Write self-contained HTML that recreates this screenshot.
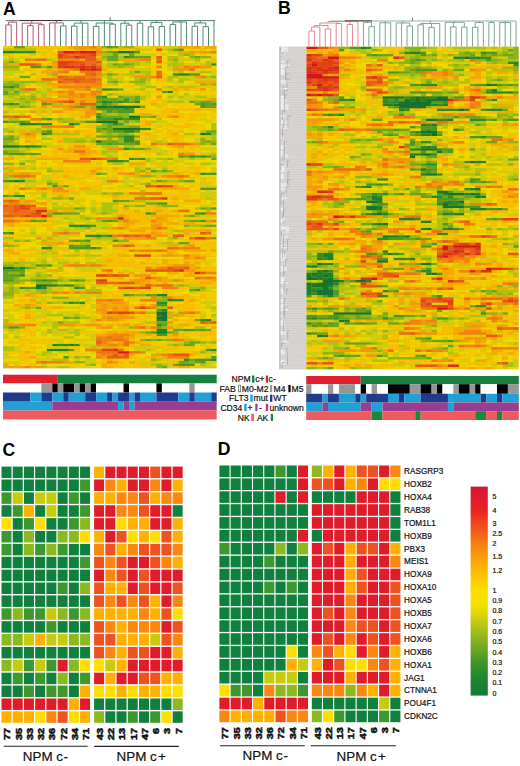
<!DOCTYPE html>
<html><head><meta charset="utf-8"><title>figure</title>
<style>
html,body{margin:0;padding:0;background:#fff;}
body{width:520px;height:766px;position:relative;overflow:hidden;font-family:"Liberation Sans",sans-serif;}
svg{position:absolute;left:0;top:0;}
text{font-family:"Liberation Sans",sans-serif;}
</style></head><body>
<svg width="520" height="766" viewBox="0 0 520 766">
<rect width="520" height="766" fill="#ffffff"/>

<text x="3.0" y="14.6" font-size="17.6" font-weight="bold" fill="#000">A</text>
<text x="278.0" y="14.0" font-size="17.6" font-weight="bold" fill="#000">B</text>
<text x="2.6" y="456.0" font-size="17.6" font-weight="bold" fill="#000">C</text>
<text x="217.8" y="455.4" font-size="17.6" font-weight="bold" fill="#000">D</text>
<defs><filter id="bl11" x="0" y="0" width="1" height="1"><feGaussianBlur stdDeviation="0.40"/></filter><clipPath id="cpbl11"><rect x="3.00" y="46.00" width="213.70" height="322.50"/></clipPath></defs>
<g clip-path="url(#cpbl11)"><g filter="url(#bl11)"><g transform="translate(3.00,46.00) scale(5.47949,2.48077)">
<rect x="0" y="0" width="39" height="130" fill="#d4b709"/>
<path fill="#14732d" d="M21 2h2v1h-2zM17 24h2v1h-2zM20 24h5v1h-5zM23 28h2v1h-2zM17 30h4v1h-4zM20 33h5v1h-5zM36 35h1v1h-1zM17 38h1v1h-1zM0 40h3v1h-3zM4 40h1v1h-1zM0 89h2v1h-2zM6 96h2v1h-2zM6 97h1v1h-1zM28 107h2v1h-2zM29 108h1v1h-1zM28 109h2v1h-2zM29 110h1v1h-1zM28 115h2v1h-2z"/>
<path fill="#20802a" d="M0 2h2v1h-2zM23 2h1v1h-1zM32 11h2v1h-2zM30 18h1v1h-1zM18 22h1v1h-1zM19 24h1v1h-1zM3 31h3v1h-3zM12 31h1v1h-1zM22 34h2v1h-2zM37 35h1v1h-1zM23 36h1v1h-1zM5 40h1v1h-1zM2 54h1v1h-1zM14 72h1v1h-1zM17 76h1v1h-1zM7 81h1v1h-1zM3 89h1v1h-1zM8 96h2v1h-2zM7 97h1v1h-1zM28 100h2v1h-2zM30 102h1v1h-1zM29 106h1v1h-1zM28 108h1v1h-1zM28 110h1v1h-1zM37 110h1v1h-1zM28 114h2v1h-2zM9 120h1v1h-1zM12 120h1v1h-1zM8 122h4v1h-4z"/>
<path fill="#2d8c28" d="M2 2h4v1h-4zM22 4h1v1h-1zM38 7h1v1h-1zM31 11h1v1h-1zM1 16h1v1h-1zM18 17h2v1h-2zM18 20h1v1h-1zM19 22h1v1h-1zM21 22h1v1h-1zM24 22h1v1h-1zM1 23h1v1h-1zM22 25h1v1h-1zM17 28h1v1h-1zM20 29h2v1h-2zM23 29h2v1h-2zM6 31h3v1h-3zM20 31h1v1h-1zM25 33h2v1h-2zM7 35h1v1h-1zM22 36h1v1h-1zM22 37h2v1h-2zM22 38h2v1h-2zM3 40h1v1h-1zM6 40h1v1h-1zM22 41h1v1h-1zM34 44h1v1h-1zM36 44h1v1h-1zM23 45h1v1h-1zM25 45h1v1h-1zM19 46h3v1h-3zM36 51h1v1h-1zM1 54h1v1h-1zM3 54h1v1h-1zM2 60h2v1h-2zM26 67h1v1h-1zM36 67h1v1h-1zM12 72h2v1h-2zM15 72h1v1h-1zM1 75h1v1h-1zM15 76h2v1h-2zM19 76h1v1h-1zM8 81h1v1h-1zM16 81h1v1h-1zM3 92h1v1h-1zM7 94h1v1h-1zM11 96h2v1h-2zM3 97h1v1h-1zM13 97h1v1h-1zM31 102h2v1h-2zM12 103h1v1h-1zM14 103h1v1h-1zM28 103h2v1h-2zM36 110h1v1h-1zM28 112h1v1h-1zM10 120h2v1h-2zM13 120h1v1h-1zM38 122h1v1h-1zM33 126h1v1h-1zM38 126h1v1h-1z"/>
<path fill="#4b9823" d="M19 0h1v1h-1zM32 1h1v1h-1zM20 2h1v1h-1zM24 2h1v1h-1zM23 4h1v1h-1zM5 8h2v1h-2zM8 8h1v1h-1zM34 11h2v1h-2zM0 16h1v1h-1zM20 17h1v1h-1zM29 18h1v1h-1zM17 20h1v1h-1zM22 21h1v1h-1zM17 22h1v1h-1zM20 22h1v1h-1zM22 22h1v1h-1zM0 23h1v1h-1zM2 23h1v1h-1zM7 23h1v1h-1zM18 23h1v1h-1zM36 23h1v1h-1zM38 23h1v1h-1zM36 24h1v1h-1zM17 25h5v1h-5zM23 25h1v1h-1zM19 26h1v1h-1zM21 26h3v1h-3zM17 27h1v1h-1zM8 29h1v1h-1zM17 29h3v1h-3zM22 29h1v1h-1zM0 30h1v1h-1zM3 30h1v1h-1zM15 30h2v1h-2zM13 31h1v1h-1zM21 31h1v1h-1zM18 33h1v1h-1zM8 34h1v1h-1zM20 34h2v1h-2zM24 34h1v1h-1zM8 35h1v1h-1zM21 36h1v1h-1zM24 38h1v1h-1zM19 39h1v1h-1zM24 39h1v1h-1zM1 43h3v1h-3zM5 43h1v1h-1zM32 44h1v1h-1zM35 44h1v1h-1zM37 44h1v1h-1zM24 45h1v1h-1zM22 46h1v1h-1zM27 50h1v1h-1zM37 51h2v1h-2zM0 54h1v1h-1zM9 56h1v1h-1zM36 57h3v1h-3zM0 60h1v1h-1zM20 62h1v1h-1zM28 63h2v1h-2zM38 65h1v1h-1zM9 67h2v1h-2zM35 67h1v1h-1zM5 70h1v1h-1zM19 70h1v1h-1zM36 70h1v1h-1zM16 72h1v1h-1zM0 75h1v1h-1zM18 76h1v1h-1zM13 78h1v1h-1zM15 78h1v1h-1zM20 78h1v1h-1zM12 80h1v1h-1zM15 80h1v1h-1zM12 81h4v1h-4zM17 81h1v1h-1zM6 88h1v1h-1zM8 88h1v1h-1zM2 89h1v1h-1zM0 90h4v1h-4zM1 92h2v1h-2zM0 94h2v1h-2zM6 94h1v1h-1zM8 94h2v1h-2zM13 94h1v1h-1zM10 96h1v1h-1zM4 97h2v1h-2zM14 97h1v1h-1zM35 98h1v1h-1zM22 100h1v1h-1zM26 100h1v1h-1zM13 103h1v1h-1zM28 104h2v1h-2zM28 106h1v1h-1zM1 113h2v1h-2zM33 114h2v1h-2zM36 114h1v1h-1zM27 115h1v1h-1zM28 116h2v1h-2zM12 122h1v1h-1zM37 122h1v1h-1zM11 125h1v1h-1zM38 125h1v1h-1zM35 126h3v1h-3zM36 127h1v1h-1zM32 128h3v1h-3z"/>
<path fill="#69a51e" d="M2 0h2v1h-2zM20 0h1v1h-1zM31 1h1v1h-1zM19 2h1v1h-1zM20 3h1v1h-1zM23 3h1v1h-1zM19 4h2v1h-2zM24 4h3v1h-3zM35 4h1v1h-1zM19 5h2v1h-2zM1 6h1v1h-1zM20 7h1v1h-1zM22 7h1v1h-1zM24 10h1v1h-1zM19 11h1v1h-1zM3 12h2v1h-2zM20 14h1v1h-1zM2 15h1v1h-1zM2 16h1v1h-1zM21 17h1v1h-1zM0 18h1v1h-1zM2 18h1v1h-1zM0 19h1v1h-1zM21 20h1v1h-1zM24 20h1v1h-1zM17 21h4v1h-4zM24 21h1v1h-1zM23 22h1v1h-1zM34 22h1v1h-1zM36 22h2v1h-2zM8 23h1v1h-1zM19 23h1v1h-1zM35 23h1v1h-1zM37 23h1v1h-1zM3 24h1v1h-1zM13 24h2v1h-2zM25 24h1v1h-1zM37 24h2v1h-2zM20 26h1v1h-1zM18 28h4v1h-4zM27 28h1v1h-1zM7 29h1v1h-1zM1 30h2v1h-2zM4 30h1v1h-1zM22 30h1v1h-1zM19 31h1v1h-1zM19 32h1v1h-1zM23 32h2v1h-2zM17 33h1v1h-1zM19 33h1v1h-1zM7 34h1v1h-1zM17 34h1v1h-1zM19 34h1v1h-1zM37 34h2v1h-2zM1 36h1v1h-1zM17 36h4v1h-4zM24 36h1v1h-1zM0 37h2v1h-2zM18 38h3v1h-3zM37 38h1v1h-1zM17 39h2v1h-2zM20 39h4v1h-4zM38 39h1v1h-1zM23 41h3v1h-3zM0 42h1v1h-1zM0 43h1v1h-1zM4 43h1v1h-1zM6 43h1v1h-1zM33 44h1v1h-1zM38 45h1v1h-1zM3 47h1v1h-1zM29 50h1v1h-1zM17 51h1v1h-1zM28 54h1v1h-1zM33 54h2v1h-2zM8 55h1v1h-1zM11 56h1v1h-1zM1 60h1v1h-1zM12 61h1v1h-1zM21 62h2v1h-2zM26 63h2v1h-2zM13 65h1v1h-1zM36 65h1v1h-1zM11 67h3v1h-3zM27 67h1v1h-1zM34 68h1v1h-1zM6 70h2v1h-2zM18 70h1v1h-1zM20 70h1v1h-1zM34 70h2v1h-2zM37 72h2v1h-2zM38 77h1v1h-1zM12 78h1v1h-1zM14 78h1v1h-1zM32 79h2v1h-2zM13 80h2v1h-2zM7 88h1v1h-1zM4 89h1v1h-1zM0 91h1v1h-1zM3 91h1v1h-1zM0 92h1v1h-1zM0 93h2v1h-2zM5 94h1v1h-1zM12 94h1v1h-1zM14 94h1v1h-1zM34 98h1v1h-1zM23 100h1v1h-1zM27 100h1v1h-1zM11 103h1v1h-1zM6 105h1v1h-1zM11 109h1v1h-1zM13 109h1v1h-1zM35 110h1v1h-1zM10 111h1v1h-1zM28 111h2v1h-2zM29 112h1v1h-1zM28 113h1v1h-1zM31 114h2v1h-2zM35 114h1v1h-1zM37 114h1v1h-1zM26 115h1v1h-1zM30 115h1v1h-1zM26 118h1v1h-1zM28 118h1v1h-1zM34 119h2v1h-2zM33 120h2v1h-2zM34 126h1v1h-1zM32 127h2v1h-2zM35 127h1v1h-1zM31 128h1v1h-1zM29 129h1v1h-1z"/>
<path fill="#8cb416" d="M18 0h1v1h-1zM22 0h2v1h-2zM18 2h1v1h-1zM33 3h1v1h-1zM18 4h1v1h-1zM34 4h1v1h-1zM36 4h2v1h-2zM31 5h1v1h-1zM21 7h1v1h-1zM23 7h1v1h-1zM0 8h3v1h-3zM7 8h1v1h-1zM21 8h1v1h-1zM9 11h1v1h-1zM20 11h1v1h-1zM38 12h1v1h-1zM25 13h1v1h-1zM1 14h1v1h-1zM3 14h3v1h-3zM19 14h1v1h-1zM23 14h3v1h-3zM0 15h2v1h-2zM36 15h1v1h-1zM38 15h1v1h-1zM0 17h2v1h-2zM1 19h2v1h-2zM19 19h1v1h-1zM5 20h1v1h-1zM22 20h2v1h-2zM3 21h1v1h-1zM5 21h1v1h-1zM21 21h1v1h-1zM23 21h1v1h-1zM4 22h1v1h-1zM35 22h1v1h-1zM38 22h1v1h-1zM17 23h1v1h-1zM20 23h1v1h-1zM4 24h1v1h-1zM16 24h1v1h-1zM18 26h1v1h-1zM18 27h1v1h-1zM21 27h2v1h-2zM22 28h1v1h-1zM25 28h2v1h-2zM10 29h1v1h-1zM11 30h1v1h-1zM14 30h1v1h-1zM24 30h1v1h-1zM18 31h1v1h-1zM17 32h2v1h-2zM20 32h3v1h-3zM1 34h1v1h-1zM18 34h1v1h-1zM19 35h1v1h-1zM21 35h2v1h-2zM38 35h1v1h-1zM0 36h1v1h-1zM2 37h1v1h-1zM19 37h1v1h-1zM21 37h1v1h-1zM36 37h1v1h-1zM0 38h2v1h-2zM13 38h2v1h-2zM16 38h1v1h-1zM21 38h1v1h-1zM36 38h1v1h-1zM38 38h1v1h-1zM0 39h1v1h-1zM36 39h1v1h-1zM7 40h1v1h-1zM26 41h1v1h-1zM1 42h2v1h-2zM38 44h1v1h-1zM30 45h1v1h-1zM0 47h2v1h-2zM26 49h1v1h-1zM8 50h1v1h-1zM25 50h1v1h-1zM28 50h1v1h-1zM30 50h1v1h-1zM18 51h1v1h-1zM1 52h1v1h-1zM25 52h2v1h-2zM29 54h1v1h-1zM32 54h1v1h-1zM9 55h1v1h-1zM26 55h1v1h-1zM18 59h1v1h-1zM20 59h2v1h-2zM9 61h2v1h-2zM23 62h1v1h-1zM22 64h1v1h-1zM24 64h2v1h-2zM29 64h3v1h-3zM14 65h1v1h-1zM37 65h1v1h-1zM8 67h1v1h-1zM18 67h1v1h-1zM33 68h1v1h-1zM15 69h1v1h-1zM33 70h1v1h-1zM33 72h1v1h-1zM36 72h1v1h-1zM15 73h1v1h-1zM17 77h1v1h-1zM31 77h1v1h-1zM2 78h1v1h-1zM4 78h1v1h-1zM21 78h2v1h-2zM0 80h2v1h-2zM2 87h1v1h-1zM0 88h2v1h-2zM5 89h1v1h-1zM1 91h2v1h-2zM6 92h1v1h-1zM8 92h1v1h-1zM2 93h1v1h-1zM2 94h3v1h-3zM10 94h1v1h-1zM0 95h3v1h-3zM6 95h3v1h-3zM13 96h1v1h-1zM32 96h1v1h-1zM1 97h1v1h-1zM36 97h1v1h-1zM1 98h1v1h-1zM6 98h2v1h-2zM0 99h2v1h-2zM7 99h1v1h-1zM0 100h2v1h-2zM24 100h2v1h-2zM9 101h3v1h-3zM29 101h1v1h-1zM28 102h2v1h-2zM8 103h1v1h-1zM4 105h1v1h-1zM32 107h1v1h-1zM12 109h1v1h-1zM0 113h1v1h-1zM3 113h1v1h-1zM23 113h1v1h-1zM29 113h1v1h-1zM25 115h1v1h-1zM31 115h1v1h-1zM25 118h1v1h-1zM27 118h1v1h-1zM29 118h2v1h-2zM33 119h1v1h-1zM36 119h1v1h-1zM38 119h1v1h-1zM31 120h1v1h-1zM36 123h1v1h-1zM13 125h1v1h-1zM15 125h1v1h-1zM27 126h1v1h-1zM13 127h2v1h-2zM34 127h1v1h-1zM16 128h1v1h-1zM28 128h1v1h-1zM28 129h1v1h-1z"/>
<path fill="#afc30f" d="M21 0h1v1h-1zM0 1h6v1h-6zM24 1h1v1h-1zM30 1h1v1h-1zM18 3h2v1h-2zM32 3h1v1h-1zM34 3h1v1h-1zM21 4h1v1h-1zM30 4h2v1h-2zM1 5h1v1h-1zM8 5h1v1h-1zM18 5h1v1h-1zM21 5h1v1h-1zM30 5h1v1h-1zM35 5h1v1h-1zM0 6h1v1h-1zM2 6h1v1h-1zM22 6h3v1h-3zM26 6h1v1h-1zM31 6h1v1h-1zM37 6h1v1h-1zM19 7h1v1h-1zM24 7h1v1h-1zM30 7h3v1h-3zM37 7h1v1h-1zM19 8h2v1h-2zM22 8h2v1h-2zM31 8h1v1h-1zM0 9h3v1h-3zM23 10h1v1h-1zM25 10h2v1h-2zM32 10h1v1h-1zM36 10h2v1h-2zM5 11h1v1h-1zM8 11h1v1h-1zM18 11h1v1h-1zM22 11h2v1h-2zM26 11h1v1h-1zM19 12h1v1h-1zM30 12h2v1h-2zM37 12h1v1h-1zM19 13h2v1h-2zM24 13h1v1h-1zM26 13h1v1h-1zM30 13h1v1h-1zM32 13h2v1h-2zM0 14h1v1h-1zM2 14h1v1h-1zM6 14h3v1h-3zM21 14h1v1h-1zM32 14h1v1h-1zM3 15h1v1h-1zM20 15h1v1h-1zM24 15h2v1h-2zM37 15h1v1h-1zM3 16h1v1h-1zM26 16h2v1h-2zM30 16h1v1h-1zM32 16h3v1h-3zM2 17h1v1h-1zM8 17h1v1h-1zM17 17h1v1h-1zM25 17h1v1h-1zM1 18h1v1h-1zM3 18h2v1h-2zM6 18h1v1h-1zM5 19h1v1h-1zM7 19h1v1h-1zM20 19h1v1h-1zM33 19h1v1h-1zM1 20h1v1h-1zM3 20h2v1h-2zM7 20h1v1h-1zM25 20h1v1h-1zM30 20h1v1h-1zM32 20h1v1h-1zM35 20h2v1h-2zM2 21h1v1h-1zM4 21h1v1h-1zM25 21h1v1h-1zM0 22h2v1h-2zM3 22h1v1h-1zM5 22h1v1h-1zM30 22h3v1h-3zM3 23h2v1h-2zM9 23h2v1h-2zM1 24h2v1h-2zM5 24h1v1h-1zM15 24h1v1h-1zM0 26h1v1h-1zM19 27h2v1h-2zM1 29h2v1h-2zM9 29h1v1h-1zM11 29h2v1h-2zM28 29h1v1h-1zM10 30h1v1h-1zM12 30h2v1h-2zM21 30h1v1h-1zM23 30h1v1h-1zM27 30h1v1h-1zM22 31h1v1h-1zM38 31h1v1h-1zM38 32h1v1h-1zM0 33h1v1h-1zM6 33h1v1h-1zM8 33h1v1h-1zM38 33h1v1h-1zM0 34h1v1h-1zM5 34h2v1h-2zM36 34h1v1h-1zM9 35h5v1h-5zM18 35h1v1h-1zM20 35h1v1h-1zM23 35h1v1h-1zM33 35h2v1h-2zM2 36h1v1h-1zM38 36h1v1h-1zM7 37h2v1h-2zM11 37h4v1h-4zM16 37h1v1h-1zM38 37h1v1h-1zM11 38h2v1h-2zM15 38h1v1h-1zM28 38h1v1h-1zM1 39h2v1h-2zM37 39h1v1h-1zM18 40h3v1h-3zM22 40h2v1h-2zM0 41h3v1h-3zM4 41h1v1h-1zM3 42h1v1h-1zM18 42h3v1h-3zM18 43h1v1h-1zM28 43h1v1h-1zM38 43h1v1h-1zM19 44h1v1h-1zM26 45h1v1h-1zM28 45h2v1h-2zM34 45h1v1h-1zM4 46h2v1h-2zM26 46h1v1h-1zM20 47h2v1h-2zM36 47h2v1h-2zM5 49h1v1h-1zM8 49h1v1h-1zM24 49h1v1h-1zM29 49h1v1h-1zM1 50h1v1h-1zM9 50h2v1h-2zM24 50h1v1h-1zM0 52h1v1h-1zM24 52h1v1h-1zM27 52h1v1h-1zM0 53h1v1h-1zM3 53h1v1h-1zM4 54h2v1h-2zM8 54h1v1h-1zM27 54h1v1h-1zM30 54h2v1h-2zM25 55h1v1h-1zM10 56h1v1h-1zM23 56h1v1h-1zM25 58h1v1h-1zM2 59h1v1h-1zM7 59h1v1h-1zM19 59h1v1h-1zM7 60h1v1h-1zM25 60h1v1h-1zM3 61h1v1h-1zM11 61h1v1h-1zM37 61h1v1h-1zM24 62h2v1h-2zM9 63h1v1h-1zM18 63h3v1h-3zM18 64h2v1h-2zM23 64h1v1h-1zM28 64h1v1h-1zM9 65h4v1h-4zM16 65h1v1h-1zM18 65h2v1h-2zM35 65h1v1h-1zM14 66h1v1h-1zM16 66h1v1h-1zM18 66h3v1h-3zM37 66h1v1h-1zM17 67h1v1h-1zM19 67h1v1h-1zM14 68h1v1h-1zM35 68h1v1h-1zM11 69h1v1h-1zM14 69h1v1h-1zM16 69h1v1h-1zM17 70h1v1h-1zM21 70h1v1h-1zM12 71h1v1h-1zM34 72h2v1h-2zM13 73h2v1h-2zM18 73h1v1h-1zM11 74h1v1h-1zM31 74h2v1h-2zM5 75h1v1h-1zM9 76h1v1h-1zM0 77h2v1h-2zM18 77h3v1h-3zM30 77h1v1h-1zM3 78h1v1h-1zM7 78h1v1h-1zM14 79h2v1h-2zM29 79h2v1h-2zM2 80h1v1h-1zM8 80h1v1h-1zM13 82h1v1h-1zM7 83h1v1h-1zM9 83h1v1h-1zM11 84h3v1h-3zM15 84h3v1h-3zM7 86h1v1h-1zM0 87h2v1h-2zM3 87h3v1h-3zM7 87h1v1h-1zM10 87h2v1h-2zM13 87h1v1h-1zM15 87h2v1h-2zM2 88h2v1h-2zM5 88h1v1h-1zM7 89h1v1h-1zM10 89h1v1h-1zM6 91h1v1h-1zM7 92h1v1h-1zM5 93h3v1h-3zM10 93h1v1h-1zM11 94h1v1h-1zM15 94h1v1h-1zM3 95h1v1h-1zM9 95h1v1h-1zM1 96h1v1h-1zM14 96h1v1h-1zM31 96h1v1h-1zM33 96h1v1h-1zM0 97h1v1h-1zM2 97h1v1h-1zM8 97h1v1h-1zM16 97h1v1h-1zM34 97h2v1h-2zM0 98h1v1h-1zM2 98h1v1h-1zM4 98h1v1h-1zM8 98h1v1h-1zM15 98h3v1h-3zM36 98h1v1h-1zM2 99h1v1h-1zM5 99h2v1h-2zM8 99h1v1h-1zM0 101h2v1h-2zM28 101h1v1h-1zM6 103h1v1h-1zM9 103h2v1h-2zM3 105h1v1h-1zM5 105h1v1h-1zM28 105h2v1h-2zM38 105h1v1h-1zM26 107h2v1h-2zM30 107h1v1h-1zM8 108h3v1h-3zM13 108h1v1h-1zM38 108h1v1h-1zM14 109h2v1h-2zM30 109h1v1h-1zM0 110h1v1h-1zM0 111h1v1h-1zM7 111h1v1h-1zM9 111h1v1h-1zM11 111h3v1h-3zM26 111h1v1h-1zM9 112h1v1h-1zM9 113h1v1h-1zM35 113h2v1h-2zM1 114h1v1h-1zM8 114h1v1h-1zM10 114h2v1h-2zM13 114h1v1h-1zM8 115h1v1h-1zM12 115h2v1h-2zM13 116h1v1h-1zM2 117h1v1h-1zM11 117h2v1h-2zM34 118h1v1h-1zM37 119h1v1h-1zM30 120h1v1h-1zM32 120h1v1h-1zM0 121h2v1h-2zM16 121h1v1h-1zM0 122h2v1h-2zM26 122h1v1h-1zM7 123h2v1h-2zM38 123h1v1h-1zM7 124h1v1h-1zM27 124h1v1h-1zM14 125h1v1h-1zM9 126h3v1h-3zM28 126h1v1h-1zM0 128h1v1h-1zM15 128h1v1h-1zM27 128h1v1h-1zM29 128h1v1h-1zM36 128h1v1h-1zM7 129h1v1h-1zM10 129h2v1h-2z"/>
<path fill="#d0cd08" d="M4 0h2v1h-2zM30 0h2v1h-2zM19 1h1v1h-1zM25 1h2v1h-2zM29 1h1v1h-1zM36 1h1v1h-1zM38 1h1v1h-1zM6 2h2v1h-2zM30 2h2v1h-2zM0 3h1v1h-1zM5 3h1v1h-1zM21 3h2v1h-2zM24 3h4v1h-4zM29 3h1v1h-1zM1 4h1v1h-1zM3 4h1v1h-1zM32 4h1v1h-1zM0 5h1v1h-1zM2 5h1v1h-1zM9 5h1v1h-1zM32 5h3v1h-3zM38 5h1v1h-1zM19 6h2v1h-2zM25 6h1v1h-1zM30 6h1v1h-1zM32 6h1v1h-1zM35 6h1v1h-1zM38 6h1v1h-1zM18 7h1v1h-1zM25 7h2v1h-2zM33 7h2v1h-2zM36 7h1v1h-1zM18 8h1v1h-1zM30 8h1v1h-1zM24 9h3v1h-3zM30 9h1v1h-1zM0 10h4v1h-4zM19 10h1v1h-1zM31 10h1v1h-1zM34 10h2v1h-2zM38 10h1v1h-1zM0 11h2v1h-2zM21 11h1v1h-1zM24 11h2v1h-2zM38 11h1v1h-1zM18 12h1v1h-1zM23 12h1v1h-1zM32 12h3v1h-3zM0 13h3v1h-3zM21 13h1v1h-1zM34 13h5v1h-5zM22 14h1v1h-1zM26 14h1v1h-1zM30 14h2v1h-2zM4 15h1v1h-1zM6 15h2v1h-2zM19 15h1v1h-1zM26 15h1v1h-1zM7 16h1v1h-1zM25 16h1v1h-1zM29 16h1v1h-1zM31 16h1v1h-1zM35 16h1v1h-1zM6 17h2v1h-2zM24 17h1v1h-1zM38 17h1v1h-1zM5 18h1v1h-1zM7 18h1v1h-1zM26 18h1v1h-1zM31 18h1v1h-1zM3 19h1v1h-1zM6 19h1v1h-1zM21 19h4v1h-4zM26 19h1v1h-1zM31 19h1v1h-1zM0 20h1v1h-1zM2 20h1v1h-1zM6 20h1v1h-1zM8 20h1v1h-1zM19 20h1v1h-1zM26 20h1v1h-1zM31 20h1v1h-1zM33 20h2v1h-2zM37 20h2v1h-2zM0 21h2v1h-2zM30 21h1v1h-1zM32 21h5v1h-5zM2 22h1v1h-1zM6 22h1v1h-1zM29 22h1v1h-1zM33 22h1v1h-1zM5 23h1v1h-1zM21 23h1v1h-1zM0 24h1v1h-1zM28 24h1v1h-1zM1 25h1v1h-1zM6 25h3v1h-3zM1 26h4v1h-4zM0 27h1v1h-1zM3 27h1v1h-1zM6 27h1v1h-1zM8 27h1v1h-1zM23 27h2v1h-2zM7 28h1v1h-1zM0 29h1v1h-1zM36 29h1v1h-1zM6 30h1v1h-1zM28 30h2v1h-2zM37 30h1v1h-1zM2 31h1v1h-1zM23 31h1v1h-1zM1 32h1v1h-1zM3 32h1v1h-1zM28 32h1v1h-1zM1 33h5v1h-5zM7 33h1v1h-1zM27 33h1v1h-1zM2 34h1v1h-1zM4 34h1v1h-1zM35 35h1v1h-1zM7 36h1v1h-1zM27 36h1v1h-1zM36 36h2v1h-2zM15 37h1v1h-1zM18 37h1v1h-1zM20 37h1v1h-1zM29 37h1v1h-1zM35 37h1v1h-1zM37 37h1v1h-1zM2 38h1v1h-1zM6 38h1v1h-1zM27 38h1v1h-1zM29 38h1v1h-1zM35 38h1v1h-1zM5 39h1v1h-1zM7 39h2v1h-2zM8 40h3v1h-3zM26 40h1v1h-1zM3 41h1v1h-1zM5 41h2v1h-2zM18 41h1v1h-1zM27 41h2v1h-2zM36 41h3v1h-3zM4 42h1v1h-1zM27 42h3v1h-3zM19 43h2v1h-2zM29 43h1v1h-1zM36 43h2v1h-2zM1 44h1v1h-1zM3 44h1v1h-1zM5 44h1v1h-1zM20 44h1v1h-1zM27 45h1v1h-1zM31 45h3v1h-3zM35 45h2v1h-2zM3 46h1v1h-1zM27 46h1v1h-1zM29 46h1v1h-1zM31 46h2v1h-2zM2 47h1v1h-1zM5 47h1v1h-1zM19 47h1v1h-1zM27 47h4v1h-4zM33 47h2v1h-2zM38 47h1v1h-1zM3 48h3v1h-3zM23 48h3v1h-3zM29 48h1v1h-1zM4 49h1v1h-1zM6 49h2v1h-2zM25 49h1v1h-1zM27 49h1v1h-1zM38 49h1v1h-1zM0 50h1v1h-1zM26 50h1v1h-1zM38 50h1v1h-1zM27 51h3v1h-3zM7 52h2v1h-2zM22 52h2v1h-2zM1 53h2v1h-2zM4 53h2v1h-2zM7 53h2v1h-2zM12 53h2v1h-2zM18 53h3v1h-3zM22 53h1v1h-1zM34 53h1v1h-1zM36 53h1v1h-1zM6 54h2v1h-2zM9 54h1v1h-1zM18 54h1v1h-1zM22 54h3v1h-3zM4 55h2v1h-2zM18 55h2v1h-2zM22 55h1v1h-1zM36 55h2v1h-2zM0 56h1v1h-1zM2 56h1v1h-1zM4 56h2v1h-2zM8 56h1v1h-1zM21 56h2v1h-2zM36 56h3v1h-3zM15 58h3v1h-3zM37 58h1v1h-1zM4 59h3v1h-3zM12 59h2v1h-2zM15 59h3v1h-3zM22 59h1v1h-1zM36 59h3v1h-3zM24 60h1v1h-1zM36 60h3v1h-3zM6 61h3v1h-3zM20 61h1v1h-1zM38 61h1v1h-1zM8 62h1v1h-1zM12 62h3v1h-3zM16 62h1v1h-1zM26 62h2v1h-2zM11 63h1v1h-1zM13 63h1v1h-1zM16 63h1v1h-1zM38 63h1v1h-1zM9 64h2v1h-2zM12 64h1v1h-1zM14 64h1v1h-1zM16 64h1v1h-1zM20 64h1v1h-1zM36 64h2v1h-2zM15 65h1v1h-1zM17 65h1v1h-1zM20 65h1v1h-1zM13 66h1v1h-1zM17 66h1v1h-1zM16 67h1v1h-1zM20 67h1v1h-1zM9 68h5v1h-5zM15 68h1v1h-1zM20 68h1v1h-1zM36 68h3v1h-3zM12 69h2v1h-2zM26 69h1v1h-1zM9 70h2v1h-2zM12 70h4v1h-4zM9 71h3v1h-3zM15 71h4v1h-4zM37 71h1v1h-1zM17 72h3v1h-3zM5 73h1v1h-1zM8 73h1v1h-1zM10 73h3v1h-3zM16 73h2v1h-2zM3 74h1v1h-1zM5 74h1v1h-1zM9 74h2v1h-2zM12 74h3v1h-3zM16 74h1v1h-1zM30 74h1v1h-1zM17 75h2v1h-2zM30 75h1v1h-1zM34 75h1v1h-1zM3 76h6v1h-6zM10 76h4v1h-4zM10 77h2v1h-2zM15 77h1v1h-1zM32 77h1v1h-1zM0 78h2v1h-2zM5 78h1v1h-1zM8 78h3v1h-3zM16 78h4v1h-4zM6 79h1v1h-1zM16 79h2v1h-2zM19 79h1v1h-1zM21 79h1v1h-1zM28 79h1v1h-1zM31 79h1v1h-1zM7 80h1v1h-1zM9 80h1v1h-1zM5 81h1v1h-1zM9 81h3v1h-3zM18 81h1v1h-1zM20 81h1v1h-1zM15 82h1v1h-1zM6 83h1v1h-1zM8 83h1v1h-1zM13 83h1v1h-1zM15 83h1v1h-1zM7 84h2v1h-2zM14 84h1v1h-1zM6 85h2v1h-2zM9 85h1v1h-1zM15 85h2v1h-2zM6 86h1v1h-1zM9 86h3v1h-3zM17 86h1v1h-1zM6 87h1v1h-1zM8 87h1v1h-1zM12 87h1v1h-1zM17 87h2v1h-2zM37 87h1v1h-1zM4 88h1v1h-1zM9 88h2v1h-2zM6 89h1v1h-1zM13 89h5v1h-5zM4 90h1v1h-1zM14 90h3v1h-3zM22 90h1v1h-1zM5 91h1v1h-1zM7 91h1v1h-1zM9 91h1v1h-1zM4 92h2v1h-2zM3 93h2v1h-2zM8 93h1v1h-1zM11 93h4v1h-4zM16 94h1v1h-1zM5 95h1v1h-1zM10 95h2v1h-2zM13 95h2v1h-2zM0 96h1v1h-1zM16 96h3v1h-3zM34 96h2v1h-2zM9 97h2v1h-2zM12 97h1v1h-1zM19 97h1v1h-1zM37 97h2v1h-2zM3 98h1v1h-1zM5 98h1v1h-1zM9 98h2v1h-2zM12 98h3v1h-3zM26 98h1v1h-1zM37 98h1v1h-1zM3 99h2v1h-2zM34 99h1v1h-1zM14 100h4v1h-4zM5 101h4v1h-4zM12 101h4v1h-4zM17 101h1v1h-1zM7 102h1v1h-1zM10 102h4v1h-4zM15 102h1v1h-1zM0 103h2v1h-2zM7 103h1v1h-1zM36 103h3v1h-3zM14 104h1v1h-1zM16 104h1v1h-1zM37 104h1v1h-1zM11 105h3v1h-3zM16 105h1v1h-1zM37 105h1v1h-1zM0 106h3v1h-3zM6 106h2v1h-2zM38 106h1v1h-1zM7 107h2v1h-2zM10 107h4v1h-4zM16 107h1v1h-1zM31 107h1v1h-1zM0 108h2v1h-2zM6 108h2v1h-2zM11 108h2v1h-2zM14 108h1v1h-1zM36 108h1v1h-1zM1 109h1v1h-1zM6 109h1v1h-1zM16 109h1v1h-1zM36 109h1v1h-1zM38 109h1v1h-1zM1 110h2v1h-2zM8 110h1v1h-1zM11 110h1v1h-1zM13 110h1v1h-1zM38 110h1v1h-1zM1 111h1v1h-1zM8 111h1v1h-1zM16 111h1v1h-1zM25 111h1v1h-1zM7 112h2v1h-2zM12 113h1v1h-1zM21 113h2v1h-2zM31 113h2v1h-2zM0 114h1v1h-1zM2 114h1v1h-1zM6 114h1v1h-1zM9 114h1v1h-1zM12 114h1v1h-1zM14 114h1v1h-1zM1 115h2v1h-2zM7 115h1v1h-1zM9 115h3v1h-3zM0 116h1v1h-1zM2 116h1v1h-1zM7 116h1v1h-1zM9 116h2v1h-2zM15 116h2v1h-2zM0 117h1v1h-1zM16 117h1v1h-1zM27 117h1v1h-1zM33 117h1v1h-1zM9 118h2v1h-2zM13 118h4v1h-4zM35 118h1v1h-1zM1 119h1v1h-1zM10 119h1v1h-1zM32 119h1v1h-1zM8 120h1v1h-1zM14 120h3v1h-3zM2 121h1v1h-1zM8 121h4v1h-4zM15 121h1v1h-1zM17 121h1v1h-1zM24 121h5v1h-5zM37 121h1v1h-1zM2 122h1v1h-1zM24 122h2v1h-2zM27 122h1v1h-1zM29 122h1v1h-1zM36 122h1v1h-1zM10 123h2v1h-2zM16 123h1v1h-1zM35 123h1v1h-1zM37 123h1v1h-1zM0 124h1v1h-1zM6 124h1v1h-1zM8 124h2v1h-2zM0 125h2v1h-2zM8 125h1v1h-1zM12 125h1v1h-1zM37 125h1v1h-1zM6 126h3v1h-3zM13 126h1v1h-1zM15 126h2v1h-2zM25 126h1v1h-1zM29 126h1v1h-1zM2 127h1v1h-1zM15 127h2v1h-2zM27 127h1v1h-1zM37 127h2v1h-2zM2 128h1v1h-1zM7 128h1v1h-1zM25 128h2v1h-2zM30 128h1v1h-1zM37 128h1v1h-1zM8 129h2v1h-2zM36 129h3v1h-3z"/>
<path fill="#f0d700" d="M0 0h1v1h-1zM25 0h2v1h-2zM9 1h1v1h-1zM20 1h1v1h-1zM27 1h1v1h-1zM33 1h1v1h-1zM37 1h1v1h-1zM9 2h1v1h-1zM25 2h3v1h-3zM29 2h1v1h-1zM2 3h3v1h-3zM6 3h1v1h-1zM28 3h1v1h-1zM30 3h2v1h-2zM35 3h1v1h-1zM37 3h2v1h-2zM0 4h1v1h-1zM2 4h1v1h-1zM5 4h2v1h-2zM29 4h1v1h-1zM33 4h1v1h-1zM3 5h1v1h-1zM27 5h1v1h-1zM29 5h1v1h-1zM36 5h2v1h-2zM18 6h1v1h-1zM21 6h1v1h-1zM27 6h1v1h-1zM33 6h2v1h-2zM36 6h1v1h-1zM27 7h1v1h-1zM29 7h1v1h-1zM3 8h2v1h-2zM24 8h2v1h-2zM29 8h1v1h-1zM38 8h1v1h-1zM3 9h1v1h-1zM28 9h2v1h-2zM35 9h1v1h-1zM37 9h1v1h-1zM4 10h1v1h-1zM13 10h1v1h-1zM20 10h1v1h-1zM22 10h1v1h-1zM29 10h2v1h-2zM33 10h1v1h-1zM2 11h3v1h-3zM6 11h1v1h-1zM27 11h1v1h-1zM30 11h1v1h-1zM36 11h2v1h-2zM1 12h1v1h-1zM5 12h1v1h-1zM22 12h1v1h-1zM3 13h2v1h-2zM18 13h1v1h-1zM22 13h2v1h-2zM27 13h1v1h-1zM31 13h1v1h-1zM9 14h1v1h-1zM18 14h1v1h-1zM27 14h1v1h-1zM33 14h2v1h-2zM5 15h1v1h-1zM21 15h3v1h-3zM27 15h2v1h-2zM30 15h1v1h-1zM33 15h1v1h-1zM4 16h3v1h-3zM19 16h3v1h-3zM24 16h1v1h-1zM28 16h1v1h-1zM9 17h2v1h-2zM16 17h1v1h-1zM22 17h2v1h-2zM26 17h2v1h-2zM37 17h1v1h-1zM19 18h1v1h-1zM21 18h1v1h-1zM24 18h1v1h-1zM32 18h4v1h-4zM4 19h1v1h-1zM18 19h1v1h-1zM25 19h1v1h-1zM27 19h4v1h-4zM32 19h1v1h-1zM34 19h1v1h-1zM36 19h1v1h-1zM9 20h1v1h-1zM27 20h1v1h-1zM29 20h1v1h-1zM27 21h1v1h-1zM31 21h1v1h-1zM25 22h1v1h-1zM28 22h1v1h-1zM6 23h1v1h-1zM22 23h1v1h-1zM30 23h1v1h-1zM26 24h2v1h-2zM30 24h2v1h-2zM33 24h1v1h-1zM35 24h1v1h-1zM2 25h3v1h-3zM9 25h1v1h-1zM27 25h2v1h-2zM24 26h1v1h-1zM32 26h3v1h-3zM36 26h2v1h-2zM1 27h2v1h-2zM4 27h2v1h-2zM7 27h1v1h-1zM9 27h1v1h-1zM5 28h2v1h-2zM8 28h2v1h-2zM16 28h1v1h-1zM37 28h1v1h-1zM3 29h2v1h-2zM26 29h2v1h-2zM29 29h2v1h-2zM5 30h1v1h-1zM7 30h1v1h-1zM30 30h1v1h-1zM34 30h3v1h-3zM38 30h1v1h-1zM0 31h2v1h-2zM9 31h1v1h-1zM11 31h1v1h-1zM15 31h1v1h-1zM31 31h2v1h-2zM36 31h2v1h-2zM0 32h1v1h-1zM2 32h1v1h-1zM5 32h2v1h-2zM13 32h1v1h-1zM27 32h1v1h-1zM29 32h1v1h-1zM37 32h1v1h-1zM9 33h1v1h-1zM12 33h4v1h-4zM28 33h1v1h-1zM33 33h1v1h-1zM37 33h1v1h-1zM26 34h2v1h-2zM29 34h1v1h-1zM33 34h3v1h-3zM0 35h1v1h-1zM28 35h1v1h-1zM32 35h1v1h-1zM6 36h1v1h-1zM8 36h1v1h-1zM25 36h1v1h-1zM35 36h1v1h-1zM3 37h1v1h-1zM6 37h1v1h-1zM28 37h1v1h-1zM30 37h1v1h-1zM33 37h2v1h-2zM3 38h1v1h-1zM7 38h2v1h-2zM25 38h2v1h-2zM30 38h1v1h-1zM33 38h2v1h-2zM3 39h2v1h-2zM6 39h1v1h-1zM9 39h1v1h-1zM15 39h1v1h-1zM26 39h1v1h-1zM11 40h1v1h-1zM21 40h1v1h-1zM28 40h2v1h-2zM36 40h3v1h-3zM7 41h2v1h-2zM16 41h2v1h-2zM29 41h2v1h-2zM5 42h2v1h-2zM21 42h3v1h-3zM31 42h1v1h-1zM36 42h2v1h-2zM7 43h1v1h-1zM21 43h1v1h-1zM23 43h1v1h-1zM25 43h1v1h-1zM27 43h1v1h-1zM31 43h1v1h-1zM0 44h1v1h-1zM2 44h1v1h-1zM4 44h1v1h-1zM21 44h1v1h-1zM25 44h7v1h-7zM3 45h1v1h-1zM21 45h2v1h-2zM37 45h1v1h-1zM1 46h2v1h-2zM6 46h3v1h-3zM18 46h1v1h-1zM23 46h2v1h-2zM28 46h1v1h-1zM30 46h1v1h-1zM33 46h6v1h-6zM4 47h1v1h-1zM6 47h1v1h-1zM8 47h2v1h-2zM18 47h1v1h-1zM22 47h1v1h-1zM26 47h1v1h-1zM32 47h1v1h-1zM35 47h1v1h-1zM2 48h1v1h-1zM6 48h1v1h-1zM11 48h3v1h-3zM18 48h4v1h-4zM26 48h2v1h-2zM33 48h1v1h-1zM37 48h2v1h-2zM23 49h1v1h-1zM28 49h1v1h-1zM37 49h1v1h-1zM2 50h4v1h-4zM7 50h1v1h-1zM18 50h1v1h-1zM22 50h2v1h-2zM36 50h2v1h-2zM7 51h2v1h-2zM6 52h1v1h-1zM17 52h2v1h-2zM21 52h1v1h-1zM34 52h1v1h-1zM36 52h3v1h-3zM6 53h1v1h-1zM10 53h1v1h-1zM15 53h1v1h-1zM21 53h1v1h-1zM23 53h1v1h-1zM27 53h1v1h-1zM33 53h1v1h-1zM35 53h1v1h-1zM15 54h2v1h-2zM25 54h1v1h-1zM1 55h2v1h-2zM20 55h2v1h-2zM23 55h1v1h-1zM32 55h1v1h-1zM38 55h1v1h-1zM1 56h1v1h-1zM3 56h1v1h-1zM6 56h2v1h-2zM13 56h1v1h-1zM18 56h3v1h-3zM24 56h2v1h-2zM33 56h1v1h-1zM27 57h1v1h-1zM34 57h1v1h-1zM0 58h1v1h-1zM3 58h3v1h-3zM18 58h3v1h-3zM23 58h2v1h-2zM36 58h1v1h-1zM0 59h1v1h-1zM3 59h1v1h-1zM14 59h1v1h-1zM34 59h2v1h-2zM4 60h1v1h-1zM6 60h1v1h-1zM8 60h1v1h-1zM12 60h1v1h-1zM14 60h4v1h-4zM26 60h1v1h-1zM2 61h1v1h-1zM4 61h2v1h-2zM15 61h5v1h-5zM6 62h2v1h-2zM9 62h1v1h-1zM11 62h1v1h-1zM15 62h1v1h-1zM17 62h3v1h-3zM29 62h1v1h-1zM32 62h1v1h-1zM37 62h1v1h-1zM10 63h1v1h-1zM12 63h1v1h-1zM14 63h2v1h-2zM36 63h2v1h-2zM13 64h1v1h-1zM15 64h1v1h-1zM17 64h1v1h-1zM21 64h1v1h-1zM33 64h3v1h-3zM38 64h1v1h-1zM23 65h3v1h-3zM30 65h3v1h-3zM34 65h1v1h-1zM15 66h1v1h-1zM36 66h1v1h-1zM38 66h1v1h-1zM14 67h2v1h-2zM32 67h1v1h-1zM17 68h3v1h-3zM32 69h1v1h-1zM38 69h1v1h-1zM11 70h1v1h-1zM16 70h1v1h-1zM31 70h1v1h-1zM3 71h3v1h-3zM7 71h2v1h-2zM13 71h2v1h-2zM19 71h2v1h-2zM38 71h1v1h-1zM10 72h2v1h-2zM20 72h1v1h-1zM0 73h5v1h-5zM6 73h2v1h-2zM9 73h1v1h-1zM32 73h1v1h-1zM38 73h1v1h-1zM0 74h1v1h-1zM2 74h1v1h-1zM4 74h1v1h-1zM6 74h2v1h-2zM15 74h1v1h-1zM17 74h2v1h-2zM3 75h1v1h-1zM6 75h1v1h-1zM8 75h1v1h-1zM14 75h1v1h-1zM16 75h1v1h-1zM22 75h1v1h-1zM31 75h1v1h-1zM38 75h1v1h-1zM14 76h1v1h-1zM37 76h1v1h-1zM4 77h2v1h-2zM12 77h3v1h-3zM28 77h2v1h-2zM33 77h1v1h-1zM6 78h1v1h-1zM25 78h2v1h-2zM29 78h1v1h-1zM31 78h2v1h-2zM4 79h2v1h-2zM18 79h1v1h-1zM20 79h1v1h-1zM25 79h2v1h-2zM3 80h4v1h-4zM10 80h2v1h-2zM16 80h2v1h-2zM19 80h1v1h-1zM3 81h2v1h-2zM6 81h1v1h-1zM19 81h1v1h-1zM23 81h1v1h-1zM28 81h1v1h-1zM12 82h1v1h-1zM14 82h1v1h-1zM3 83h2v1h-2zM10 83h2v1h-2zM16 83h2v1h-2zM23 83h1v1h-1zM32 83h2v1h-2zM36 83h1v1h-1zM1 84h1v1h-1zM0 85h1v1h-1zM5 85h1v1h-1zM8 85h1v1h-1zM11 85h1v1h-1zM13 85h2v1h-2zM17 85h1v1h-1zM27 85h6v1h-6zM37 85h2v1h-2zM5 86h1v1h-1zM8 86h1v1h-1zM14 86h1v1h-1zM16 86h1v1h-1zM24 86h1v1h-1zM9 87h1v1h-1zM14 87h1v1h-1zM38 87h1v1h-1zM36 88h1v1h-1zM38 88h1v1h-1zM8 89h2v1h-2zM11 89h2v1h-2zM21 89h1v1h-1zM11 90h3v1h-3zM17 90h1v1h-1zM4 91h1v1h-1zM8 91h1v1h-1zM10 91h1v1h-1zM12 91h1v1h-1zM24 91h1v1h-1zM28 91h2v1h-2zM9 92h1v1h-1zM11 92h4v1h-4zM16 92h1v1h-1zM27 92h3v1h-3zM31 92h2v1h-2zM35 92h4v1h-4zM15 93h1v1h-1zM22 93h1v1h-1zM31 93h1v1h-1zM33 93h2v1h-2zM4 95h1v1h-1zM12 95h1v1h-1zM16 95h1v1h-1zM2 96h4v1h-4zM15 96h1v1h-1zM19 96h1v1h-1zM11 97h1v1h-1zM15 97h1v1h-1zM17 97h2v1h-2zM20 97h1v1h-1zM11 98h1v1h-1zM18 98h3v1h-3zM25 98h1v1h-1zM28 98h1v1h-1zM33 98h1v1h-1zM38 98h1v1h-1zM28 99h1v1h-1zM31 99h3v1h-3zM8 100h1v1h-1zM10 100h2v1h-2zM13 100h1v1h-1zM31 100h1v1h-1zM34 100h2v1h-2zM2 101h1v1h-1zM4 101h1v1h-1zM16 101h1v1h-1zM0 102h2v1h-2zM8 102h1v1h-1zM14 102h1v1h-1zM36 102h1v1h-1zM2 103h1v1h-1zM16 103h1v1h-1zM23 103h2v1h-2zM26 103h2v1h-2zM31 103h2v1h-2zM35 103h1v1h-1zM0 104h2v1h-2zM8 104h6v1h-6zM15 104h1v1h-1zM36 104h1v1h-1zM38 104h1v1h-1zM0 105h1v1h-1zM15 105h1v1h-1zM5 106h1v1h-1zM9 106h5v1h-5zM16 106h1v1h-1zM26 106h2v1h-2zM31 106h1v1h-1zM36 106h2v1h-2zM1 107h2v1h-2zM6 107h1v1h-1zM9 107h1v1h-1zM14 107h1v1h-1zM37 107h2v1h-2zM2 108h2v1h-2zM15 108h1v1h-1zM24 108h1v1h-1zM27 108h1v1h-1zM37 108h1v1h-1zM0 109h1v1h-1zM2 109h1v1h-1zM8 109h3v1h-3zM32 109h2v1h-2zM37 109h1v1h-1zM6 110h2v1h-2zM9 110h2v1h-2zM12 110h1v1h-1zM14 110h1v1h-1zM26 110h1v1h-1zM30 110h1v1h-1zM2 111h2v1h-2zM5 111h1v1h-1zM14 111h2v1h-2zM17 111h3v1h-3zM21 111h1v1h-1zM23 111h2v1h-2zM31 111h2v1h-2zM6 113h3v1h-3zM10 113h2v1h-2zM13 113h2v1h-2zM16 113h1v1h-1zM20 113h1v1h-1zM33 113h2v1h-2zM37 113h1v1h-1zM7 114h1v1h-1zM15 114h3v1h-3zM19 114h1v1h-1zM25 114h1v1h-1zM0 115h1v1h-1zM6 115h1v1h-1zM1 116h1v1h-1zM3 116h1v1h-1zM6 116h1v1h-1zM8 116h1v1h-1zM12 116h1v1h-1zM14 116h1v1h-1zM1 117h1v1h-1zM4 117h7v1h-7zM13 117h3v1h-3zM26 117h1v1h-1zM34 117h2v1h-2zM37 117h1v1h-1zM0 118h1v1h-1zM2 118h1v1h-1zM11 118h2v1h-2zM0 119h1v1h-1zM9 119h1v1h-1zM11 119h1v1h-1zM13 119h1v1h-1zM15 119h2v1h-2zM28 119h2v1h-2zM0 120h3v1h-3zM5 120h3v1h-3zM35 120h1v1h-1zM37 120h1v1h-1zM7 121h1v1h-1zM12 121h1v1h-1zM14 121h1v1h-1zM35 121h2v1h-2zM38 121h1v1h-1zM6 122h2v1h-2zM14 122h1v1h-1zM23 122h1v1h-1zM28 122h1v1h-1zM35 122h1v1h-1zM6 123h1v1h-1zM9 123h1v1h-1zM12 123h1v1h-1zM14 123h2v1h-2zM26 123h2v1h-2zM30 123h1v1h-1zM1 124h2v1h-2zM10 124h2v1h-2zM15 124h2v1h-2zM24 124h3v1h-3zM38 124h1v1h-1zM9 125h2v1h-2zM16 125h1v1h-1zM25 125h1v1h-1zM34 125h3v1h-3zM0 126h3v1h-3zM5 126h1v1h-1zM12 126h1v1h-1zM14 126h1v1h-1zM17 126h1v1h-1zM23 126h1v1h-1zM26 126h1v1h-1zM5 127h1v1h-1zM1 128h1v1h-1zM3 128h1v1h-1zM6 128h1v1h-1zM8 128h4v1h-4zM14 128h1v1h-1zM17 128h1v1h-1zM35 128h1v1h-1zM38 128h1v1h-1zM16 129h2v1h-2z"/>
<path fill="#f4ca00" d="M1 0h1v1h-1zM8 0h3v1h-3zM24 0h1v1h-1zM28 0h2v1h-2zM6 1h2v1h-2zM18 1h1v1h-1zM22 1h1v1h-1zM34 1h2v1h-2zM8 2h1v1h-1zM28 2h1v1h-1zM1 3h1v1h-1zM8 3h1v1h-1zM36 3h1v1h-1zM4 4h1v1h-1zM7 4h3v1h-3zM27 4h1v1h-1zM38 4h1v1h-1zM3 6h1v1h-1zM5 6h4v1h-4zM29 6h1v1h-1zM7 7h1v1h-1zM28 7h1v1h-1zM35 7h1v1h-1zM26 8h2v1h-2zM6 9h2v1h-2zM19 9h4v1h-4zM27 9h1v1h-1zM36 9h1v1h-1zM38 9h1v1h-1zM5 10h2v1h-2zM12 10h1v1h-1zM18 10h1v1h-1zM21 10h1v1h-1zM27 10h1v1h-1zM7 11h1v1h-1zM13 11h1v1h-1zM29 11h1v1h-1zM0 12h1v1h-1zM2 12h1v1h-1zM20 12h1v1h-1zM29 12h1v1h-1zM5 13h1v1h-1zM28 14h2v1h-2zM18 15h1v1h-1zM29 15h1v1h-1zM31 15h2v1h-2zM34 15h2v1h-2zM18 16h1v1h-1zM22 16h2v1h-2zM36 16h1v1h-1zM29 17h2v1h-2zM18 18h1v1h-1zM20 18h1v1h-1zM22 18h2v1h-2zM25 18h1v1h-1zM27 18h2v1h-2zM36 18h3v1h-3zM35 19h1v1h-1zM37 19h2v1h-2zM20 20h1v1h-1zM26 21h1v1h-1zM29 21h1v1h-1zM26 22h1v1h-1zM23 23h1v1h-1zM25 23h2v1h-2zM31 23h4v1h-4zM29 24h1v1h-1zM32 24h1v1h-1zM34 24h1v1h-1zM0 25h1v1h-1zM5 25h1v1h-1zM10 25h1v1h-1zM24 25h1v1h-1zM26 25h1v1h-1zM29 25h1v1h-1zM13 26h1v1h-1zM25 26h4v1h-4zM35 26h1v1h-1zM10 27h2v1h-2zM28 27h1v1h-1zM31 27h1v1h-1zM33 27h1v1h-1zM37 27h2v1h-2zM11 28h1v1h-1zM13 28h1v1h-1zM33 28h1v1h-1zM35 28h2v1h-2zM38 28h1v1h-1zM13 29h1v1h-1zM15 29h2v1h-2zM25 29h1v1h-1zM31 29h3v1h-3zM35 29h1v1h-1zM37 29h2v1h-2zM8 30h2v1h-2zM31 30h3v1h-3zM10 31h1v1h-1zM14 31h1v1h-1zM16 31h2v1h-2zM24 31h2v1h-2zM27 31h3v1h-3zM35 31h1v1h-1zM4 32h1v1h-1zM14 32h1v1h-1zM26 32h1v1h-1zM30 32h1v1h-1zM34 32h3v1h-3zM10 33h2v1h-2zM16 33h1v1h-1zM29 33h4v1h-4zM34 33h3v1h-3zM10 34h1v1h-1zM16 34h1v1h-1zM25 34h1v1h-1zM31 34h1v1h-1zM1 35h2v1h-2zM14 35h1v1h-1zM17 35h1v1h-1zM24 35h1v1h-1zM27 35h1v1h-1zM29 35h1v1h-1zM9 36h1v1h-1zM12 36h3v1h-3zM26 36h1v1h-1zM28 36h2v1h-2zM33 36h2v1h-2zM9 37h1v1h-1zM17 37h1v1h-1zM25 37h1v1h-1zM32 37h1v1h-1zM9 38h1v1h-1zM32 38h1v1h-1zM10 39h2v1h-2zM17 40h1v1h-1zM24 40h2v1h-2zM33 40h1v1h-1zM31 41h1v1h-1zM33 41h1v1h-1zM35 41h1v1h-1zM7 42h2v1h-2zM24 42h2v1h-2zM30 42h1v1h-1zM32 42h1v1h-1zM34 42h2v1h-2zM38 42h1v1h-1zM8 43h1v1h-1zM10 43h1v1h-1zM22 43h1v1h-1zM24 43h1v1h-1zM26 43h1v1h-1zM30 43h1v1h-1zM35 43h1v1h-1zM6 44h1v1h-1zM8 44h1v1h-1zM16 44h3v1h-3zM22 44h3v1h-3zM2 45h1v1h-1zM4 45h1v1h-1zM0 46h1v1h-1zM10 46h1v1h-1zM16 46h2v1h-2zM25 46h1v1h-1zM11 47h1v1h-1zM16 47h1v1h-1zM31 47h1v1h-1zM0 48h1v1h-1zM7 48h4v1h-4zM14 48h4v1h-4zM22 48h1v1h-1zM30 48h3v1h-3zM34 48h3v1h-3zM9 49h1v1h-1zM12 49h1v1h-1zM15 49h1v1h-1zM19 49h1v1h-1zM22 49h1v1h-1zM30 49h1v1h-1zM32 49h2v1h-2zM36 49h1v1h-1zM6 50h1v1h-1zM19 50h1v1h-1zM21 50h1v1h-1zM31 50h2v1h-2zM34 50h1v1h-1zM10 51h1v1h-1zM12 51h1v1h-1zM19 51h2v1h-2zM33 51h1v1h-1zM13 52h2v1h-2zM16 52h1v1h-1zM19 52h1v1h-1zM35 52h1v1h-1zM9 53h1v1h-1zM11 53h1v1h-1zM16 53h1v1h-1zM24 53h1v1h-1zM26 53h1v1h-1zM28 53h2v1h-2zM37 53h2v1h-2zM11 54h4v1h-4zM17 54h1v1h-1zM26 54h1v1h-1zM35 54h1v1h-1zM37 54h2v1h-2zM0 55h1v1h-1zM3 55h1v1h-1zM7 55h1v1h-1zM11 55h3v1h-3zM15 55h3v1h-3zM28 55h1v1h-1zM33 55h3v1h-3zM14 56h1v1h-1zM35 56h1v1h-1zM1 57h1v1h-1zM11 57h1v1h-1zM13 57h1v1h-1zM18 57h1v1h-1zM20 57h4v1h-4zM25 57h2v1h-2zM35 57h1v1h-1zM1 58h2v1h-2zM21 58h2v1h-2zM26 58h2v1h-2zM29 58h3v1h-3zM34 58h1v1h-1zM38 58h1v1h-1zM1 59h1v1h-1zM8 59h1v1h-1zM29 59h5v1h-5zM5 60h1v1h-1zM9 60h1v1h-1zM13 60h1v1h-1zM18 60h1v1h-1zM23 60h1v1h-1zM27 60h2v1h-2zM34 60h2v1h-2zM0 61h2v1h-2zM13 61h2v1h-2zM21 61h3v1h-3zM32 61h1v1h-1zM34 61h2v1h-2zM10 62h1v1h-1zM28 62h1v1h-1zM30 62h1v1h-1zM36 62h1v1h-1zM38 62h1v1h-1zM8 63h1v1h-1zM17 63h1v1h-1zM22 63h4v1h-4zM30 63h1v1h-1zM32 63h4v1h-4zM6 64h3v1h-3zM11 64h1v1h-1zM26 64h1v1h-1zM32 64h1v1h-1zM8 65h1v1h-1zM33 65h1v1h-1zM21 66h1v1h-1zM25 66h1v1h-1zM34 66h2v1h-2zM21 67h2v1h-2zM28 67h1v1h-1zM30 67h2v1h-2zM33 67h2v1h-2zM16 68h1v1h-1zM8 69h3v1h-3zM24 69h1v1h-1zM30 69h2v1h-2zM33 69h5v1h-5zM6 71h1v1h-1zM26 71h1v1h-1zM35 71h2v1h-2zM5 72h2v1h-2zM9 72h1v1h-1zM24 72h3v1h-3zM30 72h3v1h-3zM31 73h1v1h-1zM33 73h3v1h-3zM37 73h1v1h-1zM1 74h1v1h-1zM8 74h1v1h-1zM19 74h4v1h-4zM26 74h1v1h-1zM29 74h1v1h-1zM2 75h1v1h-1zM4 75h1v1h-1zM7 75h1v1h-1zM15 75h1v1h-1zM19 75h2v1h-2zM23 75h2v1h-2zM35 75h1v1h-1zM0 76h3v1h-3zM36 76h1v1h-1zM38 76h1v1h-1zM2 77h2v1h-2zM21 77h1v1h-1zM11 78h1v1h-1zM23 78h2v1h-2zM27 78h2v1h-2zM33 78h1v1h-1zM37 78h2v1h-2zM1 79h3v1h-3zM13 79h1v1h-1zM22 79h1v1h-1zM24 79h1v1h-1zM27 79h1v1h-1zM35 79h2v1h-2zM18 80h1v1h-1zM27 80h1v1h-1zM32 80h1v1h-1zM35 80h1v1h-1zM38 80h1v1h-1zM0 81h1v1h-1zM2 81h1v1h-1zM22 81h1v1h-1zM24 81h4v1h-4zM29 81h1v1h-1zM36 81h2v1h-2zM2 82h1v1h-1zM5 82h1v1h-1zM10 82h1v1h-1zM16 82h6v1h-6zM32 82h1v1h-1zM0 83h1v1h-1zM5 83h1v1h-1zM12 83h1v1h-1zM14 83h1v1h-1zM18 83h2v1h-2zM22 83h1v1h-1zM24 83h2v1h-2zM27 83h3v1h-3zM34 83h2v1h-2zM37 83h2v1h-2zM2 84h1v1h-1zM6 84h1v1h-1zM18 84h1v1h-1zM27 84h1v1h-1zM38 84h1v1h-1zM1 85h2v1h-2zM4 85h1v1h-1zM10 85h1v1h-1zM12 85h1v1h-1zM21 85h3v1h-3zM25 85h2v1h-2zM0 86h1v1h-1zM2 86h1v1h-1zM4 86h1v1h-1zM12 86h2v1h-2zM15 86h1v1h-1zM20 86h1v1h-1zM22 86h1v1h-1zM25 86h1v1h-1zM28 86h1v1h-1zM32 86h1v1h-1zM37 86h2v1h-2zM24 87h1v1h-1zM28 87h1v1h-1zM32 87h1v1h-1zM36 87h1v1h-1zM25 88h3v1h-3zM35 88h1v1h-1zM37 88h1v1h-1zM18 89h3v1h-3zM22 89h2v1h-2zM5 90h1v1h-1zM20 90h2v1h-2zM23 90h3v1h-3zM38 90h1v1h-1zM11 91h1v1h-1zM13 91h5v1h-5zM20 91h1v1h-1zM26 91h1v1h-1zM32 91h1v1h-1zM10 92h1v1h-1zM15 92h1v1h-1zM30 92h1v1h-1zM9 93h1v1h-1zM16 93h2v1h-2zM23 93h1v1h-1zM30 93h1v1h-1zM32 93h1v1h-1zM19 94h4v1h-4zM34 94h1v1h-1zM15 95h1v1h-1zM28 95h1v1h-1zM30 95h3v1h-3zM21 96h1v1h-1zM23 96h1v1h-1zM37 96h2v1h-2zM27 97h2v1h-2zM33 97h1v1h-1zM22 98h1v1h-1zM27 98h1v1h-1zM29 98h4v1h-4zM20 99h2v1h-2zM23 99h2v1h-2zM26 99h2v1h-2zM30 99h1v1h-1zM35 99h4v1h-4zM2 100h1v1h-1zM7 100h1v1h-1zM9 100h1v1h-1zM12 100h1v1h-1zM19 100h1v1h-1zM30 100h1v1h-1zM32 100h1v1h-1zM37 100h2v1h-2zM3 101h1v1h-1zM18 101h2v1h-2zM22 101h1v1h-1zM24 101h3v1h-3zM35 101h1v1h-1zM37 101h2v1h-2zM2 102h1v1h-1zM6 102h1v1h-1zM9 102h1v1h-1zM16 102h1v1h-1zM23 102h2v1h-2zM37 102h2v1h-2zM3 103h1v1h-1zM15 103h1v1h-1zM25 103h1v1h-1zM30 103h1v1h-1zM34 103h1v1h-1zM24 104h1v1h-1zM30 104h1v1h-1zM35 104h1v1h-1zM1 105h2v1h-2zM14 105h1v1h-1zM32 105h1v1h-1zM35 105h2v1h-2zM3 106h1v1h-1zM8 106h1v1h-1zM14 106h2v1h-2zM23 106h3v1h-3zM30 106h1v1h-1zM34 106h2v1h-2zM0 107h1v1h-1zM3 107h1v1h-1zM15 107h1v1h-1zM36 107h1v1h-1zM5 108h1v1h-1zM16 108h2v1h-2zM25 108h2v1h-2zM35 108h1v1h-1zM3 109h1v1h-1zM17 109h1v1h-1zM25 109h1v1h-1zM27 109h1v1h-1zM31 109h1v1h-1zM34 109h2v1h-2zM3 110h2v1h-2zM15 110h1v1h-1zM23 110h3v1h-3zM27 110h1v1h-1zM32 110h1v1h-1zM4 111h1v1h-1zM6 111h1v1h-1zM20 111h1v1h-1zM22 111h1v1h-1zM33 111h2v1h-2zM26 112h2v1h-2zM35 112h4v1h-4zM4 113h2v1h-2zM15 113h1v1h-1zM5 114h1v1h-1zM18 114h1v1h-1zM23 114h2v1h-2zM26 114h1v1h-1zM30 114h1v1h-1zM38 114h1v1h-1zM3 115h2v1h-2zM14 115h4v1h-4zM32 115h1v1h-1zM34 115h2v1h-2zM4 116h1v1h-1zM11 116h1v1h-1zM33 116h3v1h-3zM3 117h1v1h-1zM24 117h2v1h-2zM28 117h2v1h-2zM32 117h1v1h-1zM36 117h1v1h-1zM38 117h1v1h-1zM1 118h1v1h-1zM5 118h2v1h-2zM24 118h1v1h-1zM36 118h2v1h-2zM2 119h3v1h-3zM6 119h3v1h-3zM12 119h1v1h-1zM14 119h1v1h-1zM27 119h1v1h-1zM30 119h2v1h-2zM4 120h1v1h-1zM24 120h1v1h-1zM27 120h2v1h-2zM38 120h1v1h-1zM3 121h2v1h-2zM6 121h1v1h-1zM13 121h1v1h-1zM22 121h2v1h-2zM29 121h2v1h-2zM32 121h3v1h-3zM3 122h3v1h-3zM32 122h3v1h-3zM0 123h3v1h-3zM13 123h1v1h-1zM28 123h2v1h-2zM31 123h1v1h-1zM4 124h2v1h-2zM12 124h3v1h-3zM36 124h2v1h-2zM2 125h1v1h-1zM6 125h2v1h-2zM24 125h1v1h-1zM4 126h1v1h-1zM21 126h2v1h-2zM24 126h1v1h-1zM31 126h1v1h-1zM3 127h2v1h-2zM17 127h1v1h-1zM22 127h1v1h-1zM28 127h2v1h-2zM4 128h1v1h-1zM12 128h2v1h-2zM21 128h3v1h-3zM13 129h3v1h-3zM22 129h2v1h-2zM27 129h1v1h-1z"/>
<path fill="#f8be00" d="M6 0h2v1h-2zM11 0h1v1h-1zM27 0h1v1h-1zM36 0h1v1h-1zM8 1h1v1h-1zM10 1h3v1h-3zM21 1h1v1h-1zM23 1h1v1h-1zM7 3h1v1h-1zM9 3h1v1h-1zM17 4h1v1h-1zM4 6h1v1h-1zM8 7h1v1h-1zM4 9h2v1h-2zM9 9h1v1h-1zM23 9h1v1h-1zM10 11h3v1h-3zM14 11h1v1h-1zM6 12h3v1h-3zM21 12h1v1h-1zM6 13h1v1h-1zM28 13h2v1h-2zM8 16h1v1h-1zM37 16h2v1h-2zM11 17h1v1h-1zM32 17h1v1h-1zM34 17h2v1h-2zM13 18h3v1h-3zM8 19h2v1h-2zM10 21h2v1h-2zM28 21h1v1h-1zM27 22h1v1h-1zM11 23h1v1h-1zM24 23h1v1h-1zM28 23h2v1h-2zM6 24h1v1h-1zM8 24h1v1h-1zM25 25h1v1h-1zM30 25h5v1h-5zM36 25h3v1h-3zM6 26h1v1h-1zM8 26h1v1h-1zM11 26h2v1h-2zM14 26h1v1h-1zM17 26h1v1h-1zM29 26h2v1h-2zM38 26h1v1h-1zM12 27h3v1h-3zM27 27h1v1h-1zM29 27h2v1h-2zM32 27h1v1h-1zM34 27h3v1h-3zM10 28h1v1h-1zM12 28h1v1h-1zM28 28h2v1h-2zM32 28h1v1h-1zM34 28h1v1h-1zM14 29h1v1h-1zM34 29h1v1h-1zM25 30h1v1h-1zM30 31h1v1h-1zM33 31h2v1h-2zM15 32h2v1h-2zM25 32h1v1h-1zM31 32h3v1h-3zM9 34h1v1h-1zM12 34h1v1h-1zM14 34h2v1h-2zM28 34h1v1h-1zM30 34h1v1h-1zM32 34h1v1h-1zM6 35h1v1h-1zM15 35h2v1h-2zM25 35h1v1h-1zM30 35h1v1h-1zM3 36h1v1h-1zM10 36h2v1h-2zM16 36h1v1h-1zM30 36h3v1h-3zM4 37h2v1h-2zM10 37h1v1h-1zM24 37h1v1h-1zM26 37h2v1h-2zM31 37h1v1h-1zM5 38h1v1h-1zM31 38h1v1h-1zM12 39h3v1h-3zM16 39h1v1h-1zM25 39h1v1h-1zM12 40h1v1h-1zM15 40h2v1h-2zM27 40h1v1h-1zM30 40h1v1h-1zM34 40h2v1h-2zM9 41h1v1h-1zM11 41h1v1h-1zM32 41h1v1h-1zM34 41h1v1h-1zM9 42h2v1h-2zM17 42h1v1h-1zM26 42h1v1h-1zM33 42h1v1h-1zM9 43h1v1h-1zM11 43h3v1h-3zM16 43h2v1h-2zM7 44h1v1h-1zM9 44h7v1h-7zM5 45h1v1h-1zM12 45h2v1h-2zM9 46h1v1h-1zM7 47h1v1h-1zM10 47h1v1h-1zM12 47h4v1h-4zM17 47h1v1h-1zM1 48h1v1h-1zM28 48h1v1h-1zM10 49h2v1h-2zM13 49h2v1h-2zM16 49h1v1h-1zM18 49h1v1h-1zM21 49h1v1h-1zM31 49h1v1h-1zM34 49h2v1h-2zM11 50h5v1h-5zM17 50h1v1h-1zM20 50h1v1h-1zM33 50h1v1h-1zM35 50h1v1h-1zM9 51h1v1h-1zM11 51h1v1h-1zM13 51h3v1h-3zM25 51h1v1h-1zM30 51h1v1h-1zM32 51h1v1h-1zM34 51h1v1h-1zM9 52h2v1h-2zM12 52h1v1h-1zM15 52h1v1h-1zM20 52h1v1h-1zM28 52h1v1h-1zM14 53h1v1h-1zM17 53h1v1h-1zM25 53h1v1h-1zM30 53h2v1h-2zM10 54h1v1h-1zM36 54h1v1h-1zM6 55h1v1h-1zM10 55h1v1h-1zM14 55h1v1h-1zM24 55h1v1h-1zM27 55h1v1h-1zM29 55h3v1h-3zM12 56h1v1h-1zM15 56h3v1h-3zM32 56h1v1h-1zM34 56h1v1h-1zM0 57h1v1h-1zM2 57h1v1h-1zM12 57h1v1h-1zM16 57h2v1h-2zM19 57h1v1h-1zM24 57h1v1h-1zM28 57h1v1h-1zM6 58h3v1h-3zM12 58h3v1h-3zM28 58h1v1h-1zM32 58h2v1h-2zM35 58h1v1h-1zM9 59h3v1h-3zM11 60h1v1h-1zM19 60h1v1h-1zM21 60h2v1h-2zM29 60h5v1h-5zM30 61h1v1h-1zM33 61h1v1h-1zM36 61h1v1h-1zM31 62h1v1h-1zM5 63h1v1h-1zM21 63h1v1h-1zM31 63h1v1h-1zM27 64h1v1h-1zM21 65h1v1h-1zM26 65h4v1h-4zM10 66h1v1h-1zM22 66h2v1h-2zM26 66h2v1h-2zM29 66h2v1h-2zM23 67h3v1h-3zM29 67h1v1h-1zM23 68h4v1h-4zM32 68h1v1h-1zM2 69h3v1h-3zM6 69h1v1h-1zM23 69h1v1h-1zM25 69h1v1h-1zM27 69h1v1h-1zM8 70h1v1h-1zM25 70h2v1h-2zM30 70h1v1h-1zM32 70h1v1h-1zM2 71h1v1h-1zM21 71h1v1h-1zM24 71h2v1h-2zM29 71h1v1h-1zM32 71h1v1h-1zM0 72h1v1h-1zM2 72h3v1h-3zM7 72h2v1h-2zM21 72h1v1h-1zM23 72h1v1h-1zM29 72h1v1h-1zM23 73h2v1h-2zM30 73h1v1h-1zM36 73h1v1h-1zM28 74h1v1h-1zM38 74h1v1h-1zM21 75h1v1h-1zM25 75h2v1h-2zM29 75h1v1h-1zM32 75h1v1h-1zM30 76h1v1h-1zM33 76h3v1h-3zM7 77h1v1h-1zM9 77h1v1h-1zM30 78h1v1h-1zM34 78h3v1h-3zM12 79h1v1h-1zM23 79h1v1h-1zM34 79h1v1h-1zM37 79h2v1h-2zM24 80h2v1h-2zM28 80h2v1h-2zM36 80h2v1h-2zM1 81h1v1h-1zM21 81h1v1h-1zM38 81h1v1h-1zM3 82h2v1h-2zM6 82h2v1h-2zM9 82h1v1h-1zM11 82h1v1h-1zM22 82h1v1h-1zM30 82h2v1h-2zM37 82h1v1h-1zM20 83h2v1h-2zM26 83h1v1h-1zM31 83h1v1h-1zM0 84h1v1h-1zM3 84h3v1h-3zM9 84h2v1h-2zM19 84h2v1h-2zM23 84h1v1h-1zM28 84h1v1h-1zM36 84h2v1h-2zM3 85h1v1h-1zM18 85h3v1h-3zM24 85h1v1h-1zM1 86h1v1h-1zM18 86h1v1h-1zM21 86h1v1h-1zM23 86h1v1h-1zM26 86h2v1h-2zM30 86h2v1h-2zM33 86h4v1h-4zM19 87h5v1h-5zM26 87h2v1h-2zM30 87h2v1h-2zM34 87h1v1h-1zM19 88h6v1h-6zM28 88h2v1h-2zM24 89h2v1h-2zM36 89h3v1h-3zM6 90h2v1h-2zM35 90h3v1h-3zM18 91h1v1h-1zM22 91h1v1h-1zM25 91h1v1h-1zM33 91h1v1h-1zM23 92h1v1h-1zM18 93h3v1h-3zM24 93h1v1h-1zM27 94h1v1h-1zM33 94h1v1h-1zM35 94h3v1h-3zM27 95h1v1h-1zM33 95h3v1h-3zM38 95h1v1h-1zM20 96h1v1h-1zM22 96h1v1h-1zM24 96h1v1h-1zM36 96h1v1h-1zM32 97h1v1h-1zM21 98h1v1h-1zM23 98h2v1h-2zM18 99h2v1h-2zM22 99h1v1h-1zM25 99h1v1h-1zM29 99h1v1h-1zM3 100h1v1h-1zM6 100h1v1h-1zM18 100h1v1h-1zM20 100h2v1h-2zM33 100h1v1h-1zM36 100h1v1h-1zM20 101h2v1h-2zM23 101h1v1h-1zM33 101h2v1h-2zM36 101h1v1h-1zM3 102h2v1h-2zM22 102h1v1h-1zM33 102h1v1h-1zM35 102h1v1h-1zM4 103h2v1h-2zM33 103h1v1h-1zM3 104h1v1h-1zM6 104h2v1h-2zM23 104h1v1h-1zM26 104h1v1h-1zM31 104h4v1h-4zM7 105h2v1h-2zM23 105h1v1h-1zM31 105h1v1h-1zM33 105h2v1h-2zM4 106h1v1h-1zM19 106h1v1h-1zM32 106h2v1h-2zM4 107h2v1h-2zM23 108h1v1h-1zM33 108h2v1h-2zM5 109h1v1h-1zM7 109h1v1h-1zM24 109h1v1h-1zM26 109h1v1h-1zM5 110h1v1h-1zM22 110h1v1h-1zM33 110h2v1h-2zM35 111h1v1h-1zM6 112h1v1h-1zM18 112h1v1h-1zM20 112h1v1h-1zM23 112h1v1h-1zM25 112h1v1h-1zM30 112h2v1h-2zM34 112h1v1h-1zM3 114h2v1h-2zM20 114h3v1h-3zM27 114h1v1h-1zM5 115h1v1h-1zM18 115h1v1h-1zM21 115h1v1h-1zM33 115h1v1h-1zM36 115h3v1h-3zM5 116h1v1h-1zM24 116h2v1h-2zM27 116h1v1h-1zM30 116h1v1h-1zM32 116h1v1h-1zM36 116h3v1h-3zM30 117h2v1h-2zM3 118h2v1h-2zM7 118h2v1h-2zM23 118h1v1h-1zM38 118h1v1h-1zM5 119h1v1h-1zM20 119h1v1h-1zM25 119h2v1h-2zM3 120h1v1h-1zM23 120h1v1h-1zM29 120h1v1h-1zM36 120h1v1h-1zM5 121h1v1h-1zM21 121h1v1h-1zM31 121h1v1h-1zM13 122h1v1h-1zM22 122h1v1h-1zM30 122h2v1h-2zM3 123h1v1h-1zM5 123h1v1h-1zM32 123h3v1h-3zM3 124h1v1h-1zM35 124h1v1h-1zM3 125h2v1h-2zM23 125h1v1h-1zM26 125h1v1h-1zM28 125h1v1h-1zM3 126h1v1h-1zM18 126h1v1h-1zM20 126h1v1h-1zM30 126h1v1h-1zM32 126h1v1h-1zM0 127h2v1h-2zM18 127h1v1h-1zM21 127h1v1h-1zM24 127h3v1h-3zM30 127h2v1h-2zM5 128h1v1h-1zM19 128h2v1h-2zM24 128h1v1h-1zM12 129h1v1h-1zM20 129h2v1h-2zM24 129h3v1h-3zM30 129h2v1h-2zM34 129h2v1h-2z"/>
<path fill="#f6aa05" d="M12 0h1v1h-1zM17 0h1v1h-1zM32 0h3v1h-3zM37 0h2v1h-2zM13 1h1v1h-1zM15 1h2v1h-2zM32 2h2v1h-2zM35 2h1v1h-1zM14 5h1v1h-1zM22 5h2v1h-2zM1 7h2v1h-2zM9 7h1v1h-1zM32 8h1v1h-1zM8 9h1v1h-1zM10 9h1v1h-1zM18 9h1v1h-1zM7 10h2v1h-2zM9 12h1v1h-1zM35 14h4v1h-4zM8 15h3v1h-3zM12 15h1v1h-1zM9 16h1v1h-1zM12 17h1v1h-1zM31 17h1v1h-1zM33 17h1v1h-1zM8 18h2v1h-2zM10 19h2v1h-2zM15 20h1v1h-1zM7 21h1v1h-1zM9 21h1v1h-1zM13 21h4v1h-4zM37 21h1v1h-1zM13 22h1v1h-1zM15 22h2v1h-2zM12 23h1v1h-1zM27 23h1v1h-1zM11 25h1v1h-1zM13 25h3v1h-3zM35 25h1v1h-1zM7 26h1v1h-1zM31 26h1v1h-1zM25 27h2v1h-2zM14 28h1v1h-1zM26 30h1v1h-1zM26 31h1v1h-1zM3 34h1v1h-1zM11 34h1v1h-1zM13 34h1v1h-1zM3 35h1v1h-1zM26 35h1v1h-1zM31 35h1v1h-1zM4 36h2v1h-2zM15 36h1v1h-1zM4 38h1v1h-1zM10 38h1v1h-1zM31 40h1v1h-1zM12 41h4v1h-4zM11 42h2v1h-2zM15 42h2v1h-2zM15 43h1v1h-1zM0 45h2v1h-2zM6 45h6v1h-6zM23 47h3v1h-3zM1 49h3v1h-3zM17 49h1v1h-1zM20 49h1v1h-1zM0 51h3v1h-3zM5 51h2v1h-2zM16 51h1v1h-1zM24 51h1v1h-1zM26 51h1v1h-1zM31 51h1v1h-1zM35 51h1v1h-1zM11 52h1v1h-1zM32 53h1v1h-1zM21 54h1v1h-1zM31 56h1v1h-1zM5 57h1v1h-1zM8 57h1v1h-1zM14 57h2v1h-2zM29 57h5v1h-5zM10 60h1v1h-1zM20 60h1v1h-1zM31 61h1v1h-1zM3 62h1v1h-1zM33 62h3v1h-3zM3 63h2v1h-2zM6 63h1v1h-1zM22 65h1v1h-1zM11 66h2v1h-2zM24 66h1v1h-1zM28 66h1v1h-1zM31 66h1v1h-1zM7 67h1v1h-1zM22 68h1v1h-1zM27 68h5v1h-5zM0 69h2v1h-2zM5 69h1v1h-1zM7 69h1v1h-1zM22 69h1v1h-1zM29 69h1v1h-1zM23 70h2v1h-2zM28 70h2v1h-2zM0 71h2v1h-2zM22 71h2v1h-2zM27 71h2v1h-2zM30 71h2v1h-2zM33 71h2v1h-2zM1 72h1v1h-1zM22 72h1v1h-1zM19 73h1v1h-1zM22 73h1v1h-1zM25 73h2v1h-2zM23 74h3v1h-3zM27 74h1v1h-1zM33 74h4v1h-4zM28 75h1v1h-1zM33 75h1v1h-1zM27 76h1v1h-1zM16 77h1v1h-1zM0 79h1v1h-1zM7 79h3v1h-3zM11 79h1v1h-1zM26 80h1v1h-1zM30 80h2v1h-2zM33 80h1v1h-1zM0 82h2v1h-2zM8 82h1v1h-1zM33 82h4v1h-4zM38 82h1v1h-1zM1 83h2v1h-2zM30 83h1v1h-1zM21 84h2v1h-2zM31 84h2v1h-2zM34 84h2v1h-2zM34 85h1v1h-1zM3 86h1v1h-1zM19 86h1v1h-1zM29 86h1v1h-1zM25 87h1v1h-1zM29 87h1v1h-1zM33 87h1v1h-1zM35 87h1v1h-1zM18 88h1v1h-1zM30 88h1v1h-1zM34 88h1v1h-1zM27 89h1v1h-1zM34 89h1v1h-1zM8 90h3v1h-3zM19 91h1v1h-1zM21 91h1v1h-1zM23 91h1v1h-1zM27 91h1v1h-1zM30 91h2v1h-2zM34 91h1v1h-1zM33 92h2v1h-2zM21 93h1v1h-1zM25 93h1v1h-1zM29 93h1v1h-1zM23 94h1v1h-1zM26 94h1v1h-1zM29 94h2v1h-2zM38 94h1v1h-1zM25 95h2v1h-2zM29 95h1v1h-1zM36 95h2v1h-2zM25 96h1v1h-1zM12 99h1v1h-1zM5 100h1v1h-1zM31 101h2v1h-2zM5 102h1v1h-1zM34 102h1v1h-1zM18 103h2v1h-2zM22 103h1v1h-1zM2 104h1v1h-1zM5 104h1v1h-1zM17 104h1v1h-1zM19 104h4v1h-4zM25 104h1v1h-1zM9 105h2v1h-2zM17 105h1v1h-1zM19 105h1v1h-1zM21 105h1v1h-1zM21 106h1v1h-1zM17 107h1v1h-1zM4 108h1v1h-1zM18 108h3v1h-3zM22 108h1v1h-1zM30 108h1v1h-1zM32 108h1v1h-1zM4 109h1v1h-1zM16 110h1v1h-1zM18 110h1v1h-1zM21 110h1v1h-1zM31 110h1v1h-1zM27 111h1v1h-1zM13 112h2v1h-2zM19 112h1v1h-1zM21 112h1v1h-1zM24 112h1v1h-1zM32 112h2v1h-2zM17 113h1v1h-1zM26 113h1v1h-1zM38 113h1v1h-1zM19 115h2v1h-2zM22 115h3v1h-3zM17 116h2v1h-2zM26 116h1v1h-1zM23 117h1v1h-1zM33 118h1v1h-1zM19 119h1v1h-1zM21 119h1v1h-1zM24 119h1v1h-1zM25 120h2v1h-2zM18 121h3v1h-3zM4 123h1v1h-1zM23 124h1v1h-1zM34 124h1v1h-1zM5 125h1v1h-1zM27 125h1v1h-1zM29 125h1v1h-1zM19 126h1v1h-1zM12 127h1v1h-1zM23 127h1v1h-1zM18 128h1v1h-1zM0 129h1v1h-1zM2 129h1v1h-1zM5 129h1v1h-1zM18 129h2v1h-2zM32 129h2v1h-2z"/>
<path fill="#f5960a" d="M13 0h3v1h-3zM35 0h1v1h-1zM14 1h1v1h-1zM17 1h1v1h-1zM34 2h1v1h-1zM36 2h2v1h-2zM17 3h1v1h-1zM17 5h1v1h-1zM24 5h1v1h-1zM9 6h1v1h-1zM0 7h1v1h-1zM9 8h1v1h-1zM34 8h1v1h-1zM36 8h2v1h-2zM11 9h1v1h-1zM31 9h3v1h-3zM9 10h1v1h-1zM17 12h1v1h-1zM24 12h3v1h-3zM35 12h1v1h-1zM11 15h1v1h-1zM13 15h3v1h-3zM16 16h2v1h-2zM13 17h2v1h-2zM36 17h1v1h-1zM11 18h1v1h-1zM13 19h1v1h-1zM15 19h1v1h-1zM17 19h1v1h-1zM10 20h4v1h-4zM16 20h1v1h-1zM28 20h1v1h-1zM6 21h1v1h-1zM8 21h1v1h-1zM12 21h1v1h-1zM38 21h1v1h-1zM8 22h1v1h-1zM13 23h1v1h-1zM7 24h1v1h-1zM9 24h3v1h-3zM12 25h1v1h-1zM5 26h1v1h-1zM9 26h2v1h-2zM15 26h2v1h-2zM15 27h2v1h-2zM15 28h1v1h-1zM30 28h1v1h-1zM5 35h1v1h-1zM28 39h2v1h-2zM35 39h1v1h-1zM13 40h2v1h-2zM32 40h1v1h-1zM10 41h1v1h-1zM19 41h2v1h-2zM14 43h1v1h-1zM33 43h2v1h-2zM0 49h1v1h-1zM16 50h1v1h-1zM3 51h2v1h-2zM21 51h2v1h-2zM29 52h1v1h-1zM4 57h1v1h-1zM6 57h1v1h-1zM9 57h1v1h-1zM9 58h3v1h-3zM4 62h2v1h-2zM0 63h1v1h-1zM7 63h1v1h-1zM8 66h2v1h-2zM21 68h1v1h-1zM18 69h2v1h-2zM28 69h1v1h-1zM3 70h1v1h-1zM37 70h1v1h-1zM27 72h2v1h-2zM20 73h1v1h-1zM27 73h1v1h-1zM37 74h1v1h-1zM9 75h1v1h-1zM12 75h2v1h-2zM27 75h1v1h-1zM28 76h2v1h-2zM6 77h1v1h-1zM8 77h1v1h-1zM22 77h4v1h-4zM10 79h1v1h-1zM34 80h1v1h-1zM24 82h1v1h-1zM29 84h2v1h-2zM33 85h1v1h-1zM36 85h1v1h-1zM11 88h1v1h-1zM15 88h1v1h-1zM31 88h3v1h-3zM35 89h1v1h-1zM33 90h2v1h-2zM24 92h3v1h-3zM28 93h1v1h-1zM24 94h2v1h-2zM28 94h1v1h-1zM32 94h1v1h-1zM24 95h1v1h-1zM10 99h1v1h-1zM14 99h1v1h-1zM4 100h1v1h-1zM17 103h1v1h-1zM20 103h2v1h-2zM4 104h1v1h-1zM18 104h1v1h-1zM27 104h1v1h-1zM18 105h1v1h-1zM20 105h1v1h-1zM22 105h1v1h-1zM17 106h2v1h-2zM20 106h1v1h-1zM22 106h1v1h-1zM18 107h1v1h-1zM35 107h1v1h-1zM21 108h1v1h-1zM31 108h1v1h-1zM18 109h1v1h-1zM20 109h4v1h-4zM19 110h2v1h-2zM30 111h1v1h-1zM0 112h3v1h-3zM10 112h3v1h-3zM15 112h3v1h-3zM22 112h1v1h-1zM18 113h2v1h-2zM30 113h1v1h-1zM19 116h1v1h-1zM23 116h1v1h-1zM31 116h1v1h-1zM22 117h1v1h-1zM18 120h1v1h-1zM21 120h1v1h-1zM17 124h1v1h-1zM28 124h1v1h-1zM18 125h1v1h-1zM11 127h1v1h-1zM20 127h1v1h-1zM1 129h1v1h-1zM3 129h1v1h-1zM6 129h1v1h-1z"/>
<path fill="#f2820f" d="M16 0h1v1h-1zM17 2h1v1h-1zM38 2h1v1h-1zM5 5h1v1h-1zM10 5h4v1h-4zM25 5h2v1h-2zM17 7h1v1h-1zM28 8h1v1h-1zM33 8h1v1h-1zM35 8h1v1h-1zM12 9h1v1h-1zM10 10h1v1h-1zM14 10h1v1h-1zM17 10h1v1h-1zM17 11h1v1h-1zM12 12h1v1h-1zM15 12h2v1h-2zM27 12h1v1h-1zM36 12h1v1h-1zM9 13h1v1h-1zM17 14h1v1h-1zM16 15h2v1h-2zM10 16h5v1h-5zM3 17h1v1h-1zM15 17h1v1h-1zM28 17h1v1h-1zM10 18h1v1h-1zM12 18h1v1h-1zM16 18h2v1h-2zM12 19h1v1h-1zM14 19h1v1h-1zM16 19h1v1h-1zM14 20h1v1h-1zM7 22h1v1h-1zM9 22h1v1h-1zM14 22h1v1h-1zM12 24h1v1h-1zM16 25h1v1h-1zM31 28h1v1h-1zM5 29h2v1h-2zM7 32h4v1h-4zM4 35h1v1h-1zM34 39h1v1h-1zM21 41h1v1h-1zM32 43h1v1h-1zM19 45h1v1h-1zM11 46h5v1h-5zM23 51h1v1h-1zM5 52h1v1h-1zM30 52h2v1h-2zM33 52h1v1h-1zM19 54h2v1h-2zM7 57h1v1h-1zM10 57h1v1h-1zM23 59h3v1h-3zM1 63h2v1h-2zM5 65h3v1h-3zM0 67h1v1h-1zM37 67h2v1h-2zM17 69h1v1h-1zM20 69h1v1h-1zM2 70h1v1h-1zM4 70h1v1h-1zM22 70h1v1h-1zM27 70h1v1h-1zM38 70h1v1h-1zM21 73h1v1h-1zM29 73h1v1h-1zM10 75h1v1h-1zM20 76h1v1h-1zM26 77h2v1h-2zM20 80h2v1h-2zM32 81h4v1h-4zM23 82h1v1h-1zM25 82h3v1h-3zM29 82h1v1h-1zM33 84h1v1h-1zM35 85h1v1h-1zM12 88h3v1h-3zM16 88h2v1h-2zM26 89h1v1h-1zM28 89h2v1h-2zM18 90h1v1h-1zM37 91h2v1h-2zM27 93h1v1h-1zM36 93h1v1h-1zM38 93h1v1h-1zM31 94h1v1h-1zM27 96h1v1h-1zM29 97h3v1h-3zM9 99h1v1h-1zM11 99h1v1h-1zM13 99h1v1h-1zM15 99h3v1h-3zM27 101h1v1h-1zM30 101h1v1h-1zM17 102h2v1h-2zM20 102h2v1h-2zM25 102h3v1h-3zM27 105h1v1h-1zM24 107h1v1h-1zM33 107h1v1h-1zM19 109h1v1h-1zM17 110h1v1h-1zM3 112h3v1h-3zM24 113h1v1h-1zM27 113h1v1h-1zM20 116h3v1h-3zM17 117h2v1h-2zM20 117h2v1h-2zM18 118h2v1h-2zM22 118h1v1h-1zM32 118h1v1h-1zM18 119h1v1h-1zM23 119h1v1h-1zM17 120h1v1h-1zM19 120h2v1h-2zM15 122h3v1h-3zM25 123h1v1h-1zM18 124h2v1h-2zM21 124h1v1h-1zM29 124h1v1h-1zM17 125h1v1h-1zM30 125h4v1h-4zM6 127h1v1h-1zM8 127h3v1h-3zM19 127h1v1h-1zM4 129h1v1h-1z"/>
<path fill="#ee6e14" d="M12 3h2v1h-2zM4 5h1v1h-1zM6 5h2v1h-2zM28 5h1v1h-1zM15 6h2v1h-2zM6 7h1v1h-1zM15 7h1v1h-1zM13 9h1v1h-1zM34 9h1v1h-1zM11 10h1v1h-1zM15 10h2v1h-2zM28 10h1v1h-1zM15 11h1v1h-1zM28 11h1v1h-1zM11 12h1v1h-1zM13 12h2v1h-2zM7 13h2v1h-2zM10 13h1v1h-1zM15 13h1v1h-1zM17 13h1v1h-1zM11 14h2v1h-2zM14 14h3v1h-3zM15 16h1v1h-1zM4 17h2v1h-2zM10 22h1v1h-1zM0 28h2v1h-2zM3 28h2v1h-2zM11 32h2v1h-2zM27 39h1v1h-1zM31 39h3v1h-3zM13 42h2v1h-2zM18 45h1v1h-1zM20 45h1v1h-1zM2 52h3v1h-3zM32 52h1v1h-1zM27 56h1v1h-1zM3 57h1v1h-1zM26 59h3v1h-3zM24 61h3v1h-3zM0 62h1v1h-1zM2 62h1v1h-1zM1 64h1v1h-1zM0 65h2v1h-2zM0 66h2v1h-2zM3 66h3v1h-3zM32 66h2v1h-2zM1 67h4v1h-4zM2 68h1v1h-1zM8 68h1v1h-1zM0 70h2v1h-2zM28 73h1v1h-1zM11 75h1v1h-1zM37 75h1v1h-1zM21 76h1v1h-1zM23 76h1v1h-1zM25 76h1v1h-1zM34 77h1v1h-1zM37 77h1v1h-1zM23 80h1v1h-1zM30 81h2v1h-2zM28 82h1v1h-1zM31 89h2v1h-2zM19 90h1v1h-1zM35 93h1v1h-1zM37 93h1v1h-1zM19 95h2v1h-2zM28 96h3v1h-3zM19 102h1v1h-1zM24 105h1v1h-1zM26 105h1v1h-1zM25 107h1v1h-1zM34 107h1v1h-1zM37 111h1v1h-1zM25 113h1v1h-1zM19 117h1v1h-1zM17 118h1v1h-1zM20 118h2v1h-2zM31 118h1v1h-1zM22 119h1v1h-1zM22 120h1v1h-1zM21 122h1v1h-1zM17 123h4v1h-4zM23 123h2v1h-2zM30 124h1v1h-1zM7 127h1v1h-1z"/>
<path fill="#e95816" d="M28 1h1v1h-1zM10 2h1v1h-1zM11 3h1v1h-1zM14 3h2v1h-2zM11 4h2v1h-2zM15 4h2v1h-2zM28 4h1v1h-1zM15 5h2v1h-2zM13 6h2v1h-2zM17 6h1v1h-1zM28 6h1v1h-1zM3 7h3v1h-3zM12 7h2v1h-2zM16 7h1v1h-1zM17 8h1v1h-1zM16 11h1v1h-1zM10 12h1v1h-1zM28 12h1v1h-1zM11 13h4v1h-4zM16 13h1v1h-1zM10 14h1v1h-1zM13 14h1v1h-1zM11 22h1v1h-1zM14 23h3v1h-3zM2 28h1v1h-1zM30 39h1v1h-1zM14 45h2v1h-2zM17 45h1v1h-1zM26 56h1v1h-1zM29 56h2v1h-2zM27 61h2v1h-2zM1 62h1v1h-1zM0 64h1v1h-1zM2 64h1v1h-1zM4 64h2v1h-2zM2 65h1v1h-1zM2 66h1v1h-1zM5 67h1v1h-1zM0 68h2v1h-2zM3 68h1v1h-1zM5 68h2v1h-2zM36 75h1v1h-1zM22 76h1v1h-1zM24 76h1v1h-1zM26 76h1v1h-1zM31 76h2v1h-2zM22 80h1v1h-1zM30 89h1v1h-1zM33 89h1v1h-1zM26 90h5v1h-5zM36 91h1v1h-1zM19 92h1v1h-1zM21 92h2v1h-2zM26 93h1v1h-1zM17 95h2v1h-2zM21 95h3v1h-3zM26 96h1v1h-1zM21 97h1v1h-1zM24 97h1v1h-1zM30 105h1v1h-1zM20 107h1v1h-1zM23 107h1v1h-1zM36 111h1v1h-1zM38 111h1v1h-1zM17 119h1v1h-1zM20 124h1v1h-1zM22 124h1v1h-1zM31 124h3v1h-3zM19 125h4v1h-4z"/>
<path fill="#e44119" d="M10 3h1v1h-1zM16 3h1v1h-1zM10 4h1v1h-1zM14 4h1v1h-1zM10 6h3v1h-3zM10 7h2v1h-2zM14 7h1v1h-1zM10 8h1v1h-1zM13 8h1v1h-1zM15 8h1v1h-1zM12 22h1v1h-1zM16 45h1v1h-1zM28 56h1v1h-1zM29 61h1v1h-1zM3 64h1v1h-1zM3 65h2v1h-2zM6 67h1v1h-1zM4 68h1v1h-1zM35 77h2v1h-2zM24 84h3v1h-3zM31 90h1v1h-1zM17 92h2v1h-2zM20 92h1v1h-1zM17 94h2v1h-2zM22 97h2v1h-2zM25 97h2v1h-2zM25 105h1v1h-1zM19 107h1v1h-1zM21 107h2v1h-2zM18 122h2v1h-2z"/>
<path fill="#db2d1c" d="M13 2h1v1h-1zM13 4h1v1h-1zM11 8h2v1h-2zM14 8h1v1h-1zM16 8h1v1h-1zM15 9h1v1h-1zM17 9h1v1h-1zM6 66h2v1h-2zM21 69h1v1h-1zM32 90h1v1h-1zM35 91h1v1h-1zM20 122h1v1h-1z"/>
<path fill="#d2191e" d="M11 2h2v1h-2zM14 2h3v1h-3zM14 9h1v1h-1zM16 9h1v1h-1zM7 68h1v1h-1zM21 123h2v1h-2z"/>
</g></g></g>
<defs><filter id="bl23" x="0" y="0" width="1" height="1"><feGaussianBlur stdDeviation="0.40"/></filter><clipPath id="cpbl23"><rect x="306.20" y="46.50" width="212.60" height="323.00"/></clipPath></defs>
<g clip-path="url(#cpbl23)"><g filter="url(#bl23)"><g transform="translate(306.20,46.50) scale(5.45128,2.48462)">
<rect x="0" y="0" width="39" height="130" fill="#cab00c"/>
<path fill="#14732d" d="M29 4h1v1h-1zM33 15h1v1h-1zM14 20h4v1h-4zM20 20h1v1h-1zM24 20h2v1h-2zM18 21h1v1h-1zM20 21h1v1h-1zM22 21h4v1h-4zM17 22h6v1h-6zM16 23h7v1h-7zM17 24h5v1h-5zM28 25h1v1h-1zM22 29h2v1h-2zM21 34h3v1h-3zM23 35h1v1h-1zM21 41h3v1h-3zM24 42h1v1h-1zM21 43h2v1h-2zM19 44h1v1h-1zM30 46h1v1h-1zM21 49h1v1h-1zM22 51h2v1h-2zM31 57h1v1h-1zM24 58h2v1h-2zM26 59h3v1h-3zM30 59h1v1h-1zM31 60h1v1h-1zM11 62h2v1h-2zM28 62h1v1h-1zM25 63h1v1h-1zM11 64h2v1h-2zM25 64h4v1h-4zM11 65h2v1h-2zM13 67h1v1h-1zM14 71h1v1h-1zM22 73h1v1h-1zM14 76h1v1h-1zM18 76h1v1h-1zM13 86h2v1h-2zM2 87h1v1h-1zM21 87h2v1h-2zM1 88h1v1h-1zM3 90h1v1h-1zM1 91h1v1h-1zM23 91h1v1h-1zM0 92h1v1h-1zM3 92h1v1h-1zM0 93h2v1h-2zM4 93h1v1h-1zM3 94h3v1h-3zM9 94h2v1h-2zM0 95h1v1h-1zM2 95h3v1h-3zM1 96h3v1h-3zM3 97h1v1h-1zM2 98h3v1h-3zM2 99h3v1h-3zM5 107h7v1h-7zM6 110h1v1h-1zM2 116h1v1h-1z"/>
<path fill="#20802a" d="M10 0h1v1h-1zM19 2h2v1h-2zM27 4h1v1h-1zM31 4h1v1h-1zM38 6h1v1h-1zM34 15h1v1h-1zM34 17h1v1h-1zM34 18h1v1h-1zM37 18h1v1h-1zM19 20h1v1h-1zM21 20h3v1h-3zM8 21h1v1h-1zM19 21h1v1h-1zM21 21h1v1h-1zM14 23h2v1h-2zM23 23h1v1h-1zM25 23h1v1h-1zM17 25h1v1h-1zM6 27h1v1h-1zM26 29h1v1h-1zM21 31h1v1h-1zM23 31h1v1h-1zM21 35h2v1h-2zM22 40h1v1h-1zM19 41h2v1h-2zM19 43h2v1h-2zM31 46h2v1h-2zM21 51h1v1h-1zM11 56h1v1h-1zM30 57h1v1h-1zM25 59h1v1h-1zM29 59h1v1h-1zM31 59h1v1h-1zM12 60h1v1h-1zM32 60h1v1h-1zM12 61h2v1h-2zM13 62h1v1h-1zM26 62h1v1h-1zM13 64h1v1h-1zM13 65h1v1h-1zM30 65h3v1h-3zM12 67h1v1h-1zM14 67h1v1h-1zM25 67h1v1h-1zM27 67h2v1h-2zM17 69h3v1h-3zM21 70h2v1h-2zM13 71h1v1h-1zM21 73h1v1h-1zM26 73h1v1h-1zM15 76h2v1h-2zM14 82h1v1h-1zM3 83h2v1h-2zM15 83h1v1h-1zM3 84h2v1h-2zM2 85h1v1h-1zM4 85h1v1h-1zM19 85h1v1h-1zM3 87h2v1h-2zM0 88h1v1h-1zM2 90h1v1h-1zM0 91h1v1h-1zM2 91h3v1h-3zM22 91h1v1h-1zM1 92h2v1h-2zM4 92h1v1h-1zM2 93h2v1h-2zM6 94h1v1h-1zM11 94h1v1h-1zM1 95h1v1h-1zM5 95h1v1h-1zM0 96h1v1h-1zM4 96h1v1h-1zM0 97h1v1h-1zM0 98h2v1h-2zM0 99h1v1h-1zM4 100h1v1h-1zM1 109h1v1h-1zM7 110h1v1h-1zM3 116h1v1h-1z"/>
<path fill="#2d8c28" d="M11 0h1v1h-1zM18 2h1v1h-1zM32 2h1v1h-1zM28 4h1v1h-1zM30 4h1v1h-1zM32 4h2v1h-2zM37 6h1v1h-1zM38 7h1v1h-1zM21 15h3v1h-3zM33 18h1v1h-1zM35 18h2v1h-2zM18 20h1v1h-1zM6 21h2v1h-2zM14 21h1v1h-1zM16 21h1v1h-1zM34 21h1v1h-1zM14 22h3v1h-3zM25 22h1v1h-1zM24 23h1v1h-1zM18 25h1v1h-1zM24 25h4v1h-4zM29 25h1v1h-1zM33 25h3v1h-3zM4 27h1v1h-1zM24 29h2v1h-2zM30 29h3v1h-3zM22 31h1v1h-1zM4 32h1v1h-1zM22 33h1v1h-1zM27 33h1v1h-1zM20 34h1v1h-1zM32 36h1v1h-1zM21 38h2v1h-2zM21 40h1v1h-1zM23 40h1v1h-1zM24 41h1v1h-1zM23 43h1v1h-1zM29 46h1v1h-1zM22 47h2v1h-2zM24 51h1v1h-1zM13 53h2v1h-2zM13 55h1v1h-1zM10 56h1v1h-1zM29 57h1v1h-1zM12 59h1v1h-1zM14 59h1v1h-1zM13 60h1v1h-1zM23 60h2v1h-2zM26 60h1v1h-1zM25 62h1v1h-1zM27 62h1v1h-1zM24 63h1v1h-1zM26 63h2v1h-2zM35 65h1v1h-1zM11 67h1v1h-1zM26 67h1v1h-1zM20 69h1v1h-1zM12 71h1v1h-1zM25 73h1v1h-1zM27 73h1v1h-1zM24 75h2v1h-2zM17 76h1v1h-1zM13 77h2v1h-2zM2 83h1v1h-1zM16 83h1v1h-1zM2 84h1v1h-1zM3 85h1v1h-1zM16 85h3v1h-3zM4 90h1v1h-1zM21 90h2v1h-2zM1 97h2v1h-2zM4 97h1v1h-1zM14 98h1v1h-1zM1 99h1v1h-1zM13 100h2v1h-2zM24 100h1v1h-1zM31 104h2v1h-2zM1 105h1v1h-1zM32 107h1v1h-1zM0 109h1v1h-1zM5 109h1v1h-1zM14 109h1v1h-1zM0 111h1v1h-1zM0 115h1v1h-1z"/>
<path fill="#4b9823" d="M8 0h2v1h-2zM6 1h1v1h-1zM21 2h1v1h-1zM33 2h2v1h-2zM12 3h1v1h-1zM21 3h1v1h-1zM20 5h1v1h-1zM33 5h1v1h-1zM20 9h4v1h-4zM15 10h2v1h-2zM19 15h2v1h-2zM31 15h2v1h-2zM35 15h1v1h-1zM37 15h1v1h-1zM33 17h1v1h-1zM19 18h3v1h-3zM38 18h1v1h-1zM6 20h1v1h-1zM27 20h2v1h-2zM15 21h1v1h-1zM23 22h2v1h-2zM16 24h1v1h-1zM32 25h1v1h-1zM3 27h1v1h-1zM5 27h1v1h-1zM17 27h1v1h-1zM27 28h1v1h-1zM34 29h1v1h-1zM37 29h2v1h-2zM19 32h1v1h-1zM21 32h3v1h-3zM16 33h1v1h-1zM21 33h1v1h-1zM23 33h1v1h-1zM19 34h1v1h-1zM15 35h1v1h-1zM20 35h1v1h-1zM24 35h1v1h-1zM30 36h2v1h-2zM19 38h1v1h-1zM19 39h1v1h-1zM25 41h2v1h-2zM21 42h1v1h-1zM26 42h1v1h-1zM21 47h1v1h-1zM19 49h1v1h-1zM22 49h2v1h-2zM22 50h1v1h-1zM30 53h2v1h-2zM30 54h1v1h-1zM32 54h1v1h-1zM11 55h2v1h-2zM14 55h1v1h-1zM9 56h1v1h-1zM26 58h1v1h-1zM13 59h1v1h-1zM17 59h1v1h-1zM24 59h1v1h-1zM11 60h1v1h-1zM9 61h2v1h-2zM24 61h4v1h-4zM24 62h1v1h-1zM13 63h2v1h-2zM28 63h1v1h-1zM29 64h3v1h-3zM33 65h2v1h-2zM13 66h1v1h-1zM34 69h1v1h-1zM25 71h1v1h-1zM11 74h1v1h-1zM15 77h3v1h-3zM20 77h1v1h-1zM23 79h1v1h-1zM21 80h2v1h-2zM38 80h1v1h-1zM11 83h2v1h-2zM14 83h1v1h-1zM17 83h1v1h-1zM13 85h2v1h-2zM22 89h1v1h-1zM24 91h1v1h-1zM8 94h1v1h-1zM13 96h1v1h-1zM5 98h1v1h-1zM16 98h1v1h-1zM5 99h1v1h-1zM0 100h1v1h-1zM3 100h1v1h-1zM0 105h1v1h-1zM3 105h2v1h-2zM10 105h1v1h-1zM11 106h1v1h-1zM0 108h2v1h-2zM4 108h2v1h-2zM16 108h2v1h-2zM2 109h3v1h-3zM24 109h2v1h-2zM2 111h1v1h-1zM4 111h1v1h-1zM7 111h1v1h-1zM9 111h2v1h-2zM1 112h1v1h-1zM3 112h1v1h-1zM1 115h1v1h-1zM22 117h1v1h-1zM26 118h1v1h-1zM6 124h1v1h-1zM13 124h1v1h-1zM21 124h1v1h-1z"/>
<path fill="#69a51e" d="M37 1h1v1h-1zM29 2h1v1h-1zM11 3h1v1h-1zM13 3h3v1h-3zM23 3h1v1h-1zM30 3h1v1h-1zM32 3h1v1h-1zM34 3h1v1h-1zM36 3h2v1h-2zM19 5h1v1h-1zM21 5h1v1h-1zM19 6h1v1h-1zM20 8h1v1h-1zM19 9h1v1h-1zM27 9h2v1h-2zM17 10h2v1h-2zM20 10h1v1h-1zM35 13h1v1h-1zM22 14h1v1h-1zM30 15h1v1h-1zM36 15h1v1h-1zM38 15h1v1h-1zM22 18h3v1h-3zM26 18h2v1h-2zM5 21h1v1h-1zM17 21h1v1h-1zM33 21h1v1h-1zM6 24h1v1h-1zM8 24h1v1h-1zM15 24h1v1h-1zM36 25h1v1h-1zM29 28h3v1h-3zM12 29h2v1h-2zM33 29h1v1h-1zM36 29h1v1h-1zM31 31h1v1h-1zM3 32h1v1h-1zM4 33h1v1h-1zM12 33h4v1h-4zM17 33h2v1h-2zM28 33h1v1h-1zM13 34h1v1h-1zM24 34h1v1h-1zM14 35h1v1h-1zM16 35h1v1h-1zM19 35h1v1h-1zM33 36h3v1h-3zM9 37h1v1h-1zM11 37h1v1h-1zM19 37h1v1h-1zM1 38h1v1h-1zM33 38h2v1h-2zM18 39h1v1h-1zM30 41h1v1h-1zM25 42h1v1h-1zM10 43h1v1h-1zM8 44h1v1h-1zM22 44h2v1h-2zM37 45h2v1h-2zM22 46h1v1h-1zM19 47h2v1h-2zM5 48h1v1h-1zM22 48h2v1h-2zM20 49h1v1h-1zM21 50h1v1h-1zM23 50h1v1h-1zM38 53h1v1h-1zM31 54h1v1h-1zM33 54h1v1h-1zM18 57h1v1h-1zM10 59h2v1h-2zM16 59h1v1h-1zM19 59h3v1h-3zM10 60h1v1h-1zM21 60h2v1h-2zM25 60h1v1h-1zM29 60h2v1h-2zM7 61h2v1h-2zM11 61h1v1h-1zM28 61h1v1h-1zM6 63h1v1h-1zM12 63h1v1h-1zM36 65h1v1h-1zM14 66h1v1h-1zM25 66h2v1h-2zM10 67h1v1h-1zM15 67h1v1h-1zM24 67h1v1h-1zM33 69h1v1h-1zM35 69h1v1h-1zM6 70h1v1h-1zM10 71h2v1h-2zM26 72h1v1h-1zM9 73h1v1h-1zM12 73h1v1h-1zM28 73h1v1h-1zM10 74h1v1h-1zM18 77h2v1h-2zM21 77h2v1h-2zM2 79h1v1h-1zM4 79h1v1h-1zM4 82h1v1h-1zM17 87h1v1h-1zM20 87h1v1h-1zM23 87h1v1h-1zM2 88h1v1h-1zM16 89h2v1h-2zM1 90h1v1h-1zM20 90h1v1h-1zM5 93h1v1h-1zM7 94h1v1h-1zM5 96h1v1h-1zM14 96h1v1h-1zM15 98h1v1h-1zM32 98h1v1h-1zM34 98h1v1h-1zM5 100h1v1h-1zM23 100h1v1h-1zM13 102h1v1h-1zM30 104h1v1h-1zM2 105h1v1h-1zM5 105h1v1h-1zM7 105h1v1h-1zM9 105h1v1h-1zM9 106h2v1h-2zM24 106h1v1h-1zM14 107h1v1h-1zM36 107h1v1h-1zM2 108h2v1h-2zM6 108h1v1h-1zM9 108h1v1h-1zM18 108h2v1h-2zM21 108h1v1h-1zM6 109h2v1h-2zM9 109h3v1h-3zM15 109h1v1h-1zM1 111h1v1h-1zM5 111h1v1h-1zM8 111h1v1h-1zM11 111h2v1h-2zM15 111h2v1h-2zM2 112h1v1h-1zM4 112h2v1h-2zM2 115h2v1h-2zM20 117h2v1h-2zM23 118h3v1h-3zM7 119h5v1h-5zM26 120h1v1h-1zM7 121h1v1h-1zM25 121h1v1h-1zM5 124h1v1h-1zM7 124h3v1h-3zM20 124h1v1h-1zM3 125h1v1h-1zM22 125h1v1h-1zM4 129h1v1h-1z"/>
<path fill="#8cb416" d="M6 0h2v1h-2zM18 0h4v1h-4zM38 0h1v1h-1zM12 1h1v1h-1zM19 1h2v1h-2zM38 1h1v1h-1zM17 2h1v1h-1zM28 2h1v1h-1zM30 2h1v1h-1zM36 2h1v1h-1zM38 2h1v1h-1zM20 3h1v1h-1zM22 3h1v1h-1zM26 3h1v1h-1zM28 3h2v1h-2zM33 3h1v1h-1zM35 3h1v1h-1zM38 3h1v1h-1zM19 4h2v1h-2zM37 4h2v1h-2zM18 5h1v1h-1zM23 5h1v1h-1zM28 5h1v1h-1zM31 5h2v1h-2zM34 5h2v1h-2zM15 6h1v1h-1zM17 6h2v1h-2zM20 6h1v1h-1zM34 6h1v1h-1zM27 7h1v1h-1zM29 7h1v1h-1zM18 8h2v1h-2zM21 8h2v1h-2zM36 8h3v1h-3zM18 9h1v1h-1zM25 9h1v1h-1zM38 9h1v1h-1zM19 10h1v1h-1zM19 11h1v1h-1zM21 11h1v1h-1zM28 11h1v1h-1zM15 13h2v1h-2zM22 13h1v1h-1zM34 13h1v1h-1zM25 14h1v1h-1zM10 16h1v1h-1zM16 16h2v1h-2zM25 18h1v1h-1zM32 18h1v1h-1zM21 19h1v1h-1zM23 19h2v1h-2zM4 20h2v1h-2zM26 20h1v1h-1zM3 21h2v1h-2zM5 24h1v1h-1zM7 24h1v1h-1zM22 24h1v1h-1zM15 26h1v1h-1zM17 26h1v1h-1zM16 27h1v1h-1zM19 27h1v1h-1zM35 27h2v1h-2zM38 27h1v1h-1zM25 28h2v1h-2zM28 28h1v1h-1zM32 28h1v1h-1zM35 28h1v1h-1zM37 28h1v1h-1zM21 29h1v1h-1zM30 30h1v1h-1zM24 31h1v1h-1zM32 31h1v1h-1zM1 32h2v1h-2zM20 32h1v1h-1zM2 33h2v1h-2zM5 33h1v1h-1zM15 34h1v1h-1zM8 37h1v1h-1zM10 37h1v1h-1zM12 37h1v1h-1zM24 37h1v1h-1zM0 38h1v1h-1zM8 38h1v1h-1zM20 38h1v1h-1zM37 38h2v1h-2zM20 39h1v1h-1zM23 39h1v1h-1zM13 40h1v1h-1zM20 40h1v1h-1zM23 42h1v1h-1zM11 43h1v1h-1zM9 44h1v1h-1zM19 46h1v1h-1zM23 46h1v1h-1zM37 47h1v1h-1zM3 48h2v1h-2zM6 48h1v1h-1zM21 48h1v1h-1zM29 48h1v1h-1zM31 51h1v1h-1zM9 52h3v1h-3zM37 53h1v1h-1zM9 54h1v1h-1zM29 54h1v1h-1zM34 54h1v1h-1zM15 55h1v1h-1zM16 57h1v1h-1zM20 57h1v1h-1zM24 57h1v1h-1zM14 58h1v1h-1zM19 58h2v1h-2zM27 58h2v1h-2zM31 58h1v1h-1zM9 59h1v1h-1zM15 59h1v1h-1zM22 59h1v1h-1zM32 59h1v1h-1zM27 60h2v1h-2zM29 61h1v1h-1zM5 62h3v1h-3zM5 63h1v1h-1zM5 64h1v1h-1zM14 64h1v1h-1zM17 65h1v1h-1zM25 65h1v1h-1zM28 65h1v1h-1zM12 66h1v1h-1zM24 66h1v1h-1zM28 66h1v1h-1zM16 67h1v1h-1zM14 68h1v1h-1zM25 69h1v1h-1zM5 70h1v1h-1zM26 71h1v1h-1zM13 72h2v1h-2zM25 72h1v1h-1zM11 73h1v1h-1zM33 73h1v1h-1zM35 73h1v1h-1zM38 73h1v1h-1zM19 76h2v1h-2zM36 77h1v1h-1zM0 79h2v1h-2zM21 79h2v1h-2zM36 79h1v1h-1zM5 82h2v1h-2zM0 83h1v1h-1zM13 83h1v1h-1zM20 83h1v1h-1zM0 84h2v1h-2zM0 85h1v1h-1zM21 85h2v1h-2zM0 87h2v1h-2zM5 87h1v1h-1zM18 87h2v1h-2zM3 88h1v1h-1zM5 88h1v1h-1zM7 88h3v1h-3zM14 89h2v1h-2zM21 89h1v1h-1zM0 90h1v1h-1zM5 90h1v1h-1zM6 95h1v1h-1zM8 96h1v1h-1zM35 96h1v1h-1zM38 96h1v1h-1zM5 97h1v1h-1zM30 98h1v1h-1zM33 98h1v1h-1zM33 99h1v1h-1zM35 99h1v1h-1zM37 99h1v1h-1zM2 100h1v1h-1zM0 102h2v1h-2zM3 102h1v1h-1zM8 105h1v1h-1zM11 105h1v1h-1zM1 106h1v1h-1zM4 106h1v1h-1zM7 106h1v1h-1zM32 106h1v1h-1zM33 107h2v1h-2zM7 108h2v1h-2zM10 108h2v1h-2zM13 108h2v1h-2zM20 108h1v1h-1zM8 109h1v1h-1zM12 109h2v1h-2zM16 109h2v1h-2zM23 109h1v1h-1zM26 109h1v1h-1zM28 109h1v1h-1zM3 111h1v1h-1zM17 111h1v1h-1zM0 112h1v1h-1zM23 112h1v1h-1zM14 114h1v1h-1zM23 114h1v1h-1zM21 118h2v1h-2zM27 118h1v1h-1zM12 119h1v1h-1zM5 121h2v1h-2zM24 121h1v1h-1zM13 122h1v1h-1zM3 123h4v1h-4zM14 124h1v1h-1zM2 125h1v1h-1zM4 125h1v1h-1zM15 125h7v1h-7zM0 129h2v1h-2zM3 129h1v1h-1zM8 129h1v1h-1z"/>
<path fill="#afc30f" d="M22 0h2v1h-2zM27 0h6v1h-6zM34 0h1v1h-1zM36 0h1v1h-1zM9 1h2v1h-2zM13 1h1v1h-1zM18 1h1v1h-1zM36 1h1v1h-1zM10 2h2v1h-2zM23 2h1v1h-1zM31 2h1v1h-1zM35 2h1v1h-1zM37 2h1v1h-1zM18 3h2v1h-2zM25 3h1v1h-1zM27 3h1v1h-1zM12 4h3v1h-3zM18 4h1v1h-1zM21 4h3v1h-3zM34 4h1v1h-1zM22 5h1v1h-1zM24 5h1v1h-1zM26 5h2v1h-2zM36 5h3v1h-3zM16 6h1v1h-1zM22 6h1v1h-1zM33 6h1v1h-1zM35 6h2v1h-2zM17 7h1v1h-1zM19 7h2v1h-2zM26 7h1v1h-1zM28 7h1v1h-1zM23 8h1v1h-1zM27 8h2v1h-2zM33 8h1v1h-1zM26 9h1v1h-1zM34 9h4v1h-4zM33 10h1v1h-1zM6 11h2v1h-2zM15 11h4v1h-4zM20 11h1v1h-1zM27 11h1v1h-1zM19 12h1v1h-1zM33 12h1v1h-1zM35 12h2v1h-2zM21 13h1v1h-1zM23 13h1v1h-1zM25 13h1v1h-1zM27 13h1v1h-1zM29 13h1v1h-1zM33 13h1v1h-1zM36 13h1v1h-1zM38 13h1v1h-1zM21 14h1v1h-1zM24 14h1v1h-1zM26 14h1v1h-1zM28 14h2v1h-2zM33 14h1v1h-1zM24 15h4v1h-4zM15 16h1v1h-1zM18 16h4v1h-4zM35 16h2v1h-2zM38 16h1v1h-1zM10 17h1v1h-1zM15 17h2v1h-2zM25 17h1v1h-1zM32 17h1v1h-1zM35 17h1v1h-1zM16 19h4v1h-4zM25 19h2v1h-2zM28 19h1v1h-1zM38 19h1v1h-1zM3 20h1v1h-1zM8 20h1v1h-1zM12 20h2v1h-2zM32 21h1v1h-1zM6 22h3v1h-3zM7 23h1v1h-1zM34 23h1v1h-1zM23 24h1v1h-1zM34 24h4v1h-4zM8 26h1v1h-1zM10 26h1v1h-1zM16 26h1v1h-1zM18 26h1v1h-1zM37 26h1v1h-1zM9 27h1v1h-1zM15 27h1v1h-1zM18 27h1v1h-1zM37 27h1v1h-1zM20 28h2v1h-2zM23 28h2v1h-2zM33 28h1v1h-1zM36 28h1v1h-1zM35 29h1v1h-1zM31 30h2v1h-2zM36 30h1v1h-1zM25 31h1v1h-1zM0 32h1v1h-1zM5 32h1v1h-1zM25 32h1v1h-1zM28 32h1v1h-1zM0 33h2v1h-2zM14 34h1v1h-1zM16 34h3v1h-3zM30 34h2v1h-2zM7 35h2v1h-2zM18 35h1v1h-1zM12 36h1v1h-1zM2 37h1v1h-1zM9 38h3v1h-3zM14 38h1v1h-1zM23 38h1v1h-1zM36 38h1v1h-1zM2 39h1v1h-1zM5 39h1v1h-1zM13 39h3v1h-3zM21 39h1v1h-1zM9 40h2v1h-2zM12 40h1v1h-1zM19 40h1v1h-1zM25 40h1v1h-1zM18 41h1v1h-1zM32 41h1v1h-1zM38 41h1v1h-1zM19 42h2v1h-2zM22 42h1v1h-1zM25 43h1v1h-1zM32 43h1v1h-1zM13 44h1v1h-1zM16 44h1v1h-1zM21 44h1v1h-1zM28 44h1v1h-1zM30 44h1v1h-1zM33 44h1v1h-1zM38 44h1v1h-1zM8 45h1v1h-1zM10 45h2v1h-2zM22 45h1v1h-1zM35 45h1v1h-1zM20 46h2v1h-2zM27 46h2v1h-2zM3 47h2v1h-2zM18 47h1v1h-1zM31 47h1v1h-1zM33 47h3v1h-3zM0 48h2v1h-2zM27 48h2v1h-2zM29 49h1v1h-1zM31 49h2v1h-2zM31 50h1v1h-1zM27 51h4v1h-4zM38 51h1v1h-1zM12 52h1v1h-1zM21 52h1v1h-1zM37 52h2v1h-2zM21 53h1v1h-1zM23 53h2v1h-2zM29 53h1v1h-1zM6 54h1v1h-1zM10 54h2v1h-2zM28 54h1v1h-1zM7 56h1v1h-1zM13 56h1v1h-1zM17 57h1v1h-1zM22 57h2v1h-2zM27 57h1v1h-1zM29 58h2v1h-2zM18 59h1v1h-1zM30 61h2v1h-2zM3 62h1v1h-1zM20 62h1v1h-1zM30 62h2v1h-2zM3 63h2v1h-2zM20 63h4v1h-4zM29 63h1v1h-1zM4 64h1v1h-1zM6 64h1v1h-1zM10 64h1v1h-1zM24 64h1v1h-1zM8 65h3v1h-3zM14 65h1v1h-1zM18 65h1v1h-1zM20 65h2v1h-2zM24 65h1v1h-1zM26 65h1v1h-1zM10 66h1v1h-1zM27 66h1v1h-1zM29 66h2v1h-2zM17 67h1v1h-1zM20 67h1v1h-1zM15 68h1v1h-1zM25 68h2v1h-2zM13 69h1v1h-1zM24 69h1v1h-1zM9 70h1v1h-1zM11 70h1v1h-1zM13 70h1v1h-1zM24 70h2v1h-2zM24 71h1v1h-1zM12 72h1v1h-1zM24 72h1v1h-1zM10 73h1v1h-1zM23 73h2v1h-2zM36 73h2v1h-2zM2 74h1v1h-1zM0 75h1v1h-1zM16 75h2v1h-2zM12 76h2v1h-2zM34 77h2v1h-2zM37 77h1v1h-1zM19 78h1v1h-1zM3 79h1v1h-1zM37 79h2v1h-2zM0 80h2v1h-2zM3 80h1v1h-1zM15 80h1v1h-1zM7 81h1v1h-1zM17 81h2v1h-2zM0 82h4v1h-4zM7 82h1v1h-1zM19 82h2v1h-2zM19 84h4v1h-4zM1 85h1v1h-1zM7 85h1v1h-1zM1 86h1v1h-1zM22 86h1v1h-1zM9 87h1v1h-1zM4 88h1v1h-1zM22 88h1v1h-1zM3 89h2v1h-2zM11 89h1v1h-1zM19 90h1v1h-1zM37 90h1v1h-1zM38 91h1v1h-1zM5 92h1v1h-1zM0 94h1v1h-1zM2 94h1v1h-1zM15 94h2v1h-2zM7 95h1v1h-1zM6 96h1v1h-1zM9 96h1v1h-1zM37 96h1v1h-1zM6 97h3v1h-3zM15 97h2v1h-2zM6 98h1v1h-1zM31 98h1v1h-1zM35 98h4v1h-4zM7 99h2v1h-2zM34 99h1v1h-1zM36 99h1v1h-1zM6 100h1v1h-1zM9 100h1v1h-1zM16 100h1v1h-1zM18 100h1v1h-1zM2 102h1v1h-1zM11 102h2v1h-2zM3 103h1v1h-1zM8 103h1v1h-1zM12 103h2v1h-2zM17 103h1v1h-1zM33 104h1v1h-1zM35 104h1v1h-1zM0 106h1v1h-1zM3 106h1v1h-1zM5 106h1v1h-1zM8 106h1v1h-1zM30 106h1v1h-1zM35 107h1v1h-1zM12 108h1v1h-1zM23 108h1v1h-1zM30 108h3v1h-3zM27 109h1v1h-1zM29 109h1v1h-1zM0 110h3v1h-3zM5 110h1v1h-1zM15 110h1v1h-1zM25 110h1v1h-1zM31 110h1v1h-1zM22 112h1v1h-1zM29 112h1v1h-1zM6 113h1v1h-1zM10 114h1v1h-1zM12 114h1v1h-1zM17 114h1v1h-1zM21 114h1v1h-1zM7 115h1v1h-1zM9 115h1v1h-1zM11 115h1v1h-1zM14 116h1v1h-1zM14 117h1v1h-1zM1 118h1v1h-1zM7 118h1v1h-1zM0 119h1v1h-1zM2 119h1v1h-1zM4 119h2v1h-2zM13 119h1v1h-1zM38 119h1v1h-1zM5 120h1v1h-1zM9 120h2v1h-2zM17 120h1v1h-1zM3 121h1v1h-1zM23 121h1v1h-1zM12 122h1v1h-1zM14 123h1v1h-1zM26 123h1v1h-1zM7 125h1v1h-1zM25 125h1v1h-1zM12 126h3v1h-3zM31 126h1v1h-1zM37 127h1v1h-1zM36 128h2v1h-2zM2 129h1v1h-1zM9 129h3v1h-3z"/>
<path fill="#d0cd08" d="M12 0h1v1h-1zM14 0h1v1h-1zM26 0h1v1h-1zM33 0h1v1h-1zM35 0h1v1h-1zM37 0h1v1h-1zM8 1h1v1h-1zM11 1h1v1h-1zM21 1h3v1h-3zM27 1h3v1h-3zM31 1h2v1h-2zM35 1h1v1h-1zM8 2h2v1h-2zM17 3h1v1h-1zM24 3h1v1h-1zM31 3h1v1h-1zM10 4h2v1h-2zM25 4h1v1h-1zM35 4h2v1h-2zM16 5h1v1h-1zM25 5h1v1h-1zM12 6h1v1h-1zM14 6h1v1h-1zM21 6h1v1h-1zM27 6h3v1h-3zM22 7h1v1h-1zM30 7h1v1h-1zM34 7h1v1h-1zM24 8h1v1h-1zM29 8h1v1h-1zM16 9h2v1h-2zM24 9h1v1h-1zM14 10h1v1h-1zM27 10h3v1h-3zM29 11h1v1h-1zM33 11h1v1h-1zM38 11h1v1h-1zM10 12h1v1h-1zM17 12h2v1h-2zM20 12h1v1h-1zM34 12h1v1h-1zM37 12h2v1h-2zM9 13h1v1h-1zM17 13h1v1h-1zM19 13h2v1h-2zM24 13h1v1h-1zM26 13h1v1h-1zM37 13h1v1h-1zM19 14h1v1h-1zM23 14h1v1h-1zM27 14h1v1h-1zM34 14h3v1h-3zM38 14h1v1h-1zM10 15h1v1h-1zM16 15h1v1h-1zM9 16h1v1h-1zM37 16h1v1h-1zM17 17h1v1h-1zM26 17h1v1h-1zM38 17h1v1h-1zM7 19h2v1h-2zM15 19h1v1h-1zM20 19h1v1h-1zM27 19h1v1h-1zM34 19h2v1h-2zM1 20h1v1h-1zM38 21h1v1h-1zM9 22h1v1h-1zM35 22h4v1h-4zM8 23h3v1h-3zM33 23h1v1h-1zM10 24h1v1h-1zM12 24h1v1h-1zM11 25h2v1h-2zM16 25h1v1h-1zM6 26h2v1h-2zM9 26h1v1h-1zM12 26h1v1h-1zM14 26h1v1h-1zM19 26h1v1h-1zM22 26h3v1h-3zM38 26h1v1h-1zM7 27h1v1h-1zM10 27h1v1h-1zM14 27h1v1h-1zM23 27h1v1h-1zM31 27h1v1h-1zM7 28h1v1h-1zM9 28h1v1h-1zM11 28h1v1h-1zM22 28h1v1h-1zM34 28h1v1h-1zM28 29h1v1h-1zM6 30h2v1h-2zM26 31h2v1h-2zM29 31h2v1h-2zM33 31h3v1h-3zM6 32h1v1h-1zM27 32h1v1h-1zM30 32h3v1h-3zM36 32h2v1h-2zM29 33h1v1h-1zM31 33h3v1h-3zM36 33h1v1h-1zM7 34h1v1h-1zM25 34h1v1h-1zM33 34h1v1h-1zM6 35h1v1h-1zM17 35h1v1h-1zM31 35h4v1h-4zM37 35h1v1h-1zM6 36h1v1h-1zM8 36h1v1h-1zM10 36h1v1h-1zM15 36h2v1h-2zM21 36h3v1h-3zM25 36h1v1h-1zM1 37h1v1h-1zM7 37h1v1h-1zM18 37h1v1h-1zM21 37h2v1h-2zM25 37h2v1h-2zM30 37h1v1h-1zM32 37h1v1h-1zM12 38h2v1h-2zM32 38h1v1h-1zM35 38h1v1h-1zM0 39h2v1h-2zM3 39h2v1h-2zM10 39h1v1h-1zM22 39h1v1h-1zM26 39h1v1h-1zM30 39h1v1h-1zM38 39h1v1h-1zM11 40h1v1h-1zM24 40h1v1h-1zM30 40h1v1h-1zM32 40h1v1h-1zM1 41h1v1h-1zM10 41h1v1h-1zM16 41h1v1h-1zM31 41h1v1h-1zM35 41h1v1h-1zM37 41h1v1h-1zM9 42h3v1h-3zM30 42h3v1h-3zM12 43h2v1h-2zM24 43h1v1h-1zM26 43h1v1h-1zM31 43h1v1h-1zM4 44h1v1h-1zM10 44h2v1h-2zM14 44h2v1h-2zM20 44h1v1h-1zM31 44h2v1h-2zM34 44h3v1h-3zM9 45h1v1h-1zM12 45h1v1h-1zM21 45h1v1h-1zM23 45h1v1h-1zM27 45h1v1h-1zM31 45h1v1h-1zM33 45h2v1h-2zM36 45h1v1h-1zM36 46h2v1h-2zM16 47h2v1h-2zM36 47h1v1h-1zM38 47h1v1h-1zM2 48h1v1h-1zM7 48h1v1h-1zM25 48h1v1h-1zM28 49h1v1h-1zM30 49h1v1h-1zM33 49h2v1h-2zM27 50h4v1h-4zM32 50h1v1h-1zM35 50h4v1h-4zM10 51h1v1h-1zM25 51h2v1h-2zM32 51h1v1h-1zM34 51h1v1h-1zM37 51h1v1h-1zM18 52h1v1h-1zM22 52h4v1h-4zM27 52h1v1h-1zM30 52h1v1h-1zM32 52h1v1h-1zM36 52h1v1h-1zM6 53h1v1h-1zM8 53h2v1h-2zM11 53h1v1h-1zM17 53h1v1h-1zM19 53h2v1h-2zM22 53h1v1h-1zM25 53h2v1h-2zM32 53h1v1h-1zM5 54h1v1h-1zM7 54h1v1h-1zM12 54h1v1h-1zM19 55h1v1h-1zM30 55h3v1h-3zM8 56h1v1h-1zM12 56h1v1h-1zM15 56h1v1h-1zM13 57h1v1h-1zM19 57h1v1h-1zM21 57h1v1h-1zM26 57h1v1h-1zM11 58h3v1h-3zM15 58h2v1h-2zM23 58h1v1h-1zM32 58h1v1h-1zM8 59h1v1h-1zM23 59h1v1h-1zM14 60h1v1h-1zM32 61h1v1h-1zM4 62h1v1h-1zM14 62h1v1h-1zM16 62h3v1h-3zM21 62h1v1h-1zM23 62h1v1h-1zM29 62h1v1h-1zM32 62h2v1h-2zM9 63h1v1h-1zM11 63h1v1h-1zM15 63h1v1h-1zM3 64h1v1h-1zM16 64h2v1h-2zM32 64h1v1h-1zM27 65h1v1h-1zM29 65h1v1h-1zM11 66h1v1h-1zM15 66h1v1h-1zM31 66h1v1h-1zM18 67h2v1h-2zM21 67h2v1h-2zM30 67h1v1h-1zM37 67h2v1h-2zM24 68h1v1h-1zM27 68h1v1h-1zM29 68h1v1h-1zM0 69h1v1h-1zM3 69h1v1h-1zM12 69h1v1h-1zM14 69h1v1h-1zM23 69h1v1h-1zM26 69h1v1h-1zM4 70h1v1h-1zM10 70h1v1h-1zM12 70h1v1h-1zM14 70h1v1h-1zM26 70h1v1h-1zM15 71h3v1h-3zM23 71h1v1h-1zM21 72h3v1h-3zM27 72h1v1h-1zM33 72h1v1h-1zM20 73h1v1h-1zM34 73h1v1h-1zM36 74h1v1h-1zM1 75h1v1h-1zM14 75h2v1h-2zM26 75h2v1h-2zM33 75h1v1h-1zM36 75h1v1h-1zM0 76h1v1h-1zM25 77h1v1h-1zM38 77h1v1h-1zM18 78h1v1h-1zM33 78h1v1h-1zM38 78h1v1h-1zM24 79h1v1h-1zM2 80h1v1h-1zM4 80h2v1h-2zM8 80h1v1h-1zM16 80h3v1h-3zM15 81h2v1h-2zM37 81h2v1h-2zM13 82h1v1h-1zM16 82h1v1h-1zM18 82h1v1h-1zM21 82h1v1h-1zM1 83h1v1h-1zM5 83h3v1h-3zM19 83h1v1h-1zM17 84h1v1h-1zM23 84h1v1h-1zM5 85h1v1h-1zM23 85h1v1h-1zM32 85h3v1h-3zM36 85h1v1h-1zM11 86h2v1h-2zM6 87h1v1h-1zM8 87h1v1h-1zM24 87h1v1h-1zM27 88h3v1h-3zM37 88h1v1h-1zM1 89h2v1h-2zM23 89h1v1h-1zM7 90h1v1h-1zM23 90h1v1h-1zM38 90h1v1h-1zM5 91h1v1h-1zM9 91h2v1h-2zM37 91h1v1h-1zM10 92h1v1h-1zM1 94h1v1h-1zM12 94h1v1h-1zM14 95h1v1h-1zM18 95h1v1h-1zM7 96h1v1h-1zM36 96h1v1h-1zM9 97h3v1h-3zM7 98h3v1h-3zM18 98h5v1h-5zM24 98h1v1h-1zM6 99h1v1h-1zM9 99h1v1h-1zM1 100h1v1h-1zM7 100h1v1h-1zM15 100h1v1h-1zM17 100h1v1h-1zM19 100h1v1h-1zM26 100h2v1h-2zM4 102h1v1h-1zM7 102h4v1h-4zM0 103h2v1h-2zM5 103h1v1h-1zM7 103h1v1h-1zM14 103h1v1h-1zM18 103h1v1h-1zM13 104h1v1h-1zM36 104h1v1h-1zM6 105h1v1h-1zM12 105h1v1h-1zM2 106h1v1h-1zM6 106h1v1h-1zM13 106h2v1h-2zM21 106h1v1h-1zM23 106h1v1h-1zM26 106h1v1h-1zM31 106h1v1h-1zM15 107h2v1h-2zM25 107h1v1h-1zM15 108h1v1h-1zM24 108h1v1h-1zM26 108h1v1h-1zM29 108h1v1h-1zM18 109h2v1h-2zM3 110h2v1h-2zM16 110h1v1h-1zM18 110h1v1h-1zM24 110h1v1h-1zM26 110h1v1h-1zM28 110h1v1h-1zM30 110h1v1h-1zM6 111h1v1h-1zM13 111h1v1h-1zM24 111h3v1h-3zM21 112h1v1h-1zM28 112h1v1h-1zM0 113h2v1h-2zM8 113h1v1h-1zM12 113h1v1h-1zM1 114h2v1h-2zM6 114h3v1h-3zM11 114h1v1h-1zM13 114h1v1h-1zM15 114h2v1h-2zM18 114h1v1h-1zM22 114h1v1h-1zM5 115h1v1h-1zM12 115h1v1h-1zM14 115h1v1h-1zM0 116h1v1h-1zM9 116h5v1h-5zM19 116h1v1h-1zM22 116h1v1h-1zM6 117h1v1h-1zM8 117h1v1h-1zM12 117h2v1h-2zM25 117h1v1h-1zM0 118h1v1h-1zM2 118h1v1h-1zM10 118h3v1h-3zM17 118h1v1h-1zM34 118h2v1h-2zM1 119h1v1h-1zM3 119h1v1h-1zM6 119h1v1h-1zM14 119h1v1h-1zM25 119h2v1h-2zM37 119h1v1h-1zM4 120h1v1h-1zM6 120h2v1h-2zM13 120h2v1h-2zM18 120h1v1h-1zM24 120h1v1h-1zM27 120h1v1h-1zM4 121h1v1h-1zM13 121h1v1h-1zM20 121h3v1h-3zM26 121h1v1h-1zM3 122h2v1h-2zM17 122h1v1h-1zM26 122h1v1h-1zM32 122h1v1h-1zM38 122h1v1h-1zM0 123h3v1h-3zM7 123h1v1h-1zM11 123h3v1h-3zM16 123h1v1h-1zM23 123h1v1h-1zM27 123h1v1h-1zM1 124h1v1h-1zM3 124h1v1h-1zM16 124h1v1h-1zM31 124h1v1h-1zM33 124h1v1h-1zM5 125h1v1h-1zM8 125h1v1h-1zM12 125h1v1h-1zM26 125h1v1h-1zM33 125h1v1h-1zM10 126h1v1h-1zM15 126h1v1h-1zM28 126h2v1h-2zM38 126h1v1h-1zM20 127h1v1h-1zM38 127h1v1h-1zM1 128h1v1h-1zM16 128h2v1h-2zM19 128h1v1h-1zM34 128h1v1h-1zM38 128h1v1h-1zM12 129h1v1h-1zM36 129h1v1h-1z"/>
<path fill="#f0d700" d="M13 0h1v1h-1zM24 0h1v1h-1zM7 1h1v1h-1zM14 1h1v1h-1zM24 1h1v1h-1zM26 1h1v1h-1zM30 1h1v1h-1zM33 1h1v1h-1zM6 2h2v1h-2zM12 2h3v1h-3zM22 2h1v1h-1zM25 2h1v1h-1zM27 2h1v1h-1zM10 3h1v1h-1zM15 4h1v1h-1zM24 4h1v1h-1zM26 4h1v1h-1zM9 5h1v1h-1zM12 5h1v1h-1zM15 5h1v1h-1zM17 5h1v1h-1zM10 6h2v1h-2zM13 6h1v1h-1zM23 6h1v1h-1zM9 7h2v1h-2zM16 7h1v1h-1zM18 7h1v1h-1zM21 7h1v1h-1zM24 7h2v1h-2zM31 7h1v1h-1zM9 8h2v1h-2zM25 8h2v1h-2zM14 9h1v1h-1zM29 9h1v1h-1zM33 9h1v1h-1zM13 10h1v1h-1zM32 10h1v1h-1zM10 11h1v1h-1zM34 11h1v1h-1zM37 11h1v1h-1zM8 12h1v1h-1zM16 12h1v1h-1zM28 12h2v1h-2zM10 13h1v1h-1zM14 13h1v1h-1zM18 13h1v1h-1zM28 13h1v1h-1zM32 13h1v1h-1zM7 14h2v1h-2zM20 14h1v1h-1zM32 14h1v1h-1zM37 14h1v1h-1zM7 15h3v1h-3zM17 15h2v1h-2zM28 15h2v1h-2zM25 16h2v1h-2zM28 16h1v1h-1zM33 16h2v1h-2zM9 17h1v1h-1zM21 17h1v1h-1zM23 17h2v1h-2zM36 17h2v1h-2zM9 18h3v1h-3zM28 18h1v1h-1zM6 19h1v1h-1zM9 19h1v1h-1zM22 19h1v1h-1zM29 19h1v1h-1zM33 19h1v1h-1zM36 19h2v1h-2zM0 20h1v1h-1zM2 20h1v1h-1zM7 20h1v1h-1zM9 20h3v1h-3zM2 21h1v1h-1zM9 21h2v1h-2zM31 21h1v1h-1zM27 22h1v1h-1zM34 22h1v1h-1zM4 23h1v1h-1zM6 23h1v1h-1zM27 23h1v1h-1zM9 24h1v1h-1zM11 24h1v1h-1zM13 24h1v1h-1zM33 24h1v1h-1zM38 24h1v1h-1zM15 25h1v1h-1zM30 25h1v1h-1zM38 25h1v1h-1zM0 26h1v1h-1zM3 26h1v1h-1zM11 26h1v1h-1zM13 26h1v1h-1zM20 26h2v1h-2zM20 27h3v1h-3zM33 27h2v1h-2zM0 28h2v1h-2zM3 28h1v1h-1zM6 28h1v1h-1zM8 28h1v1h-1zM10 28h1v1h-1zM15 28h1v1h-1zM38 28h1v1h-1zM10 29h1v1h-1zM18 29h3v1h-3zM27 29h1v1h-1zM29 29h1v1h-1zM5 30h1v1h-1zM8 30h2v1h-2zM14 30h1v1h-1zM33 30h3v1h-3zM37 30h1v1h-1zM8 31h2v1h-2zM18 31h2v1h-2zM28 31h1v1h-1zM16 32h3v1h-3zM26 32h1v1h-1zM20 33h1v1h-1zM24 33h3v1h-3zM30 33h1v1h-1zM34 33h2v1h-2zM37 33h2v1h-2zM6 34h1v1h-1zM8 34h1v1h-1zM10 34h1v1h-1zM26 34h1v1h-1zM28 34h1v1h-1zM32 34h1v1h-1zM34 34h1v1h-1zM37 34h2v1h-2zM9 35h3v1h-3zM25 35h3v1h-3zM29 35h2v1h-2zM35 35h2v1h-2zM9 36h1v1h-1zM11 36h1v1h-1zM14 36h1v1h-1zM24 36h1v1h-1zM0 37h1v1h-1zM3 37h1v1h-1zM5 37h2v1h-2zM16 37h2v1h-2zM20 37h1v1h-1zM23 37h1v1h-1zM27 37h3v1h-3zM31 37h1v1h-1zM17 38h2v1h-2zM29 38h1v1h-1zM9 39h1v1h-1zM26 40h2v1h-2zM31 40h1v1h-1zM33 40h1v1h-1zM4 41h1v1h-1zM6 41h1v1h-1zM9 41h1v1h-1zM11 41h1v1h-1zM15 41h1v1h-1zM17 41h1v1h-1zM33 41h1v1h-1zM36 41h1v1h-1zM3 42h1v1h-1zM5 42h1v1h-1zM7 42h1v1h-1zM27 42h1v1h-1zM29 42h1v1h-1zM16 43h1v1h-1zM27 43h4v1h-4zM33 43h1v1h-1zM36 43h3v1h-3zM7 44h1v1h-1zM18 44h1v1h-1zM26 44h2v1h-2zM29 44h1v1h-1zM37 44h1v1h-1zM4 45h3v1h-3zM20 45h1v1h-1zM28 45h2v1h-2zM32 45h1v1h-1zM5 46h1v1h-1zM8 46h1v1h-1zM33 46h1v1h-1zM35 46h1v1h-1zM24 47h1v1h-1zM32 47h1v1h-1zM8 48h1v1h-1zM11 48h2v1h-2zM24 48h1v1h-1zM26 48h1v1h-1zM34 48h2v1h-2zM38 48h1v1h-1zM3 49h1v1h-1zM15 49h1v1h-1zM27 49h1v1h-1zM35 49h1v1h-1zM37 49h1v1h-1zM25 50h2v1h-2zM34 50h1v1h-1zM5 51h1v1h-1zM35 51h2v1h-2zM15 52h3v1h-3zM26 52h1v1h-1zM28 52h2v1h-2zM31 52h1v1h-1zM33 52h1v1h-1zM5 53h1v1h-1zM7 53h1v1h-1zM10 53h1v1h-1zM12 53h1v1h-1zM28 53h1v1h-1zM3 54h2v1h-2zM8 54h1v1h-1zM13 54h2v1h-2zM17 54h1v1h-1zM22 54h1v1h-1zM36 54h1v1h-1zM38 54h1v1h-1zM3 55h1v1h-1zM16 55h1v1h-1zM20 55h1v1h-1zM29 55h1v1h-1zM33 55h1v1h-1zM36 55h1v1h-1zM6 56h1v1h-1zM14 56h1v1h-1zM25 56h1v1h-1zM27 56h1v1h-1zM30 56h1v1h-1zM10 57h3v1h-3zM14 57h1v1h-1zM25 57h1v1h-1zM28 57h1v1h-1zM32 57h3v1h-3zM6 58h1v1h-1zM18 58h1v1h-1zM22 58h1v1h-1zM33 58h1v1h-1zM7 59h1v1h-1zM33 59h1v1h-1zM7 60h1v1h-1zM17 60h1v1h-1zM33 60h1v1h-1zM21 61h1v1h-1zM23 61h1v1h-1zM34 61h1v1h-1zM8 62h1v1h-1zM10 62h1v1h-1zM19 62h1v1h-1zM22 62h1v1h-1zM34 62h1v1h-1zM10 63h1v1h-1zM16 63h1v1h-1zM9 64h1v1h-1zM15 64h1v1h-1zM18 64h2v1h-2zM21 64h1v1h-1zM35 64h1v1h-1zM38 64h1v1h-1zM0 65h1v1h-1zM2 65h2v1h-2zM6 65h1v1h-1zM19 65h1v1h-1zM38 65h1v1h-1zM7 66h1v1h-1zM9 66h1v1h-1zM16 66h2v1h-2zM21 66h1v1h-1zM23 66h1v1h-1zM37 66h1v1h-1zM23 67h1v1h-1zM29 67h1v1h-1zM35 67h1v1h-1zM30 68h1v1h-1zM32 68h2v1h-2zM36 68h1v1h-1zM1 69h1v1h-1zM9 69h1v1h-1zM15 69h1v1h-1zM27 69h3v1h-3zM7 70h1v1h-1zM15 70h1v1h-1zM18 70h1v1h-1zM23 70h1v1h-1zM18 71h1v1h-1zM27 71h1v1h-1zM33 71h1v1h-1zM35 71h1v1h-1zM37 71h2v1h-2zM7 72h1v1h-1zM9 72h1v1h-1zM11 72h1v1h-1zM15 72h1v1h-1zM31 72h1v1h-1zM35 72h2v1h-2zM31 73h2v1h-2zM3 74h1v1h-1zM5 74h1v1h-1zM13 74h1v1h-1zM17 74h1v1h-1zM21 74h2v1h-2zM35 74h1v1h-1zM37 74h2v1h-2zM2 75h1v1h-1zM18 75h1v1h-1zM28 75h5v1h-5zM34 75h2v1h-2zM37 75h1v1h-1zM1 76h3v1h-3zM5 76h2v1h-2zM24 76h1v1h-1zM37 76h1v1h-1zM10 77h1v1h-1zM23 77h2v1h-2zM0 78h1v1h-1zM2 78h4v1h-4zM15 78h3v1h-3zM29 78h1v1h-1zM32 78h1v1h-1zM37 78h1v1h-1zM11 79h1v1h-1zM15 79h1v1h-1zM33 79h1v1h-1zM35 79h1v1h-1zM6 80h2v1h-2zM9 80h1v1h-1zM14 80h1v1h-1zM20 80h1v1h-1zM6 81h1v1h-1zM8 81h2v1h-2zM14 81h1v1h-1zM36 81h1v1h-1zM15 82h1v1h-1zM17 82h1v1h-1zM22 82h1v1h-1zM36 82h2v1h-2zM8 83h1v1h-1zM22 83h2v1h-2zM36 83h1v1h-1zM15 84h1v1h-1zM6 85h1v1h-1zM8 85h2v1h-2zM15 85h1v1h-1zM31 85h1v1h-1zM37 85h2v1h-2zM0 86h1v1h-1zM3 86h2v1h-2zM18 86h1v1h-1zM21 86h1v1h-1zM23 86h1v1h-1zM25 87h2v1h-2zM38 87h1v1h-1zM6 88h1v1h-1zM23 88h1v1h-1zM0 89h1v1h-1zM9 89h2v1h-2zM6 90h1v1h-1zM8 90h1v1h-1zM16 90h1v1h-1zM36 90h1v1h-1zM8 91h1v1h-1zM11 91h2v1h-2zM35 91h2v1h-2zM6 92h1v1h-1zM9 92h1v1h-1zM22 92h2v1h-2zM30 92h1v1h-1zM34 93h1v1h-1zM36 93h1v1h-1zM38 93h1v1h-1zM13 94h2v1h-2zM17 94h1v1h-1zM22 94h1v1h-1zM35 94h1v1h-1zM15 95h3v1h-3zM20 95h2v1h-2zM32 95h1v1h-1zM32 97h1v1h-1zM12 98h1v1h-1zM17 98h1v1h-1zM23 98h1v1h-1zM25 98h3v1h-3zM29 98h1v1h-1zM23 99h2v1h-2zM31 99h1v1h-1zM38 99h1v1h-1zM8 100h1v1h-1zM25 100h1v1h-1zM28 100h1v1h-1zM13 101h2v1h-2zM5 102h2v1h-2zM14 102h1v1h-1zM2 103h1v1h-1zM4 103h1v1h-1zM6 103h1v1h-1zM11 103h1v1h-1zM16 103h1v1h-1zM12 104h1v1h-1zM14 104h1v1h-1zM34 104h1v1h-1zM13 105h1v1h-1zM20 105h1v1h-1zM12 106h1v1h-1zM22 106h1v1h-1zM25 106h1v1h-1zM29 106h1v1h-1zM33 106h1v1h-1zM2 107h1v1h-1zM4 107h1v1h-1zM12 107h2v1h-2zM17 107h1v1h-1zM24 107h1v1h-1zM27 107h1v1h-1zM37 107h1v1h-1zM22 108h1v1h-1zM25 108h1v1h-1zM28 108h1v1h-1zM20 109h1v1h-1zM17 110h1v1h-1zM27 110h1v1h-1zM29 110h1v1h-1zM32 110h1v1h-1zM14 111h1v1h-1zM35 111h1v1h-1zM6 112h5v1h-5zM12 112h1v1h-1zM27 112h1v1h-1zM38 112h1v1h-1zM4 113h2v1h-2zM7 113h1v1h-1zM9 113h2v1h-2zM13 113h2v1h-2zM24 113h1v1h-1zM33 113h1v1h-1zM0 114h1v1h-1zM9 114h1v1h-1zM24 114h1v1h-1zM4 115h1v1h-1zM6 115h1v1h-1zM10 115h1v1h-1zM13 115h1v1h-1zM15 116h1v1h-1zM17 116h1v1h-1zM21 116h1v1h-1zM23 116h4v1h-4zM0 117h2v1h-2zM4 117h2v1h-2zM7 117h1v1h-1zM9 117h3v1h-3zM17 117h1v1h-1zM23 117h2v1h-2zM26 117h1v1h-1zM37 117h1v1h-1zM8 118h2v1h-2zM19 118h1v1h-1zM33 118h1v1h-1zM36 118h3v1h-3zM15 119h3v1h-3zM22 119h2v1h-2zM27 119h4v1h-4zM33 119h1v1h-1zM35 119h1v1h-1zM8 120h1v1h-1zM11 120h2v1h-2zM19 120h1v1h-1zM25 120h1v1h-1zM34 120h3v1h-3zM0 121h1v1h-1zM9 121h1v1h-1zM14 121h1v1h-1zM27 121h1v1h-1zM0 122h1v1h-1zM16 122h1v1h-1zM19 122h1v1h-1zM31 122h1v1h-1zM33 122h1v1h-1zM8 123h3v1h-3zM20 123h3v1h-3zM25 123h1v1h-1zM28 123h2v1h-2zM0 124h1v1h-1zM2 124h1v1h-1zM4 124h1v1h-1zM15 124h1v1h-1zM17 124h2v1h-2zM25 124h1v1h-1zM32 124h1v1h-1zM35 124h1v1h-1zM37 124h1v1h-1zM6 125h1v1h-1zM9 125h1v1h-1zM13 125h2v1h-2zM23 125h2v1h-2zM30 125h3v1h-3zM35 125h1v1h-1zM0 126h1v1h-1zM16 126h1v1h-1zM27 126h1v1h-1zM30 126h1v1h-1zM35 126h1v1h-1zM37 126h1v1h-1zM6 127h1v1h-1zM11 127h3v1h-3zM15 127h1v1h-1zM23 127h1v1h-1zM25 127h2v1h-2zM3 128h1v1h-1zM18 128h1v1h-1zM30 128h1v1h-1zM33 128h1v1h-1zM35 128h1v1h-1zM16 129h2v1h-2zM37 129h2v1h-2z"/>
<path fill="#f4ca00" d="M15 0h3v1h-3zM25 0h1v1h-1zM15 1h2v1h-2zM25 1h1v1h-1zM34 1h1v1h-1zM0 2h1v1h-1zM16 2h1v1h-1zM26 2h1v1h-1zM9 3h1v1h-1zM16 3h1v1h-1zM10 5h2v1h-2zM7 6h1v1h-1zM9 6h1v1h-1zM24 6h3v1h-3zM30 6h1v1h-1zM32 6h1v1h-1zM14 7h2v1h-2zM23 7h1v1h-1zM32 7h1v1h-1zM35 7h1v1h-1zM37 7h1v1h-1zM8 8h1v1h-1zM17 8h1v1h-1zM30 8h1v1h-1zM10 9h1v1h-1zM15 9h1v1h-1zM12 10h1v1h-1zM8 11h2v1h-2zM30 11h1v1h-1zM32 11h1v1h-1zM35 11h2v1h-2zM9 12h1v1h-1zM15 12h1v1h-1zM6 13h3v1h-3zM31 13h1v1h-1zM6 14h1v1h-1zM9 14h1v1h-1zM16 14h1v1h-1zM30 14h2v1h-2zM6 15h1v1h-1zM15 15h1v1h-1zM6 16h3v1h-3zM11 16h2v1h-2zM14 16h1v1h-1zM7 17h1v1h-1zM14 17h1v1h-1zM19 17h1v1h-1zM8 18h1v1h-1zM29 18h1v1h-1zM14 19h1v1h-1zM13 21h1v1h-1zM35 21h2v1h-2zM10 22h1v1h-1zM28 22h2v1h-2zM33 22h1v1h-1zM12 23h1v1h-1zM28 23h1v1h-1zM3 24h2v1h-2zM14 24h1v1h-1zM32 24h1v1h-1zM13 25h2v1h-2zM22 25h1v1h-1zM2 26h1v1h-1zM4 26h2v1h-2zM25 26h3v1h-3zM30 26h4v1h-4zM8 27h1v1h-1zM11 27h2v1h-2zM32 27h1v1h-1zM4 28h2v1h-2zM6 29h1v1h-1zM11 29h1v1h-1zM14 29h4v1h-4zM3 30h1v1h-1zM11 30h3v1h-3zM38 30h1v1h-1zM6 31h2v1h-2zM10 31h1v1h-1zM16 31h2v1h-2zM20 31h1v1h-1zM9 32h2v1h-2zM24 32h1v1h-1zM29 32h1v1h-1zM33 32h2v1h-2zM19 33h1v1h-1zM11 34h1v1h-1zM27 34h1v1h-1zM29 34h1v1h-1zM35 34h2v1h-2zM12 35h1v1h-1zM28 35h1v1h-1zM38 35h1v1h-1zM3 36h3v1h-3zM7 36h1v1h-1zM13 36h1v1h-1zM19 36h1v1h-1zM26 36h1v1h-1zM28 36h1v1h-1zM38 36h1v1h-1zM4 37h1v1h-1zM33 37h1v1h-1zM38 37h1v1h-1zM25 38h1v1h-1zM30 38h2v1h-2zM6 39h3v1h-3zM11 39h2v1h-2zM16 39h2v1h-2zM27 39h3v1h-3zM31 39h1v1h-1zM33 39h1v1h-1zM0 40h3v1h-3zM14 40h2v1h-2zM28 40h2v1h-2zM34 40h1v1h-1zM0 41h1v1h-1zM2 41h2v1h-2zM8 41h1v1h-1zM12 41h1v1h-1zM27 41h1v1h-1zM34 41h1v1h-1zM8 42h1v1h-1zM13 42h1v1h-1zM33 42h1v1h-1zM35 42h1v1h-1zM37 42h2v1h-2zM6 43h1v1h-1zM8 43h2v1h-2zM34 43h2v1h-2zM5 44h2v1h-2zM12 44h1v1h-1zM17 44h1v1h-1zM0 45h1v1h-1zM3 45h1v1h-1zM7 45h1v1h-1zM13 45h1v1h-1zM26 45h1v1h-1zM30 45h1v1h-1zM2 46h3v1h-3zM7 46h1v1h-1zM9 46h1v1h-1zM11 46h1v1h-1zM26 46h1v1h-1zM34 46h1v1h-1zM38 46h1v1h-1zM9 47h1v1h-1zM11 47h1v1h-1zM30 47h1v1h-1zM30 48h4v1h-4zM36 48h2v1h-2zM1 49h1v1h-1zM4 49h1v1h-1zM12 49h1v1h-1zM16 49h3v1h-3zM25 49h1v1h-1zM36 49h1v1h-1zM8 50h1v1h-1zM10 50h2v1h-2zM18 50h2v1h-2zM24 50h1v1h-1zM33 50h1v1h-1zM6 51h1v1h-1zM8 51h1v1h-1zM17 51h1v1h-1zM19 51h2v1h-2zM33 51h1v1h-1zM8 52h1v1h-1zM14 52h1v1h-1zM34 52h2v1h-2zM4 53h1v1h-1zM15 53h2v1h-2zM18 53h1v1h-1zM27 53h1v1h-1zM33 53h1v1h-1zM36 53h1v1h-1zM15 54h2v1h-2zM19 54h1v1h-1zM35 54h1v1h-1zM37 54h1v1h-1zM7 55h4v1h-4zM18 55h1v1h-1zM35 55h1v1h-1zM37 55h2v1h-2zM3 56h1v1h-1zM16 56h1v1h-1zM26 56h1v1h-1zM29 56h1v1h-1zM36 56h1v1h-1zM38 56h1v1h-1zM3 57h1v1h-1zM8 57h2v1h-2zM15 57h1v1h-1zM35 57h2v1h-2zM0 58h1v1h-1zM5 58h1v1h-1zM7 58h4v1h-4zM17 58h1v1h-1zM21 58h1v1h-1zM38 58h1v1h-1zM34 59h1v1h-1zM6 60h1v1h-1zM8 60h2v1h-2zM15 60h1v1h-1zM18 60h1v1h-1zM34 60h2v1h-2zM14 61h1v1h-1zM17 61h2v1h-2zM22 61h1v1h-1zM33 61h1v1h-1zM35 61h1v1h-1zM2 62h1v1h-1zM15 62h1v1h-1zM0 63h1v1h-1zM2 63h1v1h-1zM8 63h1v1h-1zM17 63h3v1h-3zM7 64h1v1h-1zM20 64h1v1h-1zM34 64h1v1h-1zM36 64h1v1h-1zM4 65h2v1h-2zM7 65h1v1h-1zM37 65h1v1h-1zM8 66h1v1h-1zM18 66h2v1h-2zM22 66h1v1h-1zM32 66h2v1h-2zM38 66h1v1h-1zM9 67h1v1h-1zM32 67h1v1h-1zM34 67h1v1h-1zM36 67h1v1h-1zM3 68h1v1h-1zM23 68h1v1h-1zM28 68h1v1h-1zM31 68h1v1h-1zM34 68h2v1h-2zM37 68h2v1h-2zM10 69h2v1h-2zM16 69h1v1h-1zM21 69h1v1h-1zM30 69h3v1h-3zM8 70h1v1h-1zM20 70h1v1h-1zM31 70h1v1h-1zM20 71h1v1h-1zM22 71h1v1h-1zM28 71h1v1h-1zM31 71h2v1h-2zM36 71h1v1h-1zM10 72h1v1h-1zM16 72h1v1h-1zM28 72h1v1h-1zM30 72h1v1h-1zM34 72h1v1h-1zM30 73h1v1h-1zM1 74h1v1h-1zM6 74h2v1h-2zM12 74h1v1h-1zM14 74h1v1h-1zM18 74h1v1h-1zM28 74h5v1h-5zM34 74h1v1h-1zM3 75h1v1h-1zM19 75h1v1h-1zM38 75h1v1h-1zM7 76h3v1h-3zM22 76h2v1h-2zM26 76h1v1h-1zM35 76h2v1h-2zM9 77h1v1h-1zM11 77h1v1h-1zM29 77h5v1h-5zM1 78h1v1h-1zM11 78h1v1h-1zM28 78h1v1h-1zM31 78h1v1h-1zM35 78h2v1h-2zM25 79h1v1h-1zM32 79h1v1h-1zM19 80h1v1h-1zM23 80h1v1h-1zM35 80h1v1h-1zM22 81h1v1h-1zM33 81h2v1h-2zM23 82h1v1h-1zM33 82h3v1h-3zM38 82h1v1h-1zM18 83h1v1h-1zM21 83h1v1h-1zM5 84h4v1h-4zM16 84h1v1h-1zM18 84h1v1h-1zM33 84h3v1h-3zM35 85h1v1h-1zM2 86h1v1h-1zM5 86h1v1h-1zM15 86h2v1h-2zM20 86h1v1h-1zM32 86h1v1h-1zM35 86h2v1h-2zM38 86h1v1h-1zM7 87h1v1h-1zM16 87h1v1h-1zM36 87h2v1h-2zM16 88h1v1h-1zM26 88h1v1h-1zM30 88h1v1h-1zM32 88h1v1h-1zM36 88h1v1h-1zM8 89h1v1h-1zM12 89h2v1h-2zM27 89h1v1h-1zM10 90h1v1h-1zM15 90h1v1h-1zM17 90h1v1h-1zM6 91h1v1h-1zM32 91h1v1h-1zM34 91h1v1h-1zM7 92h1v1h-1zM18 92h4v1h-4zM27 92h1v1h-1zM29 92h1v1h-1zM31 92h1v1h-1zM37 92h1v1h-1zM21 93h1v1h-1zM35 93h1v1h-1zM37 93h1v1h-1zM21 94h1v1h-1zM29 94h5v1h-5zM8 95h2v1h-2zM19 95h1v1h-1zM22 95h3v1h-3zM30 95h2v1h-2zM33 95h1v1h-1zM35 95h1v1h-1zM15 96h1v1h-1zM20 96h1v1h-1zM22 96h1v1h-1zM29 96h1v1h-1zM32 96h1v1h-1zM12 97h3v1h-3zM30 97h1v1h-1zM13 98h1v1h-1zM28 98h1v1h-1zM14 99h1v1h-1zM22 99h1v1h-1zM25 99h1v1h-1zM27 99h1v1h-1zM32 99h1v1h-1zM31 100h1v1h-1zM0 101h2v1h-2zM15 101h2v1h-2zM18 101h1v1h-1zM27 101h1v1h-1zM18 102h1v1h-1zM27 102h2v1h-2zM30 102h2v1h-2zM34 102h1v1h-1zM9 103h2v1h-2zM23 103h1v1h-1zM27 103h2v1h-2zM30 103h2v1h-2zM17 104h1v1h-1zM37 104h1v1h-1zM14 105h1v1h-1zM38 105h1v1h-1zM17 106h1v1h-1zM28 106h1v1h-1zM35 106h1v1h-1zM37 106h1v1h-1zM0 107h2v1h-2zM3 107h1v1h-1zM18 107h3v1h-3zM26 107h1v1h-1zM29 107h3v1h-3zM38 107h1v1h-1zM37 108h1v1h-1zM30 109h3v1h-3zM36 109h1v1h-1zM33 110h1v1h-1zM38 110h1v1h-1zM27 111h1v1h-1zM33 111h2v1h-2zM36 111h2v1h-2zM11 112h1v1h-1zM13 112h2v1h-2zM16 112h1v1h-1zM19 112h2v1h-2zM24 112h1v1h-1zM37 112h1v1h-1zM2 113h2v1h-2zM11 113h1v1h-1zM15 113h1v1h-1zM17 113h1v1h-1zM21 113h1v1h-1zM23 113h1v1h-1zM32 113h1v1h-1zM34 113h1v1h-1zM26 114h1v1h-1zM34 114h1v1h-1zM8 115h1v1h-1zM16 115h1v1h-1zM35 115h1v1h-1zM38 115h1v1h-1zM1 116h1v1h-1zM18 116h1v1h-1zM20 116h1v1h-1zM31 116h1v1h-1zM36 116h2v1h-2zM2 117h2v1h-2zM15 117h2v1h-2zM18 117h2v1h-2zM35 117h2v1h-2zM38 117h1v1h-1zM13 118h2v1h-2zM20 118h1v1h-1zM18 119h3v1h-3zM24 119h1v1h-1zM36 119h1v1h-1zM1 120h3v1h-3zM20 120h1v1h-1zM22 120h2v1h-2zM37 120h1v1h-1zM1 121h2v1h-2zM8 121h1v1h-1zM19 121h1v1h-1zM28 121h4v1h-4zM33 121h1v1h-1zM1 122h2v1h-2zM18 122h1v1h-1zM27 122h1v1h-1zM29 122h2v1h-2zM36 122h2v1h-2zM15 123h1v1h-1zM17 123h3v1h-3zM24 123h1v1h-1zM30 123h3v1h-3zM19 124h1v1h-1zM24 124h1v1h-1zM29 124h2v1h-2zM34 124h1v1h-1zM38 124h1v1h-1zM10 125h2v1h-2zM27 125h3v1h-3zM34 125h1v1h-1zM37 125h2v1h-2zM1 126h3v1h-3zM8 126h2v1h-2zM11 126h1v1h-1zM18 126h1v1h-1zM22 126h1v1h-1zM34 126h1v1h-1zM36 126h1v1h-1zM5 127h1v1h-1zM7 127h2v1h-2zM10 127h1v1h-1zM14 127h1v1h-1zM21 127h2v1h-2zM24 127h1v1h-1zM27 127h3v1h-3zM33 127h1v1h-1zM0 128h1v1h-1zM2 128h1v1h-1zM4 128h2v1h-2zM28 128h2v1h-2zM31 128h2v1h-2zM5 129h1v1h-1zM14 129h2v1h-2zM18 129h1v1h-1zM21 129h2v1h-2zM26 129h1v1h-1zM35 129h1v1h-1z"/>
<path fill="#f8be00" d="M2 1h3v1h-3zM17 1h1v1h-1zM1 2h1v1h-1zM3 2h1v1h-1zM15 2h1v1h-1zM24 2h1v1h-1zM6 3h3v1h-3zM8 5h1v1h-1zM29 5h1v1h-1zM6 7h1v1h-1zM8 7h1v1h-1zM33 7h1v1h-1zM36 7h1v1h-1zM7 8h1v1h-1zM13 8h3v1h-3zM31 8h2v1h-2zM35 8h1v1h-1zM9 9h1v1h-1zM6 10h5v1h-5zM30 10h1v1h-1zM34 10h1v1h-1zM37 10h1v1h-1zM11 11h1v1h-1zM14 11h1v1h-1zM22 11h1v1h-1zM7 12h1v1h-1zM22 12h1v1h-1zM26 12h1v1h-1zM32 12h1v1h-1zM30 13h1v1h-1zM10 14h1v1h-1zM17 14h1v1h-1zM13 16h1v1h-1zM27 16h1v1h-1zM30 16h1v1h-1zM32 16h1v1h-1zM6 17h1v1h-1zM8 17h1v1h-1zM18 17h1v1h-1zM22 17h1v1h-1zM28 17h1v1h-1zM2 18h1v1h-1zM4 18h1v1h-1zM6 18h2v1h-2zM17 18h2v1h-2zM10 19h1v1h-1zM32 19h1v1h-1zM11 21h2v1h-2zM37 21h1v1h-1zM3 22h1v1h-1zM11 22h3v1h-3zM32 22h1v1h-1zM3 23h1v1h-1zM5 23h1v1h-1zM11 23h1v1h-1zM13 23h1v1h-1zM32 23h1v1h-1zM38 23h1v1h-1zM27 24h1v1h-1zM19 25h1v1h-1zM21 25h1v1h-1zM23 25h1v1h-1zM31 25h1v1h-1zM37 25h1v1h-1zM1 26h1v1h-1zM28 26h2v1h-2zM34 26h1v1h-1zM13 27h1v1h-1zM2 28h1v1h-1zM12 28h1v1h-1zM14 28h1v1h-1zM9 29h1v1h-1zM4 30h1v1h-1zM10 30h1v1h-1zM2 31h3v1h-3zM8 32h1v1h-1zM11 32h1v1h-1zM14 32h2v1h-2zM35 32h1v1h-1zM38 32h1v1h-1zM1 34h1v1h-1zM3 34h3v1h-3zM3 35h1v1h-1zM5 35h1v1h-1zM13 35h1v1h-1zM20 36h1v1h-1zM29 36h1v1h-1zM36 36h2v1h-2zM24 38h1v1h-1zM32 39h1v1h-1zM36 39h2v1h-2zM3 40h1v1h-1zM5 40h4v1h-4zM16 40h1v1h-1zM35 40h1v1h-1zM37 40h1v1h-1zM5 41h1v1h-1zM7 41h1v1h-1zM13 41h1v1h-1zM29 41h1v1h-1zM0 42h2v1h-2zM4 42h1v1h-1zM6 42h1v1h-1zM12 42h1v1h-1zM28 42h1v1h-1zM34 42h1v1h-1zM36 42h1v1h-1zM0 43h1v1h-1zM2 43h1v1h-1zM4 43h2v1h-2zM7 43h1v1h-1zM14 43h1v1h-1zM17 43h1v1h-1zM0 44h1v1h-1zM2 44h2v1h-2zM25 44h1v1h-1zM1 45h2v1h-2zM24 45h1v1h-1zM0 46h1v1h-1zM6 46h1v1h-1zM24 46h2v1h-2zM5 47h4v1h-4zM10 47h1v1h-1zM12 47h1v1h-1zM29 47h1v1h-1zM0 49h1v1h-1zM2 49h1v1h-1zM13 49h2v1h-2zM24 49h1v1h-1zM26 49h1v1h-1zM38 49h1v1h-1zM9 50h1v1h-1zM12 50h2v1h-2zM15 50h3v1h-3zM20 50h1v1h-1zM3 51h2v1h-2zM9 51h1v1h-1zM11 51h1v1h-1zM16 51h1v1h-1zM18 51h1v1h-1zM4 52h1v1h-1zM7 52h1v1h-1zM1 53h1v1h-1zM34 53h2v1h-2zM18 54h1v1h-1zM20 54h2v1h-2zM1 55h2v1h-2zM6 55h1v1h-1zM17 55h1v1h-1zM21 55h1v1h-1zM34 55h1v1h-1zM4 56h1v1h-1zM18 56h2v1h-2zM28 56h1v1h-1zM37 56h1v1h-1zM2 57h1v1h-1zM34 58h2v1h-2zM3 59h1v1h-1zM6 59h1v1h-1zM35 59h2v1h-2zM5 60h1v1h-1zM16 60h1v1h-1zM19 60h2v1h-2zM15 61h2v1h-2zM19 61h1v1h-1zM36 61h3v1h-3zM9 62h1v1h-1zM35 62h1v1h-1zM37 62h1v1h-1zM7 63h1v1h-1zM35 63h4v1h-4zM0 64h3v1h-3zM8 64h1v1h-1zM22 64h2v1h-2zM33 64h1v1h-1zM37 64h1v1h-1zM1 65h1v1h-1zM15 65h2v1h-2zM23 65h1v1h-1zM0 66h1v1h-1zM3 66h1v1h-1zM6 66h1v1h-1zM20 66h1v1h-1zM35 66h2v1h-2zM6 67h1v1h-1zM8 67h1v1h-1zM33 67h1v1h-1zM21 68h1v1h-1zM2 69h1v1h-1zM6 69h3v1h-3zM22 69h1v1h-1zM19 70h1v1h-1zM30 70h1v1h-1zM32 70h4v1h-4zM37 70h2v1h-2zM8 71h2v1h-2zM19 71h1v1h-1zM21 71h1v1h-1zM34 71h1v1h-1zM3 72h1v1h-1zM5 72h2v1h-2zM8 72h1v1h-1zM17 72h2v1h-2zM20 72h1v1h-1zM29 72h1v1h-1zM32 72h1v1h-1zM38 72h1v1h-1zM29 73h1v1h-1zM4 74h1v1h-1zM19 74h1v1h-1zM33 74h1v1h-1zM5 75h2v1h-2zM8 75h1v1h-1zM20 75h1v1h-1zM4 76h1v1h-1zM21 76h1v1h-1zM25 76h1v1h-1zM27 76h1v1h-1zM0 77h1v1h-1zM2 77h1v1h-1zM12 77h1v1h-1zM26 77h1v1h-1zM28 77h1v1h-1zM6 78h3v1h-3zM14 78h1v1h-1zM20 78h1v1h-1zM22 78h1v1h-1zM30 78h1v1h-1zM34 78h1v1h-1zM5 79h1v1h-1zM9 79h1v1h-1zM20 79h1v1h-1zM34 79h1v1h-1zM32 80h2v1h-2zM36 80h2v1h-2zM0 81h6v1h-6zM32 81h1v1h-1zM35 81h1v1h-1zM32 82h1v1h-1zM9 83h2v1h-2zM33 83h1v1h-1zM35 83h1v1h-1zM14 84h1v1h-1zM36 84h2v1h-2zM20 85h1v1h-1zM6 86h3v1h-3zM17 86h1v1h-1zM30 86h2v1h-2zM33 86h1v1h-1zM37 86h1v1h-1zM14 87h2v1h-2zM27 87h1v1h-1zM30 87h1v1h-1zM34 87h1v1h-1zM14 88h1v1h-1zM21 88h1v1h-1zM25 88h1v1h-1zM31 88h1v1h-1zM33 88h2v1h-2zM38 88h1v1h-1zM7 89h1v1h-1zM28 89h2v1h-2zM11 90h1v1h-1zM24 90h1v1h-1zM27 90h1v1h-1zM35 90h1v1h-1zM21 91h1v1h-1zM27 91h3v1h-3zM33 91h1v1h-1zM8 92h1v1h-1zM17 92h1v1h-1zM26 92h1v1h-1zM28 92h1v1h-1zM32 92h2v1h-2zM35 92h2v1h-2zM14 93h1v1h-1zM16 93h1v1h-1zM18 93h3v1h-3zM22 93h1v1h-1zM27 93h1v1h-1zM33 93h1v1h-1zM23 94h1v1h-1zM25 94h1v1h-1zM34 94h1v1h-1zM36 94h3v1h-3zM34 95h1v1h-1zM16 96h1v1h-1zM18 96h2v1h-2zM21 96h1v1h-1zM23 96h2v1h-2zM27 96h2v1h-2zM30 96h2v1h-2zM33 96h1v1h-1zM27 97h3v1h-3zM34 97h1v1h-1zM37 97h1v1h-1zM15 99h1v1h-1zM26 99h1v1h-1zM28 99h3v1h-3zM29 100h2v1h-2zM33 100h1v1h-1zM4 101h2v1h-2zM8 101h3v1h-3zM12 101h1v1h-1zM19 101h2v1h-2zM28 101h1v1h-1zM15 102h2v1h-2zM20 102h1v1h-1zM33 102h1v1h-1zM35 102h1v1h-1zM15 103h1v1h-1zM24 103h2v1h-2zM1 104h3v1h-3zM10 104h1v1h-1zM15 104h1v1h-1zM18 104h1v1h-1zM27 104h1v1h-1zM29 104h1v1h-1zM15 105h2v1h-2zM19 105h1v1h-1zM30 105h1v1h-1zM36 105h2v1h-2zM15 106h2v1h-2zM27 106h1v1h-1zM34 106h1v1h-1zM36 106h1v1h-1zM21 107h2v1h-2zM28 107h1v1h-1zM27 108h1v1h-1zM33 108h1v1h-1zM36 108h1v1h-1zM38 108h1v1h-1zM21 109h2v1h-2zM37 109h2v1h-2zM8 110h1v1h-1zM10 110h1v1h-1zM13 110h1v1h-1zM37 110h1v1h-1zM28 111h1v1h-1zM15 112h1v1h-1zM17 112h2v1h-2zM25 112h2v1h-2zM33 112h2v1h-2zM16 113h1v1h-1zM22 113h1v1h-1zM25 113h2v1h-2zM4 114h2v1h-2zM19 114h2v1h-2zM25 114h1v1h-1zM36 114h2v1h-2zM15 115h1v1h-1zM24 115h3v1h-3zM34 115h1v1h-1zM36 115h1v1h-1zM16 116h1v1h-1zM27 116h4v1h-4zM32 116h1v1h-1zM38 116h1v1h-1zM27 117h2v1h-2zM33 117h1v1h-1zM18 118h1v1h-1zM30 118h1v1h-1zM21 119h1v1h-1zM32 119h1v1h-1zM34 119h1v1h-1zM0 120h1v1h-1zM15 120h2v1h-2zM21 120h1v1h-1zM38 120h1v1h-1zM15 121h3v1h-3zM32 121h1v1h-1zM28 122h1v1h-1zM33 123h1v1h-1zM35 123h2v1h-2zM38 123h1v1h-1zM10 124h1v1h-1zM22 124h2v1h-2zM26 124h1v1h-1zM28 124h1v1h-1zM36 124h1v1h-1zM5 126h2v1h-2zM17 126h1v1h-1zM19 126h3v1h-3zM33 126h1v1h-1zM9 127h1v1h-1zM16 127h1v1h-1zM18 127h2v1h-2zM30 127h3v1h-3zM34 127h1v1h-1zM6 128h1v1h-1zM8 128h1v1h-1zM10 128h1v1h-1zM12 128h4v1h-4zM6 129h2v1h-2zM13 129h1v1h-1zM19 129h2v1h-2zM23 129h1v1h-1zM27 129h3v1h-3zM31 129h2v1h-2zM34 129h1v1h-1z"/>
<path fill="#f6aa05" d="M0 1h2v1h-2zM5 1h1v1h-1zM2 2h1v1h-1zM5 2h1v1h-1zM6 5h2v1h-2zM8 6h1v1h-1zM7 7h1v1h-1zM11 8h2v1h-2zM16 8h1v1h-1zM34 8h1v1h-1zM6 9h1v1h-1zM8 9h1v1h-1zM11 10h1v1h-1zM31 10h1v1h-1zM35 10h2v1h-2zM4 11h1v1h-1zM12 11h1v1h-1zM31 11h1v1h-1zM6 12h1v1h-1zM21 12h1v1h-1zM23 12h3v1h-3zM30 12h2v1h-2zM18 14h1v1h-1zM24 16h1v1h-1zM29 16h1v1h-1zM31 16h1v1h-1zM20 17h1v1h-1zM29 17h1v1h-1zM0 18h2v1h-2zM5 18h1v1h-1zM16 18h1v1h-1zM30 18h1v1h-1zM13 19h1v1h-1zM30 19h2v1h-2zM33 20h2v1h-2zM36 20h3v1h-3zM26 23h1v1h-1zM29 23h1v1h-1zM35 23h3v1h-3zM25 24h1v1h-1zM28 24h2v1h-2zM7 25h3v1h-3zM20 25h1v1h-1zM35 26h2v1h-2zM13 28h1v1h-1zM5 29h1v1h-1zM7 29h1v1h-1zM0 30h1v1h-1zM2 30h1v1h-1zM0 31h2v1h-2zM5 31h1v1h-1zM37 31h1v1h-1zM7 32h1v1h-1zM12 32h2v1h-2zM0 34h1v1h-1zM2 34h1v1h-1zM9 34h1v1h-1zM12 34h1v1h-1zM1 35h1v1h-1zM4 35h1v1h-1zM0 36h3v1h-3zM27 36h1v1h-1zM14 37h1v1h-1zM4 38h4v1h-4zM26 38h1v1h-1zM25 39h1v1h-1zM34 39h2v1h-2zM4 40h1v1h-1zM36 40h1v1h-1zM38 40h1v1h-1zM28 41h1v1h-1zM2 42h1v1h-1zM1 43h1v1h-1zM3 43h1v1h-1zM15 43h1v1h-1zM1 44h1v1h-1zM24 44h1v1h-1zM19 45h1v1h-1zM25 45h1v1h-1zM1 46h1v1h-1zM10 46h1v1h-1zM12 46h2v1h-2zM15 46h1v1h-1zM15 47h1v1h-1zM28 47h1v1h-1zM13 48h1v1h-1zM20 48h1v1h-1zM5 50h1v1h-1zM14 50h1v1h-1zM1 51h2v1h-2zM7 51h1v1h-1zM12 51h1v1h-1zM15 51h1v1h-1zM0 52h3v1h-3zM5 52h1v1h-1zM13 52h1v1h-1zM0 53h1v1h-1zM2 53h2v1h-2zM0 54h2v1h-2zM25 54h1v1h-1zM0 55h1v1h-1zM5 56h1v1h-1zM17 56h1v1h-1zM0 57h1v1h-1zM1 58h1v1h-1zM37 58h1v1h-1zM0 59h3v1h-3zM5 59h1v1h-1zM37 59h1v1h-1zM36 60h1v1h-1zM20 61h1v1h-1zM0 62h2v1h-2zM36 62h1v1h-1zM38 62h1v1h-1zM1 63h1v1h-1zM22 65h1v1h-1zM1 66h2v1h-2zM4 66h2v1h-2zM34 66h1v1h-1zM5 67h1v1h-1zM7 67h1v1h-1zM31 67h1v1h-1zM4 68h1v1h-1zM13 68h1v1h-1zM17 68h1v1h-1zM22 68h1v1h-1zM17 70h1v1h-1zM36 70h1v1h-1zM7 71h1v1h-1zM37 72h1v1h-1zM0 74h1v1h-1zM25 74h2v1h-2zM4 75h1v1h-1zM7 75h1v1h-1zM21 75h1v1h-1zM28 76h2v1h-2zM1 77h1v1h-1zM27 77h1v1h-1zM9 78h2v1h-2zM23 78h1v1h-1zM6 79h2v1h-2zM10 79h1v1h-1zM12 79h1v1h-1zM14 79h1v1h-1zM17 79h3v1h-3zM26 79h1v1h-1zM12 80h2v1h-2zM34 80h1v1h-1zM13 81h1v1h-1zM19 81h3v1h-3zM34 83h1v1h-1zM9 84h1v1h-1zM31 84h2v1h-2zM38 84h1v1h-1zM11 85h1v1h-1zM30 85h1v1h-1zM9 86h1v1h-1zM19 86h1v1h-1zM28 86h1v1h-1zM34 86h1v1h-1zM28 87h2v1h-2zM35 87h1v1h-1zM11 88h2v1h-2zM15 88h1v1h-1zM17 88h2v1h-2zM24 88h1v1h-1zM35 88h1v1h-1zM5 89h1v1h-1zM18 89h1v1h-1zM20 89h1v1h-1zM24 89h1v1h-1zM26 89h1v1h-1zM30 89h3v1h-3zM9 90h1v1h-1zM12 90h1v1h-1zM18 90h1v1h-1zM25 90h2v1h-2zM34 90h1v1h-1zM7 91h1v1h-1zM25 91h2v1h-2zM11 92h1v1h-1zM24 92h2v1h-2zM34 92h1v1h-1zM38 92h1v1h-1zM6 93h1v1h-1zM8 93h2v1h-2zM15 93h1v1h-1zM17 93h1v1h-1zM25 93h2v1h-2zM29 93h1v1h-1zM31 93h1v1h-1zM13 95h1v1h-1zM25 95h5v1h-5zM17 96h1v1h-1zM25 96h2v1h-2zM34 96h1v1h-1zM31 97h1v1h-1zM33 97h1v1h-1zM35 97h2v1h-2zM38 97h1v1h-1zM10 98h1v1h-1zM20 99h1v1h-1zM20 100h3v1h-3zM32 100h1v1h-1zM34 100h2v1h-2zM37 100h2v1h-2zM2 101h2v1h-2zM11 101h1v1h-1zM17 101h1v1h-1zM17 102h1v1h-1zM19 102h1v1h-1zM29 102h1v1h-1zM32 102h1v1h-1zM29 103h1v1h-1zM0 104h1v1h-1zM6 104h1v1h-1zM8 104h2v1h-2zM11 104h1v1h-1zM19 104h2v1h-2zM28 104h1v1h-1zM38 104h1v1h-1zM32 105h1v1h-1zM34 105h1v1h-1zM18 106h1v1h-1zM20 106h1v1h-1zM38 106h1v1h-1zM23 107h1v1h-1zM35 108h1v1h-1zM9 110h1v1h-1zM11 110h2v1h-2zM14 110h1v1h-1zM35 110h1v1h-1zM29 111h4v1h-4zM38 111h1v1h-1zM32 112h1v1h-1zM36 112h1v1h-1zM27 113h5v1h-5zM3 114h1v1h-1zM27 114h2v1h-2zM32 114h2v1h-2zM35 114h1v1h-1zM38 114h1v1h-1zM27 115h1v1h-1zM33 115h1v1h-1zM37 115h1v1h-1zM6 116h1v1h-1zM8 116h1v1h-1zM34 117h1v1h-1zM6 118h1v1h-1zM15 118h2v1h-2zM29 118h1v1h-1zM32 118h1v1h-1zM31 119h1v1h-1zM33 120h1v1h-1zM18 121h1v1h-1zM5 122h1v1h-1zM9 122h1v1h-1zM14 122h1v1h-1zM34 122h2v1h-2zM34 123h1v1h-1zM37 123h1v1h-1zM27 124h1v1h-1zM0 125h2v1h-2zM36 125h1v1h-1zM4 126h1v1h-1zM7 126h1v1h-1zM32 126h1v1h-1zM17 127h1v1h-1zM7 128h1v1h-1zM9 128h1v1h-1zM11 128h1v1h-1zM24 129h2v1h-2zM30 129h1v1h-1zM33 129h1v1h-1z"/>
<path fill="#f5960a" d="M5 0h1v1h-1zM4 2h1v1h-1zM3 3h1v1h-1zM9 4h1v1h-1zM6 6h1v1h-1zM31 6h1v1h-1zM12 7h1v1h-1zM6 8h1v1h-1zM31 9h2v1h-2zM23 10h2v1h-2zM26 10h1v1h-1zM38 10h1v1h-1zM5 11h1v1h-1zM13 11h1v1h-1zM23 11h2v1h-2zM26 11h1v1h-1zM27 12h1v1h-1zM15 14h1v1h-1zM1 16h1v1h-1zM22 16h2v1h-2zM27 17h1v1h-1zM12 18h1v1h-1zM15 18h1v1h-1zM31 18h1v1h-1zM11 19h1v1h-1zM30 22h1v1h-1zM1 23h2v1h-2zM0 24h3v1h-3zM24 24h1v1h-1zM26 24h1v1h-1zM31 24h1v1h-1zM6 25h1v1h-1zM10 25h1v1h-1zM0 27h1v1h-1zM24 27h1v1h-1zM27 27h1v1h-1zM0 29h5v1h-5zM1 30h1v1h-1zM22 30h2v1h-2zM26 30h4v1h-4zM36 31h1v1h-1zM38 31h1v1h-1zM0 35h1v1h-1zM2 35h1v1h-1zM18 36h1v1h-1zM15 37h1v1h-1zM36 37h1v1h-1zM16 38h1v1h-1zM24 39h1v1h-1zM14 42h1v1h-1zM16 42h1v1h-1zM18 43h1v1h-1zM15 45h4v1h-4zM14 46h1v1h-1zM16 46h1v1h-1zM18 46h1v1h-1zM13 47h1v1h-1zM26 47h2v1h-2zM15 48h1v1h-1zM18 48h2v1h-2zM1 50h1v1h-1zM3 50h2v1h-2zM6 50h2v1h-2zM13 51h2v1h-2zM3 52h1v1h-1zM6 52h1v1h-1zM2 54h1v1h-1zM24 54h1v1h-1zM4 55h2v1h-2zM23 55h2v1h-2zM26 55h1v1h-1zM0 56h3v1h-3zM21 56h1v1h-1zM32 56h1v1h-1zM1 57h1v1h-1zM7 57h1v1h-1zM36 58h1v1h-1zM4 59h1v1h-1zM38 59h1v1h-1zM38 60h1v1h-1zM0 67h1v1h-1zM2 67h3v1h-3zM0 68h3v1h-3zM11 68h2v1h-2zM16 68h1v1h-1zM5 69h1v1h-1zM16 70h1v1h-1zM27 70h1v1h-1zM6 71h1v1h-1zM4 72h1v1h-1zM19 72h1v1h-1zM6 73h2v1h-2zM14 73h2v1h-2zM27 74h1v1h-1zM12 75h1v1h-1zM23 75h1v1h-1zM11 76h1v1h-1zM38 76h1v1h-1zM3 77h2v1h-2zM12 78h1v1h-1zM8 79h1v1h-1zM13 79h1v1h-1zM16 79h1v1h-1zM24 80h1v1h-1zM12 81h1v1h-1zM8 82h1v1h-1zM12 82h1v1h-1zM32 83h1v1h-1zM29 84h1v1h-1zM10 85h1v1h-1zM24 86h1v1h-1zM27 86h1v1h-1zM10 87h1v1h-1zM32 87h2v1h-2zM19 88h2v1h-2zM6 89h1v1h-1zM13 90h2v1h-2zM30 91h2v1h-2zM12 92h1v1h-1zM28 93h1v1h-1zM30 93h1v1h-1zM20 94h1v1h-1zM24 94h1v1h-1zM12 95h1v1h-1zM19 97h1v1h-1zM21 97h1v1h-1zM23 97h1v1h-1zM16 99h2v1h-2zM19 99h1v1h-1zM21 99h1v1h-1zM36 100h1v1h-1zM7 101h1v1h-1zM30 101h2v1h-2zM19 103h2v1h-2zM34 103h2v1h-2zM37 103h1v1h-1zM4 104h2v1h-2zM7 104h1v1h-1zM16 104h1v1h-1zM18 105h1v1h-1zM28 105h1v1h-1zM31 105h1v1h-1zM35 105h1v1h-1zM19 106h1v1h-1zM34 108h1v1h-1zM21 110h1v1h-1zM36 110h1v1h-1zM21 111h3v1h-3zM30 112h2v1h-2zM35 112h1v1h-1zM20 113h1v1h-1zM21 115h3v1h-3zM4 116h1v1h-1zM7 116h1v1h-1zM29 117h4v1h-4zM3 118h3v1h-3zM28 118h1v1h-1zM31 118h1v1h-1zM10 121h2v1h-2zM6 122h3v1h-3zM10 122h2v1h-2zM21 122h1v1h-1zM25 122h1v1h-1zM11 124h2v1h-2zM24 126h2v1h-2zM25 128h1v1h-1z"/>
<path fill="#f2820f" d="M4 0h1v1h-1zM4 3h1v1h-1zM6 4h3v1h-3zM13 5h2v1h-2zM7 9h1v1h-1zM13 9h1v1h-1zM30 9h1v1h-1zM22 10h1v1h-1zM25 10h1v1h-1zM3 11h1v1h-1zM25 11h1v1h-1zM11 13h2v1h-2zM14 14h1v1h-1zM13 15h2v1h-2zM0 16h1v1h-1zM30 17h1v1h-1zM3 18h1v1h-1zM29 20h1v1h-1zM35 20h1v1h-1zM1 21h1v1h-1zM2 22h1v1h-1zM4 22h1v1h-1zM26 22h1v1h-1zM31 22h1v1h-1zM0 23h1v1h-1zM30 23h2v1h-2zM4 25h2v1h-2zM2 27h1v1h-1zM25 27h2v1h-2zM28 27h3v1h-3zM16 28h2v1h-2zM19 28h1v1h-1zM8 29h1v1h-1zM16 30h1v1h-1zM19 30h1v1h-1zM21 30h1v1h-1zM11 31h1v1h-1zM14 31h1v1h-1zM9 33h2v1h-2zM13 37h1v1h-1zM37 37h1v1h-1zM3 38h1v1h-1zM15 38h1v1h-1zM27 38h2v1h-2zM14 41h1v1h-1zM15 42h1v1h-1zM17 42h1v1h-1zM17 46h1v1h-1zM25 47h1v1h-1zM10 48h1v1h-1zM14 48h1v1h-1zM16 48h1v1h-1zM10 49h1v1h-1zM2 50h1v1h-1zM0 51h1v1h-1zM19 52h1v1h-1zM23 54h1v1h-1zM26 54h1v1h-1zM25 55h1v1h-1zM27 55h2v1h-2zM22 56h2v1h-2zM31 56h1v1h-1zM34 56h1v1h-1zM4 57h1v1h-1zM6 57h1v1h-1zM37 60h1v1h-1zM6 61h1v1h-1zM30 63h3v1h-3zM1 67h1v1h-1zM4 69h1v1h-1zM30 71h1v1h-1zM8 73h1v1h-1zM13 73h1v1h-1zM16 73h3v1h-3zM9 74h1v1h-1zM15 74h2v1h-2zM9 75h1v1h-1zM22 75h1v1h-1zM10 76h1v1h-1zM8 77h1v1h-1zM13 78h1v1h-1zM21 78h1v1h-1zM24 78h1v1h-1zM27 78h1v1h-1zM10 80h2v1h-2zM11 81h1v1h-1zM23 81h1v1h-1zM9 82h1v1h-1zM11 82h1v1h-1zM29 82h1v1h-1zM30 84h1v1h-1zM12 85h1v1h-1zM25 85h1v1h-1zM27 85h3v1h-3zM25 86h1v1h-1zM29 86h1v1h-1zM11 87h3v1h-3zM31 87h1v1h-1zM10 88h1v1h-1zM19 89h1v1h-1zM25 89h1v1h-1zM38 89h1v1h-1zM28 90h2v1h-2zM17 91h1v1h-1zM20 91h1v1h-1zM13 92h1v1h-1zM7 93h1v1h-1zM13 93h1v1h-1zM32 93h1v1h-1zM18 94h1v1h-1zM11 95h1v1h-1zM36 95h1v1h-1zM38 95h1v1h-1zM17 97h2v1h-2zM20 97h1v1h-1zM22 97h1v1h-1zM11 98h1v1h-1zM18 99h1v1h-1zM10 100h1v1h-1zM36 101h1v1h-1zM36 103h1v1h-1zM17 105h1v1h-1zM21 105h1v1h-1zM23 105h1v1h-1zM27 105h1v1h-1zM33 109h1v1h-1zM35 109h1v1h-1zM19 110h2v1h-2zM22 110h2v1h-2zM34 110h1v1h-1zM19 111h2v1h-2zM19 113h1v1h-1zM29 114h3v1h-3zM20 115h1v1h-1zM28 115h5v1h-5zM5 116h1v1h-1zM35 116h1v1h-1zM29 120h2v1h-2zM32 120h1v1h-1zM35 121h4v1h-4zM23 122h2v1h-2zM23 126h1v1h-1zM26 126h1v1h-1zM2 127h1v1h-1zM24 128h1v1h-1z"/>
<path fill="#ee6e14" d="M5 3h1v1h-1zM2 4h2v1h-2zM30 5h1v1h-1zM11 7h1v1h-1zM12 9h1v1h-1zM21 10h1v1h-1zM14 12h1v1h-1zM12 15h1v1h-1zM13 17h1v1h-1zM31 17h1v1h-1zM12 19h1v1h-1zM28 21h2v1h-2zM0 22h2v1h-2zM30 24h1v1h-1zM2 25h2v1h-2zM1 27h1v1h-1zM18 28h1v1h-1zM15 30h1v1h-1zM18 30h1v1h-1zM24 30h2v1h-2zM12 31h2v1h-2zM15 31h1v1h-1zM7 33h2v1h-2zM11 33h1v1h-1zM17 36h1v1h-1zM34 37h2v1h-2zM2 38h1v1h-1zM18 40h1v1h-1zM18 42h1v1h-1zM14 45h1v1h-1zM14 47h1v1h-1zM9 48h1v1h-1zM17 48h1v1h-1zM5 49h5v1h-5zM0 50h1v1h-1zM20 52h1v1h-1zM27 54h1v1h-1zM22 55h1v1h-1zM20 56h1v1h-1zM24 56h1v1h-1zM33 56h1v1h-1zM35 56h1v1h-1zM5 57h1v1h-1zM37 57h2v1h-2zM3 61h1v1h-1zM34 63h1v1h-1zM9 68h2v1h-2zM18 68h3v1h-3zM1 70h3v1h-3zM28 70h1v1h-1zM3 71h2v1h-2zM29 71h1v1h-1zM0 72h1v1h-1zM4 73h1v1h-1zM19 73h1v1h-1zM8 74h1v1h-1zM23 74h2v1h-2zM10 75h2v1h-2zM13 75h1v1h-1zM30 76h2v1h-2zM34 76h1v1h-1zM5 77h3v1h-3zM26 78h1v1h-1zM30 79h1v1h-1zM10 81h1v1h-1zM10 82h1v1h-1zM24 82h1v1h-1zM12 84h1v1h-1zM27 84h1v1h-1zM24 85h1v1h-1zM26 85h1v1h-1zM26 86h1v1h-1zM31 90h1v1h-1zM13 91h1v1h-1zM16 91h1v1h-1zM18 91h2v1h-2zM19 94h1v1h-1zM37 95h1v1h-1zM25 97h1v1h-1zM11 100h2v1h-2zM6 101h1v1h-1zM29 101h1v1h-1zM32 101h4v1h-4zM38 101h1v1h-1zM22 102h1v1h-1zM32 103h1v1h-1zM38 103h1v1h-1zM22 105h1v1h-1zM29 105h1v1h-1zM34 109h1v1h-1zM18 111h1v1h-1zM18 113h1v1h-1zM36 113h2v1h-2zM17 115h2v1h-2zM28 120h1v1h-1zM31 120h1v1h-1zM12 121h1v1h-1zM34 121h1v1h-1zM15 122h1v1h-1zM20 122h1v1h-1zM22 122h1v1h-1zM35 127h1v1h-1z"/>
<path fill="#e95816" d="M2 0h2v1h-2zM1 4h1v1h-1zM17 4h1v1h-1zM1 5h2v1h-2zM5 5h1v1h-1zM0 6h1v1h-1zM5 7h1v1h-1zM13 7h1v1h-1zM11 9h1v1h-1zM13 12h1v1h-1zM1 13h1v1h-1zM13 13h1v1h-1zM1 14h1v1h-1zM4 14h1v1h-1zM11 14h2v1h-2zM0 15h1v1h-1zM3 15h1v1h-1zM5 15h1v1h-1zM11 15h1v1h-1zM5 17h1v1h-1zM11 17h2v1h-2zM14 18h1v1h-1zM5 19h1v1h-1zM32 20h1v1h-1zM0 21h1v1h-1zM27 21h1v1h-1zM5 22h1v1h-1zM1 25h1v1h-1zM17 30h1v1h-1zM20 30h1v1h-1zM6 33h1v1h-1zM11 49h1v1h-1zM2 61h1v1h-1zM4 61h2v1h-2zM33 63h1v1h-1zM7 68h1v1h-1zM0 70h1v1h-1zM29 70h1v1h-1zM1 71h1v1h-1zM1 72h2v1h-2zM0 73h4v1h-4zM33 76h1v1h-1zM25 78h1v1h-1zM27 79h1v1h-1zM26 80h1v1h-1zM24 81h1v1h-1zM26 81h1v1h-1zM29 81h2v1h-2zM25 82h1v1h-1zM30 82h1v1h-1zM24 83h1v1h-1zM28 83h1v1h-1zM30 83h1v1h-1zM37 83h2v1h-2zM10 84h2v1h-2zM13 84h1v1h-1zM26 84h1v1h-1zM28 84h1v1h-1zM13 88h1v1h-1zM37 89h1v1h-1zM14 91h2v1h-2zM14 92h2v1h-2zM23 93h1v1h-1zM27 94h2v1h-2zM10 96h3v1h-3zM24 97h1v1h-1zM26 97h1v1h-1zM11 99h2v1h-2zM21 101h3v1h-3zM25 101h2v1h-2zM37 101h1v1h-1zM23 102h2v1h-2zM36 102h1v1h-1zM38 102h1v1h-1zM21 103h1v1h-1zM21 104h2v1h-2zM26 104h1v1h-1zM35 113h1v1h-1zM38 113h1v1h-1zM19 115h1v1h-1zM33 116h2v1h-2zM0 127h2v1h-2zM3 127h2v1h-2zM36 127h1v1h-1zM20 128h4v1h-4z"/>
<path fill="#e44119" d="M1 3h2v1h-2zM0 4h1v1h-1zM4 5h1v1h-1zM2 6h4v1h-4zM0 7h1v1h-1zM2 7h3v1h-3zM3 8h1v1h-1zM1 9h1v1h-1zM2 10h1v1h-1zM4 10h2v1h-2zM11 12h1v1h-1zM0 13h1v1h-1zM2 13h1v1h-1zM4 13h2v1h-2zM2 14h2v1h-2zM5 14h1v1h-1zM13 14h1v1h-1zM1 15h1v1h-1zM4 15h1v1h-1zM4 16h1v1h-1zM0 17h3v1h-3zM4 17h1v1h-1zM13 18h1v1h-1zM31 20h1v1h-1zM30 21h1v1h-1zM0 25h1v1h-1zM1 47h2v1h-2zM4 58h1v1h-1zM0 60h1v1h-1zM3 60h2v1h-2zM0 61h2v1h-2zM36 69h3v1h-3zM0 71h1v1h-1zM5 71h1v1h-1zM5 73h1v1h-1zM20 74h1v1h-1zM32 76h1v1h-1zM28 79h2v1h-2zM27 81h2v1h-2zM26 82h1v1h-1zM31 82h1v1h-1zM27 83h1v1h-1zM10 86h1v1h-1zM36 89h1v1h-1zM16 92h1v1h-1zM10 95h1v1h-1zM10 99h1v1h-1zM13 99h1v1h-1zM24 101h1v1h-1zM21 102h1v1h-1zM25 102h2v1h-2zM37 102h1v1h-1zM22 103h1v1h-1zM26 103h1v1h-1zM33 103h1v1h-1zM23 104h3v1h-3zM26 105h1v1h-1zM33 105h1v1h-1z"/>
<path fill="#db2d1c" d="M0 3h1v1h-1zM16 4h1v1h-1zM0 5h1v1h-1zM3 5h1v1h-1zM1 6h1v1h-1zM0 8h3v1h-3zM4 8h1v1h-1zM0 9h1v1h-1zM2 9h4v1h-4zM0 10h2v1h-2zM3 10h1v1h-1zM12 12h1v1h-1zM3 13h1v1h-1zM0 14h1v1h-1zM2 16h2v1h-2zM5 16h1v1h-1zM3 17h1v1h-1zM1 19h1v1h-1zM3 19h2v1h-2zM30 20h1v1h-1zM26 21h1v1h-1zM17 40h1v1h-1zM0 47h1v1h-1zM2 58h2v1h-2zM1 60h2v1h-2zM6 68h1v1h-1zM8 68h1v1h-1zM2 71h1v1h-1zM31 79h1v1h-1zM31 81h1v1h-1zM28 82h1v1h-1zM25 83h2v1h-2zM29 83h1v1h-1zM31 83h1v1h-1zM24 84h1v1h-1zM34 89h2v1h-2zM30 90h1v1h-1zM32 90h2v1h-2zM10 93h2v1h-2zM24 93h1v1h-1zM26 94h1v1h-1zM26 128h2v1h-2z"/>
<path fill="#d2191e" d="M0 0h2v1h-2zM4 4h2v1h-2zM1 7h1v1h-1zM5 8h1v1h-1zM0 11h3v1h-3zM0 12h6v1h-6zM2 15h1v1h-1zM0 19h1v1h-1zM2 19h1v1h-1zM5 68h1v1h-1zM25 80h1v1h-1zM27 80h5v1h-5zM25 81h1v1h-1zM27 82h1v1h-1zM25 84h1v1h-1zM33 89h1v1h-1zM12 93h1v1h-1zM24 105h2v1h-2z"/>
</g></g></g>
<rect x="279.6" y="46.5" width="26.6" height="323" fill="#dad6d6"/>
<rect x="280.4" y="46.5" width="7.6" height="5.1" fill="#f0eeee"/><rect x="280.4" y="54.1" width="4.0" height="1.7" fill="#f0eeee"/><rect x="280.4" y="60.6" width="4.9" height="1.7" fill="#f0eeee"/><rect x="280.4" y="64.0" width="9.0" height="4.4" fill="#f0eeee"/><rect x="280.4" y="69.1" width="5.0" height="5.9" fill="#f0eeee"/><rect x="280.4" y="80.2" width="7.9" height="3.3" fill="#f0eeee"/><rect x="280.4" y="87.7" width="6.7" height="1.8" fill="#f0eeee"/><rect x="280.4" y="95.7" width="3.9" height="5.5" fill="#f0eeee"/><rect x="280.4" y="99.2" width="6.8" height="5.4" fill="#f0eeee"/><rect x="280.4" y="104.3" width="8.3" height="5.4" fill="#f0eeee"/><rect x="280.4" y="107.4" width="7.0" height="1.5" fill="#f0eeee"/><rect x="280.4" y="115.0" width="5.1" height="2.4" fill="#f0eeee"/><rect x="280.4" y="120.9" width="7.6" height="2.9" fill="#f0eeee"/><rect x="280.4" y="125.2" width="6.9" height="3.5" fill="#f0eeee"/><rect x="280.4" y="135.4" width="3.6" height="2.9" fill="#f0eeee"/><rect x="280.4" y="145.6" width="5.5" height="3.8" fill="#f0eeee"/><rect x="280.4" y="150.8" width="2.1" height="5.7" fill="#f0eeee"/><rect x="280.4" y="154.5" width="7.9" height="3.2" fill="#f0eeee"/><rect x="280.4" y="166.1" width="4.8" height="5.7" fill="#f0eeee"/><rect x="280.4" y="174.1" width="3.7" height="4.8" fill="#f0eeee"/><rect x="280.4" y="183.2" width="6.8" height="3.6" fill="#f0eeee"/><rect x="280.4" y="188.2" width="6.5" height="2.0" fill="#f0eeee"/><rect x="280.4" y="197.4" width="6.4" height="3.2" fill="#f0eeee"/><rect x="280.4" y="207.6" width="3.4" height="3.3" fill="#f0eeee"/><rect x="280.4" y="217.8" width="4.7" height="4.7" fill="#f0eeee"/><rect x="280.4" y="226.3" width="8.6" height="6.0" fill="#f0eeee"/><rect x="280.4" y="235.8" width="7.7" height="2.2" fill="#f0eeee"/><rect x="280.4" y="245.2" width="7.9" height="3.3" fill="#f0eeee"/><rect x="280.4" y="253.2" width="5.4" height="5.8" fill="#f0eeee"/><rect x="280.4" y="259.0" width="4.8" height="1.5" fill="#f0eeee"/><rect x="280.4" y="265.8" width="6.4" height="5.7" fill="#f0eeee"/><rect x="280.4" y="277.1" width="4.3" height="5.9" fill="#f0eeee"/><rect x="280.4" y="281.8" width="7.8" height="2.2" fill="#f0eeee"/><rect x="280.4" y="288.5" width="2.5" height="5.4" fill="#f0eeee"/><rect x="280.4" y="298.9" width="3.0" height="3.9" fill="#f0eeee"/><rect x="280.4" y="304.2" width="5.4" height="4.0" fill="#f0eeee"/><rect x="280.4" y="308.2" width="8.1" height="2.8" fill="#f0eeee"/><rect x="280.4" y="315.2" width="2.4" height="1.5" fill="#f0eeee"/><rect x="280.4" y="320.0" width="4.4" height="5.7" fill="#f0eeee"/><rect x="280.4" y="331.0" width="5.4" height="3.5" fill="#f0eeee"/><rect x="280.4" y="340.0" width="8.0" height="3.0" fill="#f0eeee"/><rect x="280.4" y="350.1" width="4.8" height="4.2" fill="#f0eeee"/><rect x="280.4" y="359.8" width="5.5" height="4.6" fill="#f0eeee"/>
<path d="M283 47.74h23M283 50.23h23M283 52.71h23M283 55.20h23M283 57.68h23M283 60.17h23M283 62.65h23M283 65.13h23M283 67.62h23M283 70.10h23M283 72.59h23M283 75.07h23M283 77.56h23M283 80.04h23M283 82.53h23M283 85.01h23M283 87.50h23M283 89.98h23M283 92.47h23M283 94.95h23M283 97.43h23M283 99.92h23M283 102.40h23M283 104.89h23M283 107.37h23M283 109.86h23M283 112.34h23M283 114.83h23M283 117.31h23M283 119.80h23M283 122.28h23M283 124.77h23M283 127.25h23M283 129.73h23M283 132.22h23M283 134.70h23M283 137.19h23M283 139.67h23M283 142.16h23M283 144.64h23M283 147.13h23M283 149.61h23M283 152.10h23M283 154.58h23M283 157.07h23M283 159.55h23M283 162.03h23M283 164.52h23M283 167.00h23M283 169.49h23M283 171.97h23M283 174.46h23M283 176.94h23M283 179.43h23M283 181.91h23M283 184.40h23M283 186.88h23M283 189.37h23M283 191.85h23M283 194.33h23M283 196.82h23M283 199.30h23M283 201.79h23M283 204.27h23M283 206.76h23M283 209.24h23M283 211.73h23M283 214.21h23M283 216.70h23M283 219.18h23M283 221.67h23M283 224.15h23M283 226.63h23M283 229.12h23M283 231.60h23M283 234.09h23M283 236.57h23M283 239.06h23M283 241.54h23M283 244.03h23M283 246.51h23M283 249.00h23M283 251.48h23M283 253.97h23M283 256.45h23M283 258.93h23M283 261.42h23M283 263.90h23M283 266.39h23M283 268.87h23M283 271.36h23M283 273.84h23M283 276.33h23M283 278.81h23M283 281.30h23M283 283.78h23M283 286.27h23M283 288.75h23M283 291.23h23M283 293.72h23M283 296.20h23M283 298.69h23M283 301.17h23M283 303.66h23M283 306.14h23M283 308.63h23M283 311.11h23M283 313.60h23M283 316.08h23M283 318.57h23M283 321.05h23M283 323.53h23M283 326.02h23M283 328.50h23M283 330.99h23M283 333.47h23M283 335.96h23M283 338.44h23M283 340.93h23M283 343.41h23M283 345.90h23M283 348.38h23M283 350.87h23M283 353.35h23M283 355.83h23M283 358.32h23M283 360.80h23M283 363.29h23M283 365.77h23M283 368.26h23" stroke="#c9c5c5" stroke-width="0.5" fill="none"/>
<path d="M280.5 48.0v3.4M280.5 48.0h1.4M282.0 53.3v3.5M282.0 53.3h1.7M287.1 60.9v6.8M287.1 60.9h2.1M285.6 67.4v11.6M285.6 67.4h3.8M285.8 73.6v6.8M285.8 73.6h3.5M287.0 79.0v8.6M287.0 79.0h3.2M282.9 86.2v8.4M282.9 86.2h1.2M284.5 90.5v8.2M284.5 90.5h3.5M284.7 94.6v8.4M284.7 94.6h2.8M284.4 103.0v9.2M284.4 103.0h2.5M282.4 110.7v9.1M282.4 110.7h3.0M287.9 115.8v11.2M287.9 115.8h3.9M283.8 121.6v5.9M283.8 121.6h1.1M282.4 125.7v12.5M282.4 125.7h1.5M282.4 133.8v3.7M282.4 133.8h1.6M284.3 141.9v9.0M284.3 141.9h2.4M284.2 147.5v13.1M284.2 147.5h1.6M282.4 155.9v5.1M282.4 155.9h2.0M287.5 160.5v7.0M287.5 160.5h1.5M281.0 164.5v5.4M281.0 164.5h2.3M287.9 172.1v12.8M287.9 172.1h1.7M287.4 179.8v4.1M287.4 179.8h3.6M286.4 186.2v6.5M286.4 186.2h2.9M281.3 193.2v11.4M281.3 193.2h3.5M283.4 200.1v13.4M283.4 200.1h2.1M283.6 209.4v7.1M283.6 209.4h2.1M282.6 213.7v5.5M282.6 213.7h1.2M283.8 221.0v3.3M283.8 221.0h1.5M281.5 230.5v7.1M281.5 230.5h3.9M283.6 235.2v11.8M283.6 235.2h1.1M287.5 239.6v10.5M287.5 239.6h1.8M282.4 246.5v12.8M282.4 246.5h3.8M284.4 250.9v5.0M284.4 250.9h2.2M285.8 259.3v5.1M285.8 259.3h2.0M283.4 265.9v10.5M283.4 265.9h3.4M283.8 271.9v3.7M283.8 271.9h2.1M284.3 281.6v9.1M284.3 281.6h2.8M286.5 289.0v5.9M286.5 289.0h1.9M284.2 298.3v13.6M284.2 298.3h1.4M284.0 307.0v8.2M284.0 307.0h3.6M284.4 311.8v5.7M284.4 311.8h2.0M283.5 320.7v11.6M283.5 320.7h1.0M287.7 330.7v10.5M287.7 330.7h1.6M281.9 338.6v7.1M281.9 338.6h1.1M281.7 343.0v5.0M281.7 343.0h3.5M286.7 348.5v3.1M286.7 348.5h1.2M287.5 352.9v12.0M287.5 352.9h1.0M282.2 362.5v5.9M282.2 362.5h2.8" stroke="#a29e9e" stroke-width="0.6" fill="none"/>
<path d="M279.9 46.5V369.5" stroke="#a8a4a4" stroke-width="0.9" fill="none"/>
<path d="M5.74 46.00V24.93H11.22V46.00" stroke="#b0587a" stroke-width="1.00" fill="none"/><path d="M27.66 46.00V25.62H33.14V46.00" stroke="#b0587a" stroke-width="1.00" fill="none"/><path d="M38.62 46.00V24.66H44.10V46.00" stroke="#b0587a" stroke-width="1.00" fill="none"/><path d="M60.53 46.00V25.91H66.01V46.00" stroke="#4f8a74" stroke-width="1.00" fill="none"/><path d="M71.49 46.00V26.15H76.97V46.00" stroke="#4f8a74" stroke-width="1.00" fill="none"/><path d="M93.41 46.00V26.37H98.89V46.00" stroke="#4f8a74" stroke-width="1.00" fill="none"/><path d="M109.85 46.00V24.11H115.33V46.00" stroke="#4f8a74" stroke-width="1.00" fill="none"/><path d="M126.29 46.00V25.20H131.77V46.00" stroke="#4f8a74" stroke-width="1.00" fill="none"/><path d="M148.21 46.00V26.81H153.69V46.00" stroke="#4f8a74" stroke-width="1.00" fill="none"/><path d="M159.17 46.00V26.57H164.64V46.00" stroke="#4f8a74" stroke-width="1.00" fill="none"/><path d="M170.12 46.00V24.42H175.60V46.00" stroke="#4f8a74" stroke-width="1.00" fill="none"/><path d="M192.04 46.00V26.31H197.52V46.00" stroke="#4f8a74" stroke-width="1.00" fill="none"/><path d="M203.00 46.00V26.70H208.48V46.00" stroke="#4f8a74" stroke-width="1.00" fill="none"/><path d="M8.48 24.93V22.15" stroke="#b0587a" stroke-width="1.00" fill="none"/><path d="M16.70 46.00V22.15" stroke="#b0587a" stroke-width="1.00" fill="none"/><path d="M8.48 22.15H16.70" stroke="#b0587a" stroke-width="1.00" fill="none"/><path d="M12.59 22.15V20.60" stroke="#b0587a" stroke-width="1.00" fill="none"/><path d="M22.18 46.00V23.13" stroke="#b0587a" stroke-width="1.00" fill="none"/><path d="M30.40 25.62V23.13" stroke="#b0587a" stroke-width="1.00" fill="none"/><path d="M41.36 24.66V23.13" stroke="#b0587a" stroke-width="1.00" fill="none"/><path d="M22.18 23.13H41.36" stroke="#b0587a" stroke-width="1.00" fill="none"/><path d="M31.77 23.13V20.60" stroke="#b0587a" stroke-width="1.00" fill="none"/><path d="M49.58 46.00V22.89" stroke="#b0587a" stroke-width="1.00" fill="none"/><path d="M55.06 46.00V22.89" stroke="#b0587a" stroke-width="1.00" fill="none"/><path d="M63.27 25.91V22.89" stroke="#4f8a74" stroke-width="1.00" fill="none"/><path d="M49.58 22.89H63.27" stroke="#b0587a" stroke-width="1.00" fill="none"/><path d="M56.42 22.89V20.60" stroke="#b0587a" stroke-width="1.00" fill="none"/><path d="M74.23 26.15V23.11" stroke="#4f8a74" stroke-width="1.00" fill="none"/><path d="M82.45 46.00V23.11" stroke="#4f8a74" stroke-width="1.00" fill="none"/><path d="M87.93 46.00V23.11" stroke="#4f8a74" stroke-width="1.00" fill="none"/><path d="M74.23 23.11H87.93" stroke="#4f8a74" stroke-width="1.00" fill="none"/><path d="M81.08 23.11V20.60" stroke="#4f8a74" stroke-width="1.00" fill="none"/><path d="M96.15 26.37V23.01" stroke="#4f8a74" stroke-width="1.00" fill="none"/><path d="M104.37 46.00V23.01" stroke="#4f8a74" stroke-width="1.00" fill="none"/><path d="M112.59 24.11V23.01" stroke="#4f8a74" stroke-width="1.00" fill="none"/><path d="M96.15 23.01H112.59" stroke="#4f8a74" stroke-width="1.00" fill="none"/><path d="M104.37 23.01V20.60" stroke="#4f8a74" stroke-width="1.00" fill="none"/><path d="M120.81 46.00V23.21" stroke="#4f8a74" stroke-width="1.00" fill="none"/><path d="M129.03 25.20V23.21" stroke="#4f8a74" stroke-width="1.00" fill="none"/><path d="M120.81 23.21H129.03" stroke="#4f8a74" stroke-width="1.00" fill="none"/><path d="M124.92 23.21V20.60" stroke="#4f8a74" stroke-width="1.00" fill="none"/><path d="M137.25 46.00V23.16" stroke="#4f8a74" stroke-width="1.00" fill="none"/><path d="M142.73 46.00V23.16" stroke="#4f8a74" stroke-width="1.00" fill="none"/><path d="M137.25 23.16H142.73" stroke="#4f8a74" stroke-width="1.00" fill="none"/><path d="M139.99 23.16V20.60" stroke="#4f8a74" stroke-width="1.00" fill="none"/><path d="M150.95 26.81V22.43" stroke="#4f8a74" stroke-width="1.00" fill="none"/><path d="M161.91 26.57V22.43" stroke="#4f8a74" stroke-width="1.00" fill="none"/><path d="M150.95 22.43H161.91" stroke="#4f8a74" stroke-width="1.00" fill="none"/><path d="M156.43 22.43V20.60" stroke="#4f8a74" stroke-width="1.00" fill="none"/><path d="M172.86 24.42V22.03" stroke="#4f8a74" stroke-width="1.00" fill="none"/><path d="M181.08 46.00V22.03" stroke="#4f8a74" stroke-width="1.00" fill="none"/><path d="M186.56 46.00V22.03" stroke="#4f8a74" stroke-width="1.00" fill="none"/><path d="M172.86 22.03H186.56" stroke="#4f8a74" stroke-width="1.00" fill="none"/><path d="M179.71 22.03V20.60" stroke="#4f8a74" stroke-width="1.00" fill="none"/><path d="M194.78 26.31V22.92" stroke="#4f8a74" stroke-width="1.00" fill="none"/><path d="M205.74 26.70V22.92" stroke="#4f8a74" stroke-width="1.00" fill="none"/><path d="M194.78 22.92H205.74" stroke="#4f8a74" stroke-width="1.00" fill="none"/><path d="M200.26 22.92V20.60" stroke="#4f8a74" stroke-width="1.00" fill="none"/><path d="M213.96 46.00V23.19" stroke="#4f8a74" stroke-width="1.00" fill="none"/><path d="M213.96 23.19V20.60" stroke="#4f8a74" stroke-width="1.00" fill="none"/>
<path d="M5.7 20.6H215" stroke="#55806e" stroke-width="1.0" fill="none"/>
<path d="M20 20.5H62" stroke="#333" stroke-width="1" fill="none"/>
<path d="M110.2 20.6V17" stroke="#555" stroke-width="0.8" fill="none"/>
<path d="M308.93 46.5V31H314.38V46.5M311.65 31V27H319.83V46.5M325.28 46.5V29H330.73V46.5M314.38 27V25.5H328.01V29M347.08 46.5V24.5H352.54V46.5M336.18 46.5V23.5H341.63V46.5M319.83 25.5V23H338.91V23.5M328.01 23V21.5H349.81V24.5M357.99 46.5V21.5H349.81" stroke="#e06a7a" stroke-width="0.8" fill="none"/>
<path d="M368.89 46.50V26.61H374.34V46.50" stroke="#6f9a88" stroke-width="0.90" fill="none"/><path d="M407.05 46.50V26.03H412.50V46.50" stroke="#6f9a88" stroke-width="0.90" fill="none"/><path d="M417.95 46.50V24.73H423.40V46.50" stroke="#6f9a88" stroke-width="0.90" fill="none"/><path d="M428.85 46.50V27.41H434.31V46.50" stroke="#6f9a88" stroke-width="0.90" fill="none"/><path d="M450.66 46.50V26.97H456.11V46.50" stroke="#6f9a88" stroke-width="0.90" fill="none"/><path d="M461.56 46.50V27.09H467.01V46.50" stroke="#6f9a88" stroke-width="0.90" fill="none"/><path d="M472.46 46.50V27.24H477.92V46.50" stroke="#6f9a88" stroke-width="0.90" fill="none"/><path d="M363.44 46.50V22.34" stroke="#6f9a88" stroke-width="0.90" fill="none"/><path d="M371.62 26.61V22.34" stroke="#6f9a88" stroke-width="0.90" fill="none"/><path d="M363.44 22.34H371.62" stroke="#6f9a88" stroke-width="0.90" fill="none"/><path d="M367.53 22.34V21.00" stroke="#6f9a88" stroke-width="0.90" fill="none"/><path d="M379.79 46.50V22.79" stroke="#6f9a88" stroke-width="0.90" fill="none"/><path d="M385.24 46.50V22.79" stroke="#6f9a88" stroke-width="0.90" fill="none"/><path d="M390.69 46.50V22.79" stroke="#6f9a88" stroke-width="0.90" fill="none"/><path d="M379.79 22.79H390.69" stroke="#6f9a88" stroke-width="0.90" fill="none"/><path d="M385.24 22.79V21.00" stroke="#6f9a88" stroke-width="0.90" fill="none"/><path d="M396.15 46.50V22.96" stroke="#6f9a88" stroke-width="0.90" fill="none"/><path d="M401.60 46.50V22.96" stroke="#6f9a88" stroke-width="0.90" fill="none"/><path d="M409.77 26.03V22.96" stroke="#6f9a88" stroke-width="0.90" fill="none"/><path d="M396.15 22.96H409.77" stroke="#6f9a88" stroke-width="0.90" fill="none"/><path d="M402.96 22.96V21.00" stroke="#6f9a88" stroke-width="0.90" fill="none"/><path d="M420.68 24.73V23.47" stroke="#6f9a88" stroke-width="0.90" fill="none"/><path d="M431.58 27.41V23.47" stroke="#6f9a88" stroke-width="0.90" fill="none"/><path d="M439.76 46.50V23.47" stroke="#6f9a88" stroke-width="0.90" fill="none"/><path d="M420.68 23.47H439.76" stroke="#6f9a88" stroke-width="0.90" fill="none"/><path d="M430.22 23.47V21.00" stroke="#6f9a88" stroke-width="0.90" fill="none"/><path d="M445.21 46.50V22.30" stroke="#6f9a88" stroke-width="0.90" fill="none"/><path d="M453.38 26.97V22.30" stroke="#6f9a88" stroke-width="0.90" fill="none"/><path d="M464.29 27.09V22.30" stroke="#6f9a88" stroke-width="0.90" fill="none"/><path d="M445.21 22.30H464.29" stroke="#6f9a88" stroke-width="0.90" fill="none"/><path d="M454.75 22.30V21.00" stroke="#6f9a88" stroke-width="0.90" fill="none"/><path d="M475.19 27.24V22.40" stroke="#6f9a88" stroke-width="0.90" fill="none"/><path d="M483.37 46.50V22.40" stroke="#6f9a88" stroke-width="0.90" fill="none"/><path d="M475.19 22.40H483.37" stroke="#6f9a88" stroke-width="0.90" fill="none"/><path d="M479.28 22.40V21.00" stroke="#6f9a88" stroke-width="0.90" fill="none"/><path d="M488.82 46.50V22.41" stroke="#6f9a88" stroke-width="0.90" fill="none"/><path d="M494.27 46.50V22.41" stroke="#6f9a88" stroke-width="0.90" fill="none"/><path d="M488.82 22.41H494.27" stroke="#6f9a88" stroke-width="0.90" fill="none"/><path d="M491.54 22.41V21.00" stroke="#6f9a88" stroke-width="0.90" fill="none"/><path d="M499.72 46.50V22.56" stroke="#6f9a88" stroke-width="0.90" fill="none"/><path d="M505.17 46.50V22.56" stroke="#6f9a88" stroke-width="0.90" fill="none"/><path d="M510.62 46.50V22.56" stroke="#6f9a88" stroke-width="0.90" fill="none"/><path d="M499.72 22.56H510.62" stroke="#6f9a88" stroke-width="0.90" fill="none"/><path d="M505.17 22.56V21.00" stroke="#6f9a88" stroke-width="0.90" fill="none"/><path d="M516.07 46.50V23.20" stroke="#6f9a88" stroke-width="0.90" fill="none"/><path d="M516.07 23.20V21.00" stroke="#6f9a88" stroke-width="0.90" fill="none"/>
<path d="M330 21H516" stroke="#8aa898" stroke-width="0.9" fill="none"/>
<path d="M345 20.8H372" stroke="#444" stroke-width="1" fill="none"/>
<path d="M412.5 21V17.5" stroke="#666" stroke-width="0.8" fill="none"/>
<rect x="3.00" y="374.70" width="54.79" height="8.80" fill="#e0202e"/><rect x="57.79" y="374.70" width="158.91" height="8.80" fill="#16803c"/><rect x="3.00" y="383.50" width="38.36" height="9.00" fill="#ffffff"/><rect x="41.36" y="383.50" width="10.96" height="9.00" fill="#969696"/><rect x="52.32" y="383.50" width="5.48" height="9.00" fill="#000000"/><rect x="57.79" y="383.50" width="5.48" height="9.00" fill="#969696"/><rect x="63.27" y="383.50" width="10.96" height="9.00" fill="#000000"/><rect x="74.23" y="383.50" width="5.48" height="9.00" fill="#969696"/><rect x="79.71" y="383.50" width="5.48" height="9.00" fill="#000000"/><rect x="85.19" y="383.50" width="5.48" height="9.00" fill="#969696"/><rect x="90.67" y="383.50" width="5.48" height="9.00" fill="#000000"/><rect x="96.15" y="383.50" width="27.40" height="9.00" fill="#ffffff"/><rect x="123.55" y="383.50" width="5.48" height="9.00" fill="#000000"/><rect x="129.03" y="383.50" width="27.40" height="9.00" fill="#ffffff"/><rect x="156.43" y="383.50" width="5.48" height="9.00" fill="#000000"/><rect x="161.91" y="383.50" width="27.40" height="9.00" fill="#ffffff"/><rect x="189.30" y="383.50" width="5.48" height="9.00" fill="#969696"/><rect x="194.78" y="383.50" width="21.92" height="9.00" fill="#ffffff"/><rect x="3.00" y="392.50" width="27.40" height="9.20" fill="#203a8c"/><rect x="30.40" y="392.50" width="10.96" height="9.20" fill="#22a0d6"/><rect x="41.36" y="392.50" width="10.96" height="9.20" fill="#203a8c"/><rect x="52.32" y="392.50" width="10.96" height="9.20" fill="#22a0d6"/><rect x="63.27" y="392.50" width="5.48" height="9.20" fill="#203a8c"/><rect x="68.75" y="392.50" width="16.44" height="9.20" fill="#22a0d6"/><rect x="85.19" y="392.50" width="10.96" height="9.20" fill="#203a8c"/><rect x="96.15" y="392.50" width="10.96" height="9.20" fill="#22a0d6"/><rect x="107.11" y="392.50" width="5.48" height="9.20" fill="#203a8c"/><rect x="112.59" y="392.50" width="5.48" height="9.20" fill="#22a0d6"/><rect x="118.07" y="392.50" width="10.96" height="9.20" fill="#203a8c"/><rect x="129.03" y="392.50" width="5.48" height="9.20" fill="#22a0d6"/><rect x="134.51" y="392.50" width="5.48" height="9.20" fill="#203a8c"/><rect x="139.99" y="392.50" width="16.44" height="9.20" fill="#22a0d6"/><rect x="156.43" y="392.50" width="21.92" height="9.20" fill="#203a8c"/><rect x="178.34" y="392.50" width="10.96" height="9.20" fill="#22a0d6"/><rect x="189.30" y="392.50" width="5.48" height="9.20" fill="#203a8c"/><rect x="194.78" y="392.50" width="16.44" height="9.20" fill="#22a0d6"/><rect x="211.22" y="392.50" width="5.48" height="9.20" fill="#203a8c"/><rect x="3.00" y="401.70" width="49.32" height="8.80" fill="#22a0d6"/><rect x="52.32" y="401.70" width="65.75" height="8.80" fill="#9a3c90"/><rect x="118.07" y="401.70" width="5.48" height="8.80" fill="#22a0d6"/><rect x="123.55" y="401.70" width="5.48" height="8.80" fill="#9a3c90"/><rect x="129.03" y="401.70" width="5.48" height="8.80" fill="#22a0d6"/><rect x="134.51" y="401.70" width="82.19" height="8.80" fill="#9a3c90"/><rect x="3.00" y="410.50" width="213.70" height="9.00" fill="#f05a5e"/>
<rect x="306.20" y="376.00" width="54.51" height="8.20" fill="#e0202e"/><rect x="360.71" y="376.00" width="158.09" height="8.20" fill="#16803c"/><rect x="306.20" y="384.20" width="5.45" height="9.60" fill="#969696"/><rect x="311.65" y="384.20" width="16.35" height="9.60" fill="#ffffff"/><rect x="328.01" y="384.20" width="5.45" height="9.60" fill="#969696"/><rect x="333.46" y="384.20" width="5.45" height="9.60" fill="#ffffff"/><rect x="338.91" y="384.20" width="16.35" height="9.60" fill="#969696"/><rect x="355.26" y="384.20" width="5.45" height="9.60" fill="#ffffff"/><rect x="360.71" y="384.20" width="5.45" height="9.60" fill="#000000"/><rect x="366.16" y="384.20" width="5.45" height="9.60" fill="#ffffff"/><rect x="371.62" y="384.20" width="5.45" height="9.60" fill="#969696"/><rect x="377.07" y="384.20" width="10.90" height="9.60" fill="#ffffff"/><rect x="387.97" y="384.20" width="21.81" height="9.60" fill="#000000"/><rect x="409.77" y="384.20" width="10.90" height="9.60" fill="#969696"/><rect x="420.68" y="384.20" width="10.90" height="9.60" fill="#000000"/><rect x="431.58" y="384.20" width="5.45" height="9.60" fill="#969696"/><rect x="437.03" y="384.20" width="5.45" height="9.60" fill="#000000"/><rect x="442.48" y="384.20" width="10.90" height="9.60" fill="#ffffff"/><rect x="453.38" y="384.20" width="5.45" height="9.60" fill="#969696"/><rect x="458.84" y="384.20" width="10.90" height="9.60" fill="#000000"/><rect x="469.74" y="384.20" width="5.45" height="9.60" fill="#969696"/><rect x="475.19" y="384.20" width="5.45" height="9.60" fill="#000000"/><rect x="480.64" y="384.20" width="16.35" height="9.60" fill="#ffffff"/><rect x="496.99" y="384.20" width="10.90" height="9.60" fill="#000000"/><rect x="507.90" y="384.20" width="10.90" height="9.60" fill="#969696"/><rect x="306.20" y="393.80" width="16.35" height="8.80" fill="#203a8c"/><rect x="322.55" y="393.80" width="5.45" height="8.80" fill="#22a0d6"/><rect x="328.01" y="393.80" width="10.90" height="8.80" fill="#203a8c"/><rect x="338.91" y="393.80" width="16.35" height="8.80" fill="#22a0d6"/><rect x="355.26" y="393.80" width="5.45" height="8.80" fill="#203a8c"/><rect x="360.71" y="393.80" width="5.45" height="8.80" fill="#22a0d6"/><rect x="366.16" y="393.80" width="21.81" height="8.80" fill="#203a8c"/><rect x="387.97" y="393.80" width="10.90" height="8.80" fill="#22a0d6"/><rect x="398.87" y="393.80" width="5.45" height="8.80" fill="#203a8c"/><rect x="404.32" y="393.80" width="16.35" height="8.80" fill="#22a0d6"/><rect x="420.68" y="393.80" width="27.26" height="8.80" fill="#203a8c"/><rect x="447.93" y="393.80" width="32.71" height="8.80" fill="#22a0d6"/><rect x="480.64" y="393.80" width="5.45" height="8.80" fill="#203a8c"/><rect x="486.09" y="393.80" width="10.90" height="8.80" fill="#22a0d6"/><rect x="496.99" y="393.80" width="5.45" height="8.80" fill="#203a8c"/><rect x="502.45" y="393.80" width="16.35" height="8.80" fill="#22a0d6"/><rect x="306.20" y="402.60" width="16.35" height="8.60" fill="#22a0d6"/><rect x="322.55" y="402.60" width="5.45" height="8.60" fill="#9a3c90"/><rect x="328.01" y="402.60" width="32.71" height="8.60" fill="#22a0d6"/><rect x="360.71" y="402.60" width="10.90" height="8.60" fill="#9a3c90"/><rect x="371.62" y="402.60" width="10.90" height="8.60" fill="#22a0d6"/><rect x="382.52" y="402.60" width="65.42" height="8.60" fill="#9a3c90"/><rect x="447.93" y="402.60" width="5.45" height="8.60" fill="#22a0d6"/><rect x="453.38" y="402.60" width="65.42" height="8.60" fill="#9a3c90"/><rect x="306.20" y="411.20" width="65.42" height="8.80" fill="#f05a5e"/><rect x="371.62" y="411.20" width="10.90" height="8.80" fill="#16893c"/><rect x="382.52" y="411.20" width="32.71" height="8.80" fill="#f05a5e"/><rect x="415.23" y="411.20" width="5.45" height="8.80" fill="#16893c"/><rect x="420.68" y="411.20" width="54.51" height="8.80" fill="#f05a5e"/><rect x="475.19" y="411.20" width="10.90" height="8.80" fill="#16893c"/><rect x="486.09" y="411.20" width="10.90" height="8.80" fill="#f05a5e"/><rect x="496.99" y="411.20" width="5.45" height="8.80" fill="#16893c"/><rect x="502.45" y="411.20" width="16.35" height="8.80" fill="#f05a5e"/>
<text x="231.50" y="382.20" font-size="8.60" text-anchor="start" font-weight="normal" fill="#111"  stroke="#111" stroke-width="0.2">NPM</text><rect x="252.00" y="375.50" width="2.40" height="7.20" fill="#16803c"/><text x="255.20" y="382.20" font-size="8.60" text-anchor="start" font-weight="normal" fill="#111"  stroke="#111" stroke-width="0.2">c+</text><rect x="265.80" y="375.50" width="2.20" height="7.20" fill="#e0202e"/><text x="268.60" y="382.20" font-size="8.60" text-anchor="start" font-weight="normal" fill="#111"  stroke="#111" stroke-width="0.2">c-</text><text x="219.50" y="391.80" font-size="8.60" text-anchor="start" font-weight="normal" fill="#111"  stroke="#111" stroke-width="0.2">FAB</text><rect x="238.70" y="385.20" width="2.00" height="6.60" fill="#fff" stroke="#555" stroke-width="0.7"/><text x="241.80" y="391.80" font-size="8.60" text-anchor="start" font-weight="normal" fill="#111"  stroke="#111" stroke-width="0.2">M0-M2</text><rect x="270.00" y="385.00" width="2.20" height="7.20" fill="#969696"/><text x="273.60" y="391.80" font-size="8.60" text-anchor="start" font-weight="normal" fill="#111"  stroke="#111" stroke-width="0.2">M4</text><rect x="288.40" y="385.00" width="2.20" height="7.20" fill="#000000"/><text x="291.50" y="391.80" font-size="8.60" text-anchor="start" font-weight="normal" fill="#111"  stroke="#111" stroke-width="0.2">M5</text><text x="229.00" y="401.30" font-size="8.60" text-anchor="start" font-weight="normal" fill="#111"  stroke="#111" stroke-width="0.2">FLT3</text><rect x="250.30" y="394.60" width="2.40" height="7.20" fill="#22a0d6"/><text x="253.60" y="401.30" font-size="8.60" text-anchor="start" font-weight="normal" fill="#111"  stroke="#111" stroke-width="0.2">mut</text><rect x="270.00" y="394.60" width="2.40" height="7.20" fill="#203a8c"/><text x="273.30" y="401.30" font-size="8.60" text-anchor="start" font-weight="normal" fill="#111"  stroke="#111" stroke-width="0.2">WT</text><text x="220.40" y="410.60" font-size="8.60" text-anchor="start" font-weight="normal" fill="#111"  stroke="#111" stroke-width="0.2">CD34</text><rect x="244.20" y="403.80" width="2.40" height="7.20" fill="#22a0d6"/><text x="247.50" y="410.60" font-size="8.60" text-anchor="start" font-weight="normal" fill="#111"  stroke="#111" stroke-width="0.2">+</text><rect x="255.30" y="403.80" width="2.20" height="7.20" fill="#9a3c90"/><text x="258.90" y="410.60" font-size="8.60" text-anchor="start" font-weight="normal" fill="#111"  stroke="#111" stroke-width="0.2">-</text><rect x="265.80" y="403.80" width="2.40" height="7.20" fill="#d0307a"/><text x="269.40" y="410.60" font-size="8.60" text-anchor="start" font-weight="normal" fill="#111"  stroke="#111" stroke-width="0.2">unknown</text><text x="237.80" y="420.60" font-size="8.60" text-anchor="start" font-weight="normal" fill="#111"  stroke="#111" stroke-width="0.2">NK</text><rect x="251.30" y="413.80" width="2.60" height="7.20" fill="#f05a5e"/><text x="256.90" y="420.60" font-size="8.60" text-anchor="start" font-weight="normal" fill="#111"  stroke="#111" stroke-width="0.2">AK</text><rect x="270.80" y="413.80" width="2.20" height="7.20" fill="#16893c"/>
<rect x="1.50" y="466.60" width="10.00" height="11.50" fill="#10803e"/><rect x="12.72" y="466.60" width="10.00" height="11.50" fill="#10803e"/><rect x="23.95" y="466.60" width="10.00" height="11.50" fill="#10803e"/><rect x="35.17" y="466.60" width="10.00" height="11.50" fill="#10803e"/><rect x="46.40" y="466.60" width="10.00" height="11.50" fill="#10803e"/><rect x="57.62" y="466.60" width="10.00" height="11.50" fill="#10803e"/><rect x="68.85" y="466.60" width="10.00" height="11.50" fill="#10803e"/><rect x="80.08" y="466.60" width="10.00" height="11.50" fill="#10803e"/><rect x="1.50" y="479.48" width="10.00" height="11.50" fill="#10803e"/><rect x="12.72" y="479.48" width="10.00" height="11.50" fill="#10803e"/><rect x="23.95" y="479.48" width="10.00" height="11.50" fill="#10803e"/><rect x="35.17" y="479.48" width="10.00" height="11.50" fill="#10803e"/><rect x="46.40" y="479.48" width="10.00" height="11.50" fill="#10803e"/><rect x="57.62" y="479.48" width="10.00" height="11.50" fill="#10803e"/><rect x="68.85" y="479.48" width="10.00" height="11.50" fill="#10803e"/><rect x="80.08" y="479.48" width="10.00" height="11.50" fill="#3e9830"/><rect x="1.50" y="492.36" width="10.00" height="11.50" fill="#3e9830"/><rect x="12.72" y="492.36" width="10.00" height="11.50" fill="#c6cc0c"/><rect x="23.95" y="492.36" width="10.00" height="11.50" fill="#10803e"/><rect x="35.17" y="492.36" width="10.00" height="11.50" fill="#c6cc0c"/><rect x="46.40" y="492.36" width="10.00" height="11.50" fill="#c6cc0c"/><rect x="57.62" y="492.36" width="10.00" height="11.50" fill="#10803e"/><rect x="68.85" y="492.36" width="10.00" height="11.50" fill="#3e9830"/><rect x="80.08" y="492.36" width="10.00" height="11.50" fill="#10803e"/><rect x="1.50" y="505.24" width="10.00" height="11.50" fill="#10803e"/><rect x="12.72" y="505.24" width="10.00" height="11.50" fill="#3e9830"/><rect x="23.95" y="505.24" width="10.00" height="11.50" fill="#ffb000"/><rect x="35.17" y="505.24" width="10.00" height="11.50" fill="#10803e"/><rect x="46.40" y="505.24" width="10.00" height="11.50" fill="#c6cc0c"/><rect x="57.62" y="505.24" width="10.00" height="11.50" fill="#10803e"/><rect x="68.85" y="505.24" width="10.00" height="11.50" fill="#10803e"/><rect x="80.08" y="505.24" width="10.00" height="11.50" fill="#3e9830"/><rect x="1.50" y="518.12" width="10.00" height="11.50" fill="#ffde00"/><rect x="12.72" y="518.12" width="10.00" height="11.50" fill="#10803e"/><rect x="23.95" y="518.12" width="10.00" height="11.50" fill="#3e9830"/><rect x="35.17" y="518.12" width="10.00" height="11.50" fill="#ffde00"/><rect x="46.40" y="518.12" width="10.00" height="11.50" fill="#10803e"/><rect x="57.62" y="518.12" width="10.00" height="11.50" fill="#10803e"/><rect x="68.85" y="518.12" width="10.00" height="11.50" fill="#3e9830"/><rect x="80.08" y="518.12" width="10.00" height="11.50" fill="#8cb820"/><rect x="1.50" y="531.00" width="10.00" height="11.50" fill="#3e9830"/><rect x="12.72" y="531.00" width="10.00" height="11.50" fill="#10803e"/><rect x="23.95" y="531.00" width="10.00" height="11.50" fill="#8cb820"/><rect x="35.17" y="531.00" width="10.00" height="11.50" fill="#10803e"/><rect x="46.40" y="531.00" width="10.00" height="11.50" fill="#10803e"/><rect x="57.62" y="531.00" width="10.00" height="11.50" fill="#8cb820"/><rect x="68.85" y="531.00" width="10.00" height="11.50" fill="#8cb820"/><rect x="80.08" y="531.00" width="10.00" height="11.50" fill="#ffde00"/><rect x="1.50" y="543.88" width="10.00" height="11.50" fill="#3e9830"/><rect x="12.72" y="543.88" width="10.00" height="11.50" fill="#10803e"/><rect x="23.95" y="543.88" width="10.00" height="11.50" fill="#8cb820"/><rect x="35.17" y="543.88" width="10.00" height="11.50" fill="#3e9830"/><rect x="46.40" y="543.88" width="10.00" height="11.50" fill="#8cb820"/><rect x="57.62" y="543.88" width="10.00" height="11.50" fill="#3e9830"/><rect x="68.85" y="543.88" width="10.00" height="11.50" fill="#10803e"/><rect x="80.08" y="543.88" width="10.00" height="11.50" fill="#10803e"/><rect x="1.50" y="556.76" width="10.00" height="11.50" fill="#10803e"/><rect x="12.72" y="556.76" width="10.00" height="11.50" fill="#10803e"/><rect x="23.95" y="556.76" width="10.00" height="11.50" fill="#10803e"/><rect x="35.17" y="556.76" width="10.00" height="11.50" fill="#10803e"/><rect x="46.40" y="556.76" width="10.00" height="11.50" fill="#10803e"/><rect x="57.62" y="556.76" width="10.00" height="11.50" fill="#10803e"/><rect x="68.85" y="556.76" width="10.00" height="11.50" fill="#10803e"/><rect x="80.08" y="556.76" width="10.00" height="11.50" fill="#3e9830"/><rect x="1.50" y="569.64" width="10.00" height="11.50" fill="#10803e"/><rect x="12.72" y="569.64" width="10.00" height="11.50" fill="#10803e"/><rect x="23.95" y="569.64" width="10.00" height="11.50" fill="#10803e"/><rect x="35.17" y="569.64" width="10.00" height="11.50" fill="#10803e"/><rect x="46.40" y="569.64" width="10.00" height="11.50" fill="#10803e"/><rect x="57.62" y="569.64" width="10.00" height="11.50" fill="#10803e"/><rect x="68.85" y="569.64" width="10.00" height="11.50" fill="#10803e"/><rect x="80.08" y="569.64" width="10.00" height="11.50" fill="#10803e"/><rect x="1.50" y="582.52" width="10.00" height="11.50" fill="#10803e"/><rect x="12.72" y="582.52" width="10.00" height="11.50" fill="#10803e"/><rect x="23.95" y="582.52" width="10.00" height="11.50" fill="#10803e"/><rect x="35.17" y="582.52" width="10.00" height="11.50" fill="#10803e"/><rect x="46.40" y="582.52" width="10.00" height="11.50" fill="#10803e"/><rect x="57.62" y="582.52" width="10.00" height="11.50" fill="#3e9830"/><rect x="68.85" y="582.52" width="10.00" height="11.50" fill="#10803e"/><rect x="80.08" y="582.52" width="10.00" height="11.50" fill="#8cb820"/><rect x="1.50" y="595.40" width="10.00" height="11.50" fill="#10803e"/><rect x="12.72" y="595.40" width="10.00" height="11.50" fill="#10803e"/><rect x="23.95" y="595.40" width="10.00" height="11.50" fill="#10803e"/><rect x="35.17" y="595.40" width="10.00" height="11.50" fill="#10803e"/><rect x="46.40" y="595.40" width="10.00" height="11.50" fill="#10803e"/><rect x="57.62" y="595.40" width="10.00" height="11.50" fill="#10803e"/><rect x="68.85" y="595.40" width="10.00" height="11.50" fill="#10803e"/><rect x="80.08" y="595.40" width="10.00" height="11.50" fill="#10803e"/><rect x="1.50" y="608.28" width="10.00" height="11.50" fill="#3e9830"/><rect x="12.72" y="608.28" width="10.00" height="11.50" fill="#8cb820"/><rect x="23.95" y="608.28" width="10.00" height="11.50" fill="#3e9830"/><rect x="35.17" y="608.28" width="10.00" height="11.50" fill="#3e9830"/><rect x="46.40" y="608.28" width="10.00" height="11.50" fill="#c6cc0c"/><rect x="57.62" y="608.28" width="10.00" height="11.50" fill="#8cb820"/><rect x="68.85" y="608.28" width="10.00" height="11.50" fill="#3e9830"/><rect x="80.08" y="608.28" width="10.00" height="11.50" fill="#8cb820"/><rect x="1.50" y="621.16" width="10.00" height="11.50" fill="#10803e"/><rect x="12.72" y="621.16" width="10.00" height="11.50" fill="#10803e"/><rect x="23.95" y="621.16" width="10.00" height="11.50" fill="#10803e"/><rect x="35.17" y="621.16" width="10.00" height="11.50" fill="#10803e"/><rect x="46.40" y="621.16" width="10.00" height="11.50" fill="#3e9830"/><rect x="57.62" y="621.16" width="10.00" height="11.50" fill="#10803e"/><rect x="68.85" y="621.16" width="10.00" height="11.50" fill="#10803e"/><rect x="80.08" y="621.16" width="10.00" height="11.50" fill="#10803e"/><rect x="1.50" y="634.04" width="10.00" height="11.50" fill="#8cb820"/><rect x="12.72" y="634.04" width="10.00" height="11.50" fill="#8cb820"/><rect x="23.95" y="634.04" width="10.00" height="11.50" fill="#c6cc0c"/><rect x="35.17" y="634.04" width="10.00" height="11.50" fill="#ffb000"/><rect x="46.40" y="634.04" width="10.00" height="11.50" fill="#c6cc0c"/><rect x="57.62" y="634.04" width="10.00" height="11.50" fill="#c6cc0c"/><rect x="68.85" y="634.04" width="10.00" height="11.50" fill="#8cb820"/><rect x="80.08" y="634.04" width="10.00" height="11.50" fill="#8cb820"/><rect x="1.50" y="646.92" width="10.00" height="11.50" fill="#10803e"/><rect x="12.72" y="646.92" width="10.00" height="11.50" fill="#10803e"/><rect x="23.95" y="646.92" width="10.00" height="11.50" fill="#10803e"/><rect x="35.17" y="646.92" width="10.00" height="11.50" fill="#10803e"/><rect x="46.40" y="646.92" width="10.00" height="11.50" fill="#10803e"/><rect x="57.62" y="646.92" width="10.00" height="11.50" fill="#10803e"/><rect x="68.85" y="646.92" width="10.00" height="11.50" fill="#10803e"/><rect x="80.08" y="646.92" width="10.00" height="11.50" fill="#10803e"/><rect x="1.50" y="659.80" width="10.00" height="11.50" fill="#8cb820"/><rect x="12.72" y="659.80" width="10.00" height="11.50" fill="#c6cc0c"/><rect x="23.95" y="659.80" width="10.00" height="11.50" fill="#3e9830"/><rect x="35.17" y="659.80" width="10.00" height="11.50" fill="#c6cc0c"/><rect x="46.40" y="659.80" width="10.00" height="11.50" fill="#3e9830"/><rect x="57.62" y="659.80" width="10.00" height="11.50" fill="#e01c2a"/><rect x="68.85" y="659.80" width="10.00" height="11.50" fill="#8cb820"/><rect x="80.08" y="659.80" width="10.00" height="11.50" fill="#ffde00"/><rect x="1.50" y="672.68" width="10.00" height="11.50" fill="#10803e"/><rect x="12.72" y="672.68" width="10.00" height="11.50" fill="#3e9830"/><rect x="23.95" y="672.68" width="10.00" height="11.50" fill="#10803e"/><rect x="35.17" y="672.68" width="10.00" height="11.50" fill="#3e9830"/><rect x="46.40" y="672.68" width="10.00" height="11.50" fill="#10803e"/><rect x="57.62" y="672.68" width="10.00" height="11.50" fill="#8cb820"/><rect x="68.85" y="672.68" width="10.00" height="11.50" fill="#10803e"/><rect x="80.08" y="672.68" width="10.00" height="11.50" fill="#3e9830"/><rect x="1.50" y="685.56" width="10.00" height="11.50" fill="#10803e"/><rect x="12.72" y="685.56" width="10.00" height="11.50" fill="#10803e"/><rect x="23.95" y="685.56" width="10.00" height="11.50" fill="#3e9830"/><rect x="35.17" y="685.56" width="10.00" height="11.50" fill="#10803e"/><rect x="46.40" y="685.56" width="10.00" height="11.50" fill="#3e9830"/><rect x="57.62" y="685.56" width="10.00" height="11.50" fill="#3e9830"/><rect x="68.85" y="685.56" width="10.00" height="11.50" fill="#10803e"/><rect x="80.08" y="685.56" width="10.00" height="11.50" fill="#ffb000"/><rect x="1.50" y="698.44" width="10.00" height="11.50" fill="#e01c2a"/><rect x="12.72" y="698.44" width="10.00" height="11.50" fill="#e01c2a"/><rect x="23.95" y="698.44" width="10.00" height="11.50" fill="#e01c2a"/><rect x="35.17" y="698.44" width="10.00" height="11.50" fill="#e01c2a"/><rect x="46.40" y="698.44" width="10.00" height="11.50" fill="#e01c2a"/><rect x="57.62" y="698.44" width="10.00" height="11.50" fill="#e01c2a"/><rect x="68.85" y="698.44" width="10.00" height="11.50" fill="#ffb000"/><rect x="80.08" y="698.44" width="10.00" height="11.50" fill="#e01c2a"/><rect x="1.50" y="711.32" width="10.00" height="11.50" fill="#ffb000"/><rect x="12.72" y="711.32" width="10.00" height="11.50" fill="#ffb000"/><rect x="23.95" y="711.32" width="10.00" height="11.50" fill="#ffb000"/><rect x="35.17" y="711.32" width="10.00" height="11.50" fill="#ffde00"/><rect x="46.40" y="711.32" width="10.00" height="11.50" fill="#fa8810"/><rect x="57.62" y="711.32" width="10.00" height="11.50" fill="#ee5220"/><rect x="68.85" y="711.32" width="10.00" height="11.50" fill="#ffde00"/><rect x="80.08" y="711.32" width="10.00" height="11.50" fill="#ffb000"/>
<rect x="94.10" y="466.60" width="10.00" height="11.50" fill="#ffb000"/><rect x="105.32" y="466.60" width="10.00" height="11.50" fill="#e01c2a"/><rect x="116.55" y="466.60" width="10.00" height="11.50" fill="#e01c2a"/><rect x="127.77" y="466.60" width="10.00" height="11.50" fill="#e01c2a"/><rect x="139.00" y="466.60" width="10.00" height="11.50" fill="#e01c2a"/><rect x="150.22" y="466.60" width="10.00" height="11.50" fill="#ee5220"/><rect x="161.45" y="466.60" width="10.00" height="11.50" fill="#e01c2a"/><rect x="172.68" y="466.60" width="10.00" height="11.50" fill="#e01c2a"/><rect x="94.10" y="479.48" width="10.00" height="11.50" fill="#e01c2a"/><rect x="105.32" y="479.48" width="10.00" height="11.50" fill="#fa8810"/><rect x="116.55" y="479.48" width="10.00" height="11.50" fill="#ffb000"/><rect x="127.77" y="479.48" width="10.00" height="11.50" fill="#e01c2a"/><rect x="139.00" y="479.48" width="10.00" height="11.50" fill="#e01c2a"/><rect x="150.22" y="479.48" width="10.00" height="11.50" fill="#fa8810"/><rect x="161.45" y="479.48" width="10.00" height="11.50" fill="#e01c2a"/><rect x="172.68" y="479.48" width="10.00" height="11.50" fill="#ffb000"/><rect x="94.10" y="492.36" width="10.00" height="11.50" fill="#ffb000"/><rect x="105.32" y="492.36" width="10.00" height="11.50" fill="#ffb000"/><rect x="116.55" y="492.36" width="10.00" height="11.50" fill="#fa8810"/><rect x="127.77" y="492.36" width="10.00" height="11.50" fill="#fa8810"/><rect x="139.00" y="492.36" width="10.00" height="11.50" fill="#ee5220"/><rect x="150.22" y="492.36" width="10.00" height="11.50" fill="#ffb000"/><rect x="161.45" y="492.36" width="10.00" height="11.50" fill="#fa8810"/><rect x="172.68" y="492.36" width="10.00" height="11.50" fill="#fa8810"/><rect x="94.10" y="505.24" width="10.00" height="11.50" fill="#e01c2a"/><rect x="105.32" y="505.24" width="10.00" height="11.50" fill="#e01c2a"/><rect x="116.55" y="505.24" width="10.00" height="11.50" fill="#fa8810"/><rect x="127.77" y="505.24" width="10.00" height="11.50" fill="#fa8810"/><rect x="139.00" y="505.24" width="10.00" height="11.50" fill="#ee5220"/><rect x="150.22" y="505.24" width="10.00" height="11.50" fill="#e01c2a"/><rect x="161.45" y="505.24" width="10.00" height="11.50" fill="#e01c2a"/><rect x="172.68" y="505.24" width="10.00" height="11.50" fill="#10803e"/><rect x="94.10" y="518.12" width="10.00" height="11.50" fill="#e01c2a"/><rect x="105.32" y="518.12" width="10.00" height="11.50" fill="#e01c2a"/><rect x="116.55" y="518.12" width="10.00" height="11.50" fill="#ffde00"/><rect x="127.77" y="518.12" width="10.00" height="11.50" fill="#ffb000"/><rect x="139.00" y="518.12" width="10.00" height="11.50" fill="#ffb000"/><rect x="150.22" y="518.12" width="10.00" height="11.50" fill="#e01c2a"/><rect x="161.45" y="518.12" width="10.00" height="11.50" fill="#e01c2a"/><rect x="172.68" y="518.12" width="10.00" height="11.50" fill="#ffb000"/><rect x="94.10" y="531.00" width="10.00" height="11.50" fill="#ffb000"/><rect x="105.32" y="531.00" width="10.00" height="11.50" fill="#e01c2a"/><rect x="116.55" y="531.00" width="10.00" height="11.50" fill="#ee5220"/><rect x="127.77" y="531.00" width="10.00" height="11.50" fill="#ffde00"/><rect x="139.00" y="531.00" width="10.00" height="11.50" fill="#ffb000"/><rect x="150.22" y="531.00" width="10.00" height="11.50" fill="#ffde00"/><rect x="161.45" y="531.00" width="10.00" height="11.50" fill="#ee5220"/><rect x="172.68" y="531.00" width="10.00" height="11.50" fill="#ffb000"/><rect x="94.10" y="543.88" width="10.00" height="11.50" fill="#fa8810"/><rect x="105.32" y="543.88" width="10.00" height="11.50" fill="#ee5220"/><rect x="116.55" y="543.88" width="10.00" height="11.50" fill="#ffb000"/><rect x="127.77" y="543.88" width="10.00" height="11.50" fill="#fa8810"/><rect x="139.00" y="543.88" width="10.00" height="11.50" fill="#ee5220"/><rect x="150.22" y="543.88" width="10.00" height="11.50" fill="#ee5220"/><rect x="161.45" y="543.88" width="10.00" height="11.50" fill="#ee5220"/><rect x="172.68" y="543.88" width="10.00" height="11.50" fill="#fa8810"/><rect x="94.10" y="556.76" width="10.00" height="11.50" fill="#ee5220"/><rect x="105.32" y="556.76" width="10.00" height="11.50" fill="#fa8810"/><rect x="116.55" y="556.76" width="10.00" height="11.50" fill="#ee5220"/><rect x="127.77" y="556.76" width="10.00" height="11.50" fill="#e01c2a"/><rect x="139.00" y="556.76" width="10.00" height="11.50" fill="#e01c2a"/><rect x="150.22" y="556.76" width="10.00" height="11.50" fill="#ee5220"/><rect x="161.45" y="556.76" width="10.00" height="11.50" fill="#fa8810"/><rect x="172.68" y="556.76" width="10.00" height="11.50" fill="#ffb000"/><rect x="94.10" y="569.64" width="10.00" height="11.50" fill="#e01c2a"/><rect x="105.32" y="569.64" width="10.00" height="11.50" fill="#fa8810"/><rect x="116.55" y="569.64" width="10.00" height="11.50" fill="#ee5220"/><rect x="127.77" y="569.64" width="10.00" height="11.50" fill="#e01c2a"/><rect x="139.00" y="569.64" width="10.00" height="11.50" fill="#ee5220"/><rect x="150.22" y="569.64" width="10.00" height="11.50" fill="#e01c2a"/><rect x="161.45" y="569.64" width="10.00" height="11.50" fill="#e01c2a"/><rect x="172.68" y="569.64" width="10.00" height="11.50" fill="#e01c2a"/><rect x="94.10" y="582.52" width="10.00" height="11.50" fill="#ee5220"/><rect x="105.32" y="582.52" width="10.00" height="11.50" fill="#ffb000"/><rect x="116.55" y="582.52" width="10.00" height="11.50" fill="#ffb000"/><rect x="127.77" y="582.52" width="10.00" height="11.50" fill="#e01c2a"/><rect x="139.00" y="582.52" width="10.00" height="11.50" fill="#ee5220"/><rect x="150.22" y="582.52" width="10.00" height="11.50" fill="#e01c2a"/><rect x="161.45" y="582.52" width="10.00" height="11.50" fill="#e01c2a"/><rect x="172.68" y="582.52" width="10.00" height="11.50" fill="#ee5220"/><rect x="94.10" y="595.40" width="10.00" height="11.50" fill="#ee5220"/><rect x="105.32" y="595.40" width="10.00" height="11.50" fill="#fa8810"/><rect x="116.55" y="595.40" width="10.00" height="11.50" fill="#ee5220"/><rect x="127.77" y="595.40" width="10.00" height="11.50" fill="#fa8810"/><rect x="139.00" y="595.40" width="10.00" height="11.50" fill="#ee5220"/><rect x="150.22" y="595.40" width="10.00" height="11.50" fill="#ffb000"/><rect x="161.45" y="595.40" width="10.00" height="11.50" fill="#e01c2a"/><rect x="172.68" y="595.40" width="10.00" height="11.50" fill="#fa8810"/><rect x="94.10" y="608.28" width="10.00" height="11.50" fill="#ffb000"/><rect x="105.32" y="608.28" width="10.00" height="11.50" fill="#ffb000"/><rect x="116.55" y="608.28" width="10.00" height="11.50" fill="#ffb000"/><rect x="127.77" y="608.28" width="10.00" height="11.50" fill="#ffb000"/><rect x="139.00" y="608.28" width="10.00" height="11.50" fill="#fa8810"/><rect x="150.22" y="608.28" width="10.00" height="11.50" fill="#ffb000"/><rect x="161.45" y="608.28" width="10.00" height="11.50" fill="#ee5220"/><rect x="172.68" y="608.28" width="10.00" height="11.50" fill="#ffde00"/><rect x="94.10" y="621.16" width="10.00" height="11.50" fill="#ee5220"/><rect x="105.32" y="621.16" width="10.00" height="11.50" fill="#fa8810"/><rect x="116.55" y="621.16" width="10.00" height="11.50" fill="#ffb000"/><rect x="127.77" y="621.16" width="10.00" height="11.50" fill="#fa8810"/><rect x="139.00" y="621.16" width="10.00" height="11.50" fill="#fa8810"/><rect x="150.22" y="621.16" width="10.00" height="11.50" fill="#fa8810"/><rect x="161.45" y="621.16" width="10.00" height="11.50" fill="#e01c2a"/><rect x="172.68" y="621.16" width="10.00" height="11.50" fill="#ee5220"/><rect x="94.10" y="634.04" width="10.00" height="11.50" fill="#ee5220"/><rect x="105.32" y="634.04" width="10.00" height="11.50" fill="#ee5220"/><rect x="116.55" y="634.04" width="10.00" height="11.50" fill="#ffb000"/><rect x="127.77" y="634.04" width="10.00" height="11.50" fill="#ffb000"/><rect x="139.00" y="634.04" width="10.00" height="11.50" fill="#ffb000"/><rect x="150.22" y="634.04" width="10.00" height="11.50" fill="#c6cc0c"/><rect x="161.45" y="634.04" width="10.00" height="11.50" fill="#ee5220"/><rect x="172.68" y="634.04" width="10.00" height="11.50" fill="#fa8810"/><rect x="94.10" y="646.92" width="10.00" height="11.50" fill="#ee5220"/><rect x="105.32" y="646.92" width="10.00" height="11.50" fill="#fa8810"/><rect x="116.55" y="646.92" width="10.00" height="11.50" fill="#ffb000"/><rect x="127.77" y="646.92" width="10.00" height="11.50" fill="#ee5220"/><rect x="139.00" y="646.92" width="10.00" height="11.50" fill="#ee5220"/><rect x="150.22" y="646.92" width="10.00" height="11.50" fill="#e01c2a"/><rect x="161.45" y="646.92" width="10.00" height="11.50" fill="#e01c2a"/><rect x="172.68" y="646.92" width="10.00" height="11.50" fill="#ffb000"/><rect x="94.10" y="659.80" width="10.00" height="11.50" fill="#ffde00"/><rect x="105.32" y="659.80" width="10.00" height="11.50" fill="#c6cc0c"/><rect x="116.55" y="659.80" width="10.00" height="11.50" fill="#ffb000"/><rect x="127.77" y="659.80" width="10.00" height="11.50" fill="#e01c2a"/><rect x="139.00" y="659.80" width="10.00" height="11.50" fill="#e01c2a"/><rect x="150.22" y="659.80" width="10.00" height="11.50" fill="#e01c2a"/><rect x="161.45" y="659.80" width="10.00" height="11.50" fill="#e01c2a"/><rect x="172.68" y="659.80" width="10.00" height="11.50" fill="#e01c2a"/><rect x="94.10" y="672.68" width="10.00" height="11.50" fill="#e01c2a"/><rect x="105.32" y="672.68" width="10.00" height="11.50" fill="#ffb000"/><rect x="116.55" y="672.68" width="10.00" height="11.50" fill="#e01c2a"/><rect x="127.77" y="672.68" width="10.00" height="11.50" fill="#e01c2a"/><rect x="139.00" y="672.68" width="10.00" height="11.50" fill="#ee5220"/><rect x="150.22" y="672.68" width="10.00" height="11.50" fill="#ee5220"/><rect x="161.45" y="672.68" width="10.00" height="11.50" fill="#ffb000"/><rect x="172.68" y="672.68" width="10.00" height="11.50" fill="#ffb000"/><rect x="94.10" y="685.56" width="10.00" height="11.50" fill="#ffde00"/><rect x="105.32" y="685.56" width="10.00" height="11.50" fill="#ffde00"/><rect x="116.55" y="685.56" width="10.00" height="11.50" fill="#ffb000"/><rect x="127.77" y="685.56" width="10.00" height="11.50" fill="#ffde00"/><rect x="139.00" y="685.56" width="10.00" height="11.50" fill="#ffb000"/><rect x="150.22" y="685.56" width="10.00" height="11.50" fill="#ffb000"/><rect x="161.45" y="685.56" width="10.00" height="11.50" fill="#ffde00"/><rect x="172.68" y="685.56" width="10.00" height="11.50" fill="#ffde00"/><rect x="94.10" y="698.44" width="10.00" height="11.50" fill="#10803e"/><rect x="105.32" y="698.44" width="10.00" height="11.50" fill="#10803e"/><rect x="116.55" y="698.44" width="10.00" height="11.50" fill="#10803e"/><rect x="127.77" y="698.44" width="10.00" height="11.50" fill="#10803e"/><rect x="139.00" y="698.44" width="10.00" height="11.50" fill="#10803e"/><rect x="150.22" y="698.44" width="10.00" height="11.50" fill="#10803e"/><rect x="161.45" y="698.44" width="10.00" height="11.50" fill="#10803e"/><rect x="172.68" y="698.44" width="10.00" height="11.50" fill="#8cb820"/><rect x="94.10" y="711.32" width="10.00" height="11.50" fill="#8cb820"/><rect x="105.32" y="711.32" width="10.00" height="11.50" fill="#10803e"/><rect x="116.55" y="711.32" width="10.00" height="11.50" fill="#10803e"/><rect x="127.77" y="711.32" width="10.00" height="11.50" fill="#3e9830"/><rect x="139.00" y="711.32" width="10.00" height="11.50" fill="#10803e"/><rect x="150.22" y="711.32" width="10.00" height="11.50" fill="#3e9830"/><rect x="161.45" y="711.32" width="10.00" height="11.50" fill="#ffde00"/><rect x="172.68" y="711.32" width="10.00" height="11.50" fill="#10803e"/>
<rect x="219.40" y="465.50" width="10.10" height="11.60" fill="#10803e"/><rect x="230.62" y="465.50" width="10.10" height="11.60" fill="#10803e"/><rect x="241.84" y="465.50" width="10.10" height="11.60" fill="#10803e"/><rect x="253.06" y="465.50" width="10.10" height="11.60" fill="#10803e"/><rect x="264.28" y="465.50" width="10.10" height="11.60" fill="#10803e"/><rect x="275.50" y="465.50" width="10.10" height="11.60" fill="#3e9830"/><rect x="286.72" y="465.50" width="10.10" height="11.60" fill="#10803e"/><rect x="297.94" y="465.50" width="10.10" height="11.60" fill="#e01c2a"/><rect x="219.40" y="478.40" width="10.10" height="11.60" fill="#10803e"/><rect x="230.62" y="478.40" width="10.10" height="11.60" fill="#10803e"/><rect x="241.84" y="478.40" width="10.10" height="11.60" fill="#10803e"/><rect x="253.06" y="478.40" width="10.10" height="11.60" fill="#10803e"/><rect x="264.28" y="478.40" width="10.10" height="11.60" fill="#10803e"/><rect x="275.50" y="478.40" width="10.10" height="11.60" fill="#10803e"/><rect x="286.72" y="478.40" width="10.10" height="11.60" fill="#10803e"/><rect x="297.94" y="478.40" width="10.10" height="11.60" fill="#e01c2a"/><rect x="219.40" y="491.30" width="10.10" height="11.60" fill="#10803e"/><rect x="230.62" y="491.30" width="10.10" height="11.60" fill="#10803e"/><rect x="241.84" y="491.30" width="10.10" height="11.60" fill="#10803e"/><rect x="253.06" y="491.30" width="10.10" height="11.60" fill="#10803e"/><rect x="264.28" y="491.30" width="10.10" height="11.60" fill="#10803e"/><rect x="275.50" y="491.30" width="10.10" height="11.60" fill="#e01c2a"/><rect x="286.72" y="491.30" width="10.10" height="11.60" fill="#10803e"/><rect x="297.94" y="491.30" width="10.10" height="11.60" fill="#e01c2a"/><rect x="219.40" y="504.20" width="10.10" height="11.60" fill="#10803e"/><rect x="230.62" y="504.20" width="10.10" height="11.60" fill="#10803e"/><rect x="241.84" y="504.20" width="10.10" height="11.60" fill="#10803e"/><rect x="253.06" y="504.20" width="10.10" height="11.60" fill="#10803e"/><rect x="264.28" y="504.20" width="10.10" height="11.60" fill="#10803e"/><rect x="275.50" y="504.20" width="10.10" height="11.60" fill="#10803e"/><rect x="286.72" y="504.20" width="10.10" height="11.60" fill="#10803e"/><rect x="297.94" y="504.20" width="10.10" height="11.60" fill="#10803e"/><rect x="219.40" y="517.10" width="10.10" height="11.60" fill="#10803e"/><rect x="230.62" y="517.10" width="10.10" height="11.60" fill="#10803e"/><rect x="241.84" y="517.10" width="10.10" height="11.60" fill="#10803e"/><rect x="253.06" y="517.10" width="10.10" height="11.60" fill="#10803e"/><rect x="264.28" y="517.10" width="10.10" height="11.60" fill="#10803e"/><rect x="275.50" y="517.10" width="10.10" height="11.60" fill="#10803e"/><rect x="286.72" y="517.10" width="10.10" height="11.60" fill="#10803e"/><rect x="297.94" y="517.10" width="10.10" height="11.60" fill="#10803e"/><rect x="219.40" y="530.00" width="10.10" height="11.60" fill="#10803e"/><rect x="230.62" y="530.00" width="10.10" height="11.60" fill="#10803e"/><rect x="241.84" y="530.00" width="10.10" height="11.60" fill="#10803e"/><rect x="253.06" y="530.00" width="10.10" height="11.60" fill="#10803e"/><rect x="264.28" y="530.00" width="10.10" height="11.60" fill="#10803e"/><rect x="275.50" y="530.00" width="10.10" height="11.60" fill="#10803e"/><rect x="286.72" y="530.00" width="10.10" height="11.60" fill="#10803e"/><rect x="297.94" y="530.00" width="10.10" height="11.60" fill="#e01c2a"/><rect x="219.40" y="542.90" width="10.10" height="11.60" fill="#3e9830"/><rect x="230.62" y="542.90" width="10.10" height="11.60" fill="#10803e"/><rect x="241.84" y="542.90" width="10.10" height="11.60" fill="#10803e"/><rect x="253.06" y="542.90" width="10.10" height="11.60" fill="#10803e"/><rect x="264.28" y="542.90" width="10.10" height="11.60" fill="#10803e"/><rect x="275.50" y="542.90" width="10.10" height="11.60" fill="#8cb820"/><rect x="286.72" y="542.90" width="10.10" height="11.60" fill="#10803e"/><rect x="297.94" y="542.90" width="10.10" height="11.60" fill="#8cb820"/><rect x="219.40" y="555.80" width="10.10" height="11.60" fill="#10803e"/><rect x="230.62" y="555.80" width="10.10" height="11.60" fill="#10803e"/><rect x="241.84" y="555.80" width="10.10" height="11.60" fill="#10803e"/><rect x="253.06" y="555.80" width="10.10" height="11.60" fill="#10803e"/><rect x="264.28" y="555.80" width="10.10" height="11.60" fill="#3e9830"/><rect x="275.50" y="555.80" width="10.10" height="11.60" fill="#10803e"/><rect x="286.72" y="555.80" width="10.10" height="11.60" fill="#10803e"/><rect x="297.94" y="555.80" width="10.10" height="11.60" fill="#10803e"/><rect x="219.40" y="568.70" width="10.10" height="11.60" fill="#10803e"/><rect x="230.62" y="568.70" width="10.10" height="11.60" fill="#10803e"/><rect x="241.84" y="568.70" width="10.10" height="11.60" fill="#10803e"/><rect x="253.06" y="568.70" width="10.10" height="11.60" fill="#10803e"/><rect x="264.28" y="568.70" width="10.10" height="11.60" fill="#10803e"/><rect x="275.50" y="568.70" width="10.10" height="11.60" fill="#10803e"/><rect x="286.72" y="568.70" width="10.10" height="11.60" fill="#10803e"/><rect x="297.94" y="568.70" width="10.10" height="11.60" fill="#10803e"/><rect x="219.40" y="581.60" width="10.10" height="11.60" fill="#10803e"/><rect x="230.62" y="581.60" width="10.10" height="11.60" fill="#10803e"/><rect x="241.84" y="581.60" width="10.10" height="11.60" fill="#10803e"/><rect x="253.06" y="581.60" width="10.10" height="11.60" fill="#10803e"/><rect x="264.28" y="581.60" width="10.10" height="11.60" fill="#3e9830"/><rect x="275.50" y="581.60" width="10.10" height="11.60" fill="#10803e"/><rect x="286.72" y="581.60" width="10.10" height="11.60" fill="#3e9830"/><rect x="297.94" y="581.60" width="10.10" height="11.60" fill="#10803e"/><rect x="219.40" y="594.50" width="10.10" height="11.60" fill="#10803e"/><rect x="230.62" y="594.50" width="10.10" height="11.60" fill="#10803e"/><rect x="241.84" y="594.50" width="10.10" height="11.60" fill="#10803e"/><rect x="253.06" y="594.50" width="10.10" height="11.60" fill="#10803e"/><rect x="264.28" y="594.50" width="10.10" height="11.60" fill="#10803e"/><rect x="275.50" y="594.50" width="10.10" height="11.60" fill="#10803e"/><rect x="286.72" y="594.50" width="10.10" height="11.60" fill="#10803e"/><rect x="297.94" y="594.50" width="10.10" height="11.60" fill="#10803e"/><rect x="219.40" y="607.40" width="10.10" height="11.60" fill="#10803e"/><rect x="230.62" y="607.40" width="10.10" height="11.60" fill="#10803e"/><rect x="241.84" y="607.40" width="10.10" height="11.60" fill="#10803e"/><rect x="253.06" y="607.40" width="10.10" height="11.60" fill="#10803e"/><rect x="264.28" y="607.40" width="10.10" height="11.60" fill="#10803e"/><rect x="275.50" y="607.40" width="10.10" height="11.60" fill="#10803e"/><rect x="286.72" y="607.40" width="10.10" height="11.60" fill="#10803e"/><rect x="297.94" y="607.40" width="10.10" height="11.60" fill="#10803e"/><rect x="219.40" y="620.30" width="10.10" height="11.60" fill="#10803e"/><rect x="230.62" y="620.30" width="10.10" height="11.60" fill="#10803e"/><rect x="241.84" y="620.30" width="10.10" height="11.60" fill="#10803e"/><rect x="253.06" y="620.30" width="10.10" height="11.60" fill="#10803e"/><rect x="264.28" y="620.30" width="10.10" height="11.60" fill="#10803e"/><rect x="275.50" y="620.30" width="10.10" height="11.60" fill="#10803e"/><rect x="286.72" y="620.30" width="10.10" height="11.60" fill="#10803e"/><rect x="297.94" y="620.30" width="10.10" height="11.60" fill="#10803e"/><rect x="219.40" y="633.20" width="10.10" height="11.60" fill="#10803e"/><rect x="230.62" y="633.20" width="10.10" height="11.60" fill="#10803e"/><rect x="241.84" y="633.20" width="10.10" height="11.60" fill="#10803e"/><rect x="253.06" y="633.20" width="10.10" height="11.60" fill="#10803e"/><rect x="264.28" y="633.20" width="10.10" height="11.60" fill="#10803e"/><rect x="275.50" y="633.20" width="10.10" height="11.60" fill="#10803e"/><rect x="286.72" y="633.20" width="10.10" height="11.60" fill="#10803e"/><rect x="297.94" y="633.20" width="10.10" height="11.60" fill="#10803e"/><rect x="219.40" y="646.10" width="10.10" height="11.60" fill="#10803e"/><rect x="230.62" y="646.10" width="10.10" height="11.60" fill="#10803e"/><rect x="241.84" y="646.10" width="10.10" height="11.60" fill="#10803e"/><rect x="253.06" y="646.10" width="10.10" height="11.60" fill="#10803e"/><rect x="264.28" y="646.10" width="10.10" height="11.60" fill="#10803e"/><rect x="275.50" y="646.10" width="10.10" height="11.60" fill="#10803e"/><rect x="286.72" y="646.10" width="10.10" height="11.60" fill="#ffde00"/><rect x="297.94" y="646.10" width="10.10" height="11.60" fill="#10803e"/><rect x="219.40" y="659.00" width="10.10" height="11.60" fill="#10803e"/><rect x="230.62" y="659.00" width="10.10" height="11.60" fill="#10803e"/><rect x="241.84" y="659.00" width="10.10" height="11.60" fill="#10803e"/><rect x="253.06" y="659.00" width="10.10" height="11.60" fill="#10803e"/><rect x="264.28" y="659.00" width="10.10" height="11.60" fill="#10803e"/><rect x="275.50" y="659.00" width="10.10" height="11.60" fill="#10803e"/><rect x="286.72" y="659.00" width="10.10" height="11.60" fill="#ffb000"/><rect x="297.94" y="659.00" width="10.10" height="11.60" fill="#c6cc0c"/><rect x="219.40" y="671.90" width="10.10" height="11.60" fill="#10803e"/><rect x="230.62" y="671.90" width="10.10" height="11.60" fill="#10803e"/><rect x="241.84" y="671.90" width="10.10" height="11.60" fill="#10803e"/><rect x="253.06" y="671.90" width="10.10" height="11.60" fill="#10803e"/><rect x="264.28" y="671.90" width="10.10" height="11.60" fill="#c6cc0c"/><rect x="275.50" y="671.90" width="10.10" height="11.60" fill="#c6cc0c"/><rect x="286.72" y="671.90" width="10.10" height="11.60" fill="#c6cc0c"/><rect x="297.94" y="671.90" width="10.10" height="11.60" fill="#10803e"/><rect x="219.40" y="684.80" width="10.10" height="11.60" fill="#ffde00"/><rect x="230.62" y="684.80" width="10.10" height="11.60" fill="#3e9830"/><rect x="241.84" y="684.80" width="10.10" height="11.60" fill="#3e9830"/><rect x="253.06" y="684.80" width="10.10" height="11.60" fill="#10803e"/><rect x="264.28" y="684.80" width="10.10" height="11.60" fill="#fa8810"/><rect x="275.50" y="684.80" width="10.10" height="11.60" fill="#8cb820"/><rect x="286.72" y="684.80" width="10.10" height="11.60" fill="#8cb820"/><rect x="297.94" y="684.80" width="10.10" height="11.60" fill="#3e9830"/><rect x="219.40" y="697.70" width="10.10" height="11.60" fill="#e01c2a"/><rect x="230.62" y="697.70" width="10.10" height="11.60" fill="#e01c2a"/><rect x="241.84" y="697.70" width="10.10" height="11.60" fill="#e01c2a"/><rect x="253.06" y="697.70" width="10.10" height="11.60" fill="#ffb000"/><rect x="264.28" y="697.70" width="10.10" height="11.60" fill="#e01c2a"/><rect x="275.50" y="697.70" width="10.10" height="11.60" fill="#e01c2a"/><rect x="286.72" y="697.70" width="10.10" height="11.60" fill="#e01c2a"/><rect x="297.94" y="697.70" width="10.10" height="11.60" fill="#e01c2a"/><rect x="219.40" y="710.60" width="10.10" height="11.60" fill="#fa8810"/><rect x="230.62" y="710.60" width="10.10" height="11.60" fill="#ffb000"/><rect x="241.84" y="710.60" width="10.10" height="11.60" fill="#ffb000"/><rect x="253.06" y="710.60" width="10.10" height="11.60" fill="#ffb000"/><rect x="264.28" y="710.60" width="10.10" height="11.60" fill="#ffb000"/><rect x="275.50" y="710.60" width="10.10" height="11.60" fill="#ee5220"/><rect x="286.72" y="710.60" width="10.10" height="11.60" fill="#fa8810"/><rect x="297.94" y="710.60" width="10.10" height="11.60" fill="#fa8810"/>
<rect x="311.80" y="465.50" width="10.10" height="11.60" fill="#8cb820"/><rect x="323.02" y="465.50" width="10.10" height="11.60" fill="#ffb000"/><rect x="334.24" y="465.50" width="10.10" height="11.60" fill="#e01c2a"/><rect x="345.46" y="465.50" width="10.10" height="11.60" fill="#ffb000"/><rect x="356.68" y="465.50" width="10.10" height="11.60" fill="#ee5220"/><rect x="367.90" y="465.50" width="10.10" height="11.60" fill="#ee5220"/><rect x="379.12" y="465.50" width="10.10" height="11.60" fill="#e01c2a"/><rect x="390.34" y="465.50" width="10.10" height="11.60" fill="#fa8810"/><rect x="311.80" y="478.40" width="10.10" height="11.60" fill="#ee5220"/><rect x="323.02" y="478.40" width="10.10" height="11.60" fill="#ee5220"/><rect x="334.24" y="478.40" width="10.10" height="11.60" fill="#e01c2a"/><rect x="345.46" y="478.40" width="10.10" height="11.60" fill="#ffb000"/><rect x="356.68" y="478.40" width="10.10" height="11.60" fill="#fa8810"/><rect x="367.90" y="478.40" width="10.10" height="11.60" fill="#e01c2a"/><rect x="379.12" y="478.40" width="10.10" height="11.60" fill="#ffde00"/><rect x="390.34" y="478.40" width="10.10" height="11.60" fill="#ffde00"/><rect x="311.80" y="491.30" width="10.10" height="11.60" fill="#10803e"/><rect x="323.02" y="491.30" width="10.10" height="11.60" fill="#10803e"/><rect x="334.24" y="491.30" width="10.10" height="11.60" fill="#10803e"/><rect x="345.46" y="491.30" width="10.10" height="11.60" fill="#10803e"/><rect x="356.68" y="491.30" width="10.10" height="11.60" fill="#e01c2a"/><rect x="367.90" y="491.30" width="10.10" height="11.60" fill="#e01c2a"/><rect x="379.12" y="491.30" width="10.10" height="11.60" fill="#e01c2a"/><rect x="390.34" y="491.30" width="10.10" height="11.60" fill="#10803e"/><rect x="311.80" y="504.20" width="10.10" height="11.60" fill="#e01c2a"/><rect x="323.02" y="504.20" width="10.10" height="11.60" fill="#e01c2a"/><rect x="334.24" y="504.20" width="10.10" height="11.60" fill="#e01c2a"/><rect x="345.46" y="504.20" width="10.10" height="11.60" fill="#e01c2a"/><rect x="356.68" y="504.20" width="10.10" height="11.60" fill="#e01c2a"/><rect x="367.90" y="504.20" width="10.10" height="11.60" fill="#e01c2a"/><rect x="379.12" y="504.20" width="10.10" height="11.60" fill="#e01c2a"/><rect x="390.34" y="504.20" width="10.10" height="11.60" fill="#10803e"/><rect x="311.80" y="517.10" width="10.10" height="11.60" fill="#e01c2a"/><rect x="323.02" y="517.10" width="10.10" height="11.60" fill="#e01c2a"/><rect x="334.24" y="517.10" width="10.10" height="11.60" fill="#e01c2a"/><rect x="345.46" y="517.10" width="10.10" height="11.60" fill="#e01c2a"/><rect x="356.68" y="517.10" width="10.10" height="11.60" fill="#e01c2a"/><rect x="367.90" y="517.10" width="10.10" height="11.60" fill="#e01c2a"/><rect x="379.12" y="517.10" width="10.10" height="11.60" fill="#e01c2a"/><rect x="390.34" y="517.10" width="10.10" height="11.60" fill="#10803e"/><rect x="311.80" y="530.00" width="10.10" height="11.60" fill="#10803e"/><rect x="323.02" y="530.00" width="10.10" height="11.60" fill="#e01c2a"/><rect x="334.24" y="530.00" width="10.10" height="11.60" fill="#e01c2a"/><rect x="345.46" y="530.00" width="10.10" height="11.60" fill="#e01c2a"/><rect x="356.68" y="530.00" width="10.10" height="11.60" fill="#e01c2a"/><rect x="367.90" y="530.00" width="10.10" height="11.60" fill="#e01c2a"/><rect x="379.12" y="530.00" width="10.10" height="11.60" fill="#e01c2a"/><rect x="390.34" y="530.00" width="10.10" height="11.60" fill="#10803e"/><rect x="311.80" y="542.90" width="10.10" height="11.60" fill="#e01c2a"/><rect x="323.02" y="542.90" width="10.10" height="11.60" fill="#ee5220"/><rect x="334.24" y="542.90" width="10.10" height="11.60" fill="#e01c2a"/><rect x="345.46" y="542.90" width="10.10" height="11.60" fill="#ffb000"/><rect x="356.68" y="542.90" width="10.10" height="11.60" fill="#ee5220"/><rect x="367.90" y="542.90" width="10.10" height="11.60" fill="#ee5220"/><rect x="379.12" y="542.90" width="10.10" height="11.60" fill="#e01c2a"/><rect x="390.34" y="542.90" width="10.10" height="11.60" fill="#ffb000"/><rect x="311.80" y="555.80" width="10.10" height="11.60" fill="#e01c2a"/><rect x="323.02" y="555.80" width="10.10" height="11.60" fill="#e01c2a"/><rect x="334.24" y="555.80" width="10.10" height="11.60" fill="#e01c2a"/><rect x="345.46" y="555.80" width="10.10" height="11.60" fill="#ffb000"/><rect x="356.68" y="555.80" width="10.10" height="11.60" fill="#e01c2a"/><rect x="367.90" y="555.80" width="10.10" height="11.60" fill="#e01c2a"/><rect x="379.12" y="555.80" width="10.10" height="11.60" fill="#e01c2a"/><rect x="390.34" y="555.80" width="10.10" height="11.60" fill="#fa8810"/><rect x="311.80" y="568.70" width="10.10" height="11.60" fill="#e01c2a"/><rect x="323.02" y="568.70" width="10.10" height="11.60" fill="#e01c2a"/><rect x="334.24" y="568.70" width="10.10" height="11.60" fill="#e01c2a"/><rect x="345.46" y="568.70" width="10.10" height="11.60" fill="#ffb000"/><rect x="356.68" y="568.70" width="10.10" height="11.60" fill="#ee5220"/><rect x="367.90" y="568.70" width="10.10" height="11.60" fill="#e01c2a"/><rect x="379.12" y="568.70" width="10.10" height="11.60" fill="#e01c2a"/><rect x="390.34" y="568.70" width="10.10" height="11.60" fill="#e01c2a"/><rect x="311.80" y="581.60" width="10.10" height="11.60" fill="#e01c2a"/><rect x="323.02" y="581.60" width="10.10" height="11.60" fill="#e01c2a"/><rect x="334.24" y="581.60" width="10.10" height="11.60" fill="#e01c2a"/><rect x="345.46" y="581.60" width="10.10" height="11.60" fill="#ffb000"/><rect x="356.68" y="581.60" width="10.10" height="11.60" fill="#ee5220"/><rect x="367.90" y="581.60" width="10.10" height="11.60" fill="#e01c2a"/><rect x="379.12" y="581.60" width="10.10" height="11.60" fill="#e01c2a"/><rect x="390.34" y="581.60" width="10.10" height="11.60" fill="#ee5220"/><rect x="311.80" y="594.50" width="10.10" height="11.60" fill="#e01c2a"/><rect x="323.02" y="594.50" width="10.10" height="11.60" fill="#e01c2a"/><rect x="334.24" y="594.50" width="10.10" height="11.60" fill="#e01c2a"/><rect x="345.46" y="594.50" width="10.10" height="11.60" fill="#fa8810"/><rect x="356.68" y="594.50" width="10.10" height="11.60" fill="#e01c2a"/><rect x="367.90" y="594.50" width="10.10" height="11.60" fill="#e01c2a"/><rect x="379.12" y="594.50" width="10.10" height="11.60" fill="#e01c2a"/><rect x="390.34" y="594.50" width="10.10" height="11.60" fill="#ee5220"/><rect x="311.80" y="607.40" width="10.10" height="11.60" fill="#e01c2a"/><rect x="323.02" y="607.40" width="10.10" height="11.60" fill="#ee5220"/><rect x="334.24" y="607.40" width="10.10" height="11.60" fill="#e01c2a"/><rect x="345.46" y="607.40" width="10.10" height="11.60" fill="#fa8810"/><rect x="356.68" y="607.40" width="10.10" height="11.60" fill="#e01c2a"/><rect x="367.90" y="607.40" width="10.10" height="11.60" fill="#e01c2a"/><rect x="379.12" y="607.40" width="10.10" height="11.60" fill="#e01c2a"/><rect x="390.34" y="607.40" width="10.10" height="11.60" fill="#ee5220"/><rect x="311.80" y="620.30" width="10.10" height="11.60" fill="#e01c2a"/><rect x="323.02" y="620.30" width="10.10" height="11.60" fill="#e01c2a"/><rect x="334.24" y="620.30" width="10.10" height="11.60" fill="#e01c2a"/><rect x="345.46" y="620.30" width="10.10" height="11.60" fill="#fa8810"/><rect x="356.68" y="620.30" width="10.10" height="11.60" fill="#ee5220"/><rect x="367.90" y="620.30" width="10.10" height="11.60" fill="#ee5220"/><rect x="379.12" y="620.30" width="10.10" height="11.60" fill="#e01c2a"/><rect x="390.34" y="620.30" width="10.10" height="11.60" fill="#ee5220"/><rect x="311.80" y="633.20" width="10.10" height="11.60" fill="#e01c2a"/><rect x="323.02" y="633.20" width="10.10" height="11.60" fill="#ee5220"/><rect x="334.24" y="633.20" width="10.10" height="11.60" fill="#e01c2a"/><rect x="345.46" y="633.20" width="10.10" height="11.60" fill="#fa8810"/><rect x="356.68" y="633.20" width="10.10" height="11.60" fill="#e01c2a"/><rect x="367.90" y="633.20" width="10.10" height="11.60" fill="#ee5220"/><rect x="379.12" y="633.20" width="10.10" height="11.60" fill="#e01c2a"/><rect x="390.34" y="633.20" width="10.10" height="11.60" fill="#ee5220"/><rect x="311.80" y="646.10" width="10.10" height="11.60" fill="#fa8810"/><rect x="323.02" y="646.10" width="10.10" height="11.60" fill="#ee5220"/><rect x="334.24" y="646.10" width="10.10" height="11.60" fill="#ffb000"/><rect x="345.46" y="646.10" width="10.10" height="11.60" fill="#ffde00"/><rect x="356.68" y="646.10" width="10.10" height="11.60" fill="#e01c2a"/><rect x="367.90" y="646.10" width="10.10" height="11.60" fill="#fa8810"/><rect x="379.12" y="646.10" width="10.10" height="11.60" fill="#e01c2a"/><rect x="390.34" y="646.10" width="10.10" height="11.60" fill="#ffb000"/><rect x="311.80" y="659.00" width="10.10" height="11.60" fill="#ffb000"/><rect x="323.02" y="659.00" width="10.10" height="11.60" fill="#e01c2a"/><rect x="334.24" y="659.00" width="10.10" height="11.60" fill="#ee5220"/><rect x="345.46" y="659.00" width="10.10" height="11.60" fill="#ffde00"/><rect x="356.68" y="659.00" width="10.10" height="11.60" fill="#ffde00"/><rect x="367.90" y="659.00" width="10.10" height="11.60" fill="#fa8810"/><rect x="379.12" y="659.00" width="10.10" height="11.60" fill="#ee5220"/><rect x="390.34" y="659.00" width="10.10" height="11.60" fill="#ffb000"/><rect x="311.80" y="671.90" width="10.10" height="11.60" fill="#e01c2a"/><rect x="323.02" y="671.90" width="10.10" height="11.60" fill="#e01c2a"/><rect x="334.24" y="671.90" width="10.10" height="11.60" fill="#e01c2a"/><rect x="345.46" y="671.90" width="10.10" height="11.60" fill="#ffb000"/><rect x="356.68" y="671.90" width="10.10" height="11.60" fill="#e01c2a"/><rect x="367.90" y="671.90" width="10.10" height="11.60" fill="#e01c2a"/><rect x="379.12" y="671.90" width="10.10" height="11.60" fill="#e01c2a"/><rect x="390.34" y="671.90" width="10.10" height="11.60" fill="#ffb000"/><rect x="311.80" y="684.80" width="10.10" height="11.60" fill="#fa8810"/><rect x="323.02" y="684.80" width="10.10" height="11.60" fill="#fa8810"/><rect x="334.24" y="684.80" width="10.10" height="11.60" fill="#fa8810"/><rect x="345.46" y="684.80" width="10.10" height="11.60" fill="#8cb820"/><rect x="356.68" y="684.80" width="10.10" height="11.60" fill="#fa8810"/><rect x="367.90" y="684.80" width="10.10" height="11.60" fill="#ffb000"/><rect x="379.12" y="684.80" width="10.10" height="11.60" fill="#e01c2a"/><rect x="390.34" y="684.80" width="10.10" height="11.60" fill="#ffb000"/><rect x="311.80" y="697.70" width="10.10" height="11.60" fill="#10803e"/><rect x="323.02" y="697.70" width="10.10" height="11.60" fill="#10803e"/><rect x="334.24" y="697.70" width="10.10" height="11.60" fill="#10803e"/><rect x="345.46" y="697.70" width="10.10" height="11.60" fill="#10803e"/><rect x="356.68" y="697.70" width="10.10" height="11.60" fill="#10803e"/><rect x="367.90" y="697.70" width="10.10" height="11.60" fill="#10803e"/><rect x="379.12" y="697.70" width="10.10" height="11.60" fill="#c6cc0c"/><rect x="390.34" y="697.70" width="10.10" height="11.60" fill="#10803e"/><rect x="311.80" y="710.60" width="10.10" height="11.60" fill="#8cb820"/><rect x="323.02" y="710.60" width="10.10" height="11.60" fill="#ffde00"/><rect x="334.24" y="710.60" width="10.10" height="11.60" fill="#3e9830"/><rect x="345.46" y="710.60" width="10.10" height="11.60" fill="#10803e"/><rect x="356.68" y="710.60" width="10.10" height="11.60" fill="#10803e"/><rect x="367.90" y="710.60" width="10.10" height="11.60" fill="#10803e"/><rect x="379.12" y="710.60" width="10.10" height="11.60" fill="#3e9830"/><rect x="390.34" y="710.60" width="10.10" height="11.60" fill="#10803e"/>
<text transform="translate(10.40,728.00) rotate(-90) scale(1.32,1)" font-size="8.2" font-weight="bold" text-anchor="end" fill="#111" stroke="#111" stroke-width="0.5">77</text><text transform="translate(21.62,728.00) rotate(-90) scale(1.32,1)" font-size="8.2" font-weight="bold" text-anchor="end" fill="#111" stroke="#111" stroke-width="0.5">35</text><text transform="translate(32.85,728.00) rotate(-90) scale(1.32,1)" font-size="8.2" font-weight="bold" text-anchor="end" fill="#111" stroke="#111" stroke-width="0.5">33</text><text transform="translate(44.07,728.00) rotate(-90) scale(1.32,1)" font-size="8.2" font-weight="bold" text-anchor="end" fill="#111" stroke="#111" stroke-width="0.5">32</text><text transform="translate(55.30,728.00) rotate(-90) scale(1.32,1)" font-size="8.2" font-weight="bold" text-anchor="end" fill="#111" stroke="#111" stroke-width="0.5">36</text><text transform="translate(66.53,728.00) rotate(-90) scale(1.32,1)" font-size="8.2" font-weight="bold" text-anchor="end" fill="#111" stroke="#111" stroke-width="0.5">72</text><text transform="translate(77.75,728.00) rotate(-90) scale(1.32,1)" font-size="8.2" font-weight="bold" text-anchor="end" fill="#111" stroke="#111" stroke-width="0.5">34</text><text transform="translate(88.98,728.00) rotate(-90) scale(1.32,1)" font-size="8.2" font-weight="bold" text-anchor="end" fill="#111" stroke="#111" stroke-width="0.5">71</text>
<text transform="translate(103.00,728.00) rotate(-90) scale(1.32,1)" font-size="8.2" font-weight="bold" text-anchor="end" fill="#111" stroke="#111" stroke-width="0.5">43</text><text transform="translate(114.22,728.00) rotate(-90) scale(1.32,1)" font-size="8.2" font-weight="bold" text-anchor="end" fill="#111" stroke="#111" stroke-width="0.5">22</text><text transform="translate(125.45,728.00) rotate(-90) scale(1.32,1)" font-size="8.2" font-weight="bold" text-anchor="end" fill="#111" stroke="#111" stroke-width="0.5">13</text><text transform="translate(136.67,728.00) rotate(-90) scale(1.32,1)" font-size="8.2" font-weight="bold" text-anchor="end" fill="#111" stroke="#111" stroke-width="0.5">17</text><text transform="translate(147.90,728.00) rotate(-90) scale(1.32,1)" font-size="8.2" font-weight="bold" text-anchor="end" fill="#111" stroke="#111" stroke-width="0.5">47</text><text transform="translate(159.12,728.00) rotate(-90) scale(1.32,1)" font-size="8.2" font-weight="bold" text-anchor="end" fill="#111" stroke="#111" stroke-width="0.5">6</text><text transform="translate(170.35,728.00) rotate(-90) scale(1.32,1)" font-size="8.2" font-weight="bold" text-anchor="end" fill="#111" stroke="#111" stroke-width="0.5">3</text><text transform="translate(181.58,728.00) rotate(-90) scale(1.32,1)" font-size="8.2" font-weight="bold" text-anchor="end" fill="#111" stroke="#111" stroke-width="0.5">7</text>
<text transform="translate(228.30,727.20) rotate(-90) scale(1.32,1)" font-size="8.2" font-weight="bold" text-anchor="end" fill="#111" stroke="#111" stroke-width="0.5">77</text><text transform="translate(239.52,727.20) rotate(-90) scale(1.32,1)" font-size="8.2" font-weight="bold" text-anchor="end" fill="#111" stroke="#111" stroke-width="0.5">35</text><text transform="translate(250.74,727.20) rotate(-90) scale(1.32,1)" font-size="8.2" font-weight="bold" text-anchor="end" fill="#111" stroke="#111" stroke-width="0.5">33</text><text transform="translate(261.96,727.20) rotate(-90) scale(1.32,1)" font-size="8.2" font-weight="bold" text-anchor="end" fill="#111" stroke="#111" stroke-width="0.5">32</text><text transform="translate(273.18,727.20) rotate(-90) scale(1.32,1)" font-size="8.2" font-weight="bold" text-anchor="end" fill="#111" stroke="#111" stroke-width="0.5">36</text><text transform="translate(284.40,727.20) rotate(-90) scale(1.32,1)" font-size="8.2" font-weight="bold" text-anchor="end" fill="#111" stroke="#111" stroke-width="0.5">72</text><text transform="translate(295.62,727.20) rotate(-90) scale(1.32,1)" font-size="8.2" font-weight="bold" text-anchor="end" fill="#111" stroke="#111" stroke-width="0.5">34</text><text transform="translate(306.84,727.20) rotate(-90) scale(1.32,1)" font-size="8.2" font-weight="bold" text-anchor="end" fill="#111" stroke="#111" stroke-width="0.5">71</text>
<text transform="translate(320.70,727.20) rotate(-90) scale(1.32,1)" font-size="8.2" font-weight="bold" text-anchor="end" fill="#111" stroke="#111" stroke-width="0.5">43</text><text transform="translate(331.92,727.20) rotate(-90) scale(1.32,1)" font-size="8.2" font-weight="bold" text-anchor="end" fill="#111" stroke="#111" stroke-width="0.5">22</text><text transform="translate(343.14,727.20) rotate(-90) scale(1.32,1)" font-size="8.2" font-weight="bold" text-anchor="end" fill="#111" stroke="#111" stroke-width="0.5">13</text><text transform="translate(354.36,727.20) rotate(-90) scale(1.32,1)" font-size="8.2" font-weight="bold" text-anchor="end" fill="#111" stroke="#111" stroke-width="0.5">17</text><text transform="translate(365.58,727.20) rotate(-90) scale(1.32,1)" font-size="8.2" font-weight="bold" text-anchor="end" fill="#111" stroke="#111" stroke-width="0.5">47</text><text transform="translate(376.80,727.20) rotate(-90) scale(1.32,1)" font-size="8.2" font-weight="bold" text-anchor="end" fill="#111" stroke="#111" stroke-width="0.5">6</text><text transform="translate(388.02,727.20) rotate(-90) scale(1.32,1)" font-size="8.2" font-weight="bold" text-anchor="end" fill="#111" stroke="#111" stroke-width="0.5">3</text><text transform="translate(399.24,727.20) rotate(-90) scale(1.32,1)" font-size="8.2" font-weight="bold" text-anchor="end" fill="#111" stroke="#111" stroke-width="0.5">7</text>
<path d="M3.7 746.3H87.7M94.2 746.4H178.8M220.1 745.8H304.9M310.6 745.8H395.8" stroke="#222" stroke-width="1.1" fill="none"/>
<text x="22.80" y="761.00" font-size="13.40" text-anchor="start" font-weight="normal" fill="#111"  stroke="#111" stroke-width="0.2">NPM c<tspan dx="0.6">-</tspan></text>
<text x="116.60" y="761.20" font-size="13.40" text-anchor="start" font-weight="normal" fill="#111"  stroke="#111" stroke-width="0.2">NPM c<tspan dx="1.2">+</tspan></text>
<text x="242.60" y="760.40" font-size="13.40" text-anchor="start" font-weight="normal" fill="#111"  stroke="#111" stroke-width="0.2">NPM c<tspan dx="0.6">-</tspan></text>
<text x="336.60" y="760.60" font-size="13.40" text-anchor="start" font-weight="normal" fill="#111"  stroke="#111" stroke-width="0.2">NPM c<tspan dx="1.2">+</tspan></text>
<text x="404.10" y="474.10" font-size="8.20" text-anchor="start" font-weight="normal" fill="#111"  stroke="#111" stroke-width="0.2">RASGRP3</text><text x="404.10" y="487.00" font-size="8.20" text-anchor="start" font-weight="normal" fill="#111"  stroke="#111" stroke-width="0.2">HOXB2</text><text x="404.10" y="499.90" font-size="8.20" text-anchor="start" font-weight="normal" fill="#111"  stroke="#111" stroke-width="0.2">HOXA4</text><text x="404.10" y="512.80" font-size="8.20" text-anchor="start" font-weight="normal" fill="#111"  stroke="#111" stroke-width="0.2">RAB38</text><text x="404.10" y="525.70" font-size="8.20" text-anchor="start" font-weight="normal" fill="#111"  stroke="#111" stroke-width="0.2">TOM1L1</text><text x="404.10" y="538.60" font-size="8.20" text-anchor="start" font-weight="normal" fill="#111"  stroke="#111" stroke-width="0.2">HOXB9</text><text x="404.10" y="551.50" font-size="8.20" text-anchor="start" font-weight="normal" fill="#111"  stroke="#111" stroke-width="0.2">PBX3</text><text x="404.10" y="564.40" font-size="8.20" text-anchor="start" font-weight="normal" fill="#111"  stroke="#111" stroke-width="0.2">MEIS1</text><text x="404.10" y="577.30" font-size="8.20" text-anchor="start" font-weight="normal" fill="#111"  stroke="#111" stroke-width="0.2">HOXA9</text><text x="404.10" y="590.20" font-size="8.20" text-anchor="start" font-weight="normal" fill="#111"  stroke="#111" stroke-width="0.2">HOXA10</text><text x="404.10" y="603.10" font-size="8.20" text-anchor="start" font-weight="normal" fill="#111"  stroke="#111" stroke-width="0.2">HOXA5</text><text x="404.10" y="616.00" font-size="8.20" text-anchor="start" font-weight="normal" fill="#111"  stroke="#111" stroke-width="0.2">HOXB5</text><text x="404.10" y="628.90" font-size="8.20" text-anchor="start" font-weight="normal" fill="#111"  stroke="#111" stroke-width="0.2">HOXA7</text><text x="404.10" y="641.80" font-size="8.20" text-anchor="start" font-weight="normal" fill="#111"  stroke="#111" stroke-width="0.2">HOXA6</text><text x="404.10" y="654.70" font-size="8.20" text-anchor="start" font-weight="normal" fill="#111"  stroke="#111" stroke-width="0.2">HOXB6</text><text x="404.10" y="667.60" font-size="8.20" text-anchor="start" font-weight="normal" fill="#111"  stroke="#111" stroke-width="0.2">HOXA1</text><text x="404.10" y="680.50" font-size="8.20" text-anchor="start" font-weight="normal" fill="#111"  stroke="#111" stroke-width="0.2">JAG1</text><text x="404.10" y="693.40" font-size="8.20" text-anchor="start" font-weight="normal" fill="#111"  stroke="#111" stroke-width="0.2">CTNNA1</text><text x="404.10" y="706.30" font-size="8.20" text-anchor="start" font-weight="normal" fill="#111"  stroke="#111" stroke-width="0.2">POU4F1</text><text x="404.10" y="719.20" font-size="8.20" text-anchor="start" font-weight="normal" fill="#111"  stroke="#111" stroke-width="0.2">CDKN2C</text>
<defs><linearGradient id="cs" x1="0" y1="0" x2="0" y2="1"><stop offset="0.000" stop-color="#cd1932"/><stop offset="0.047" stop-color="#e1192d"/><stop offset="0.112" stop-color="#e82323"/><stop offset="0.174" stop-color="#ee461e"/><stop offset="0.222" stop-color="#f25f19"/><stop offset="0.270" stop-color="#f57d14"/><stop offset="0.335" stop-color="#fa9b0a"/><stop offset="0.400" stop-color="#fcb905"/><stop offset="0.450" stop-color="#fccd00"/><stop offset="0.500" stop-color="#fcde00"/><stop offset="0.560" stop-color="#f5e100"/><stop offset="0.600" stop-color="#e4d905"/><stop offset="0.643" stop-color="#c8ca0f"/><stop offset="0.691" stop-color="#a5be19"/><stop offset="0.742" stop-color="#82b01e"/><stop offset="0.791" stop-color="#62a423"/><stop offset="0.840" stop-color="#429628"/><stop offset="0.890" stop-color="#288c2d"/><stop offset="0.939" stop-color="#1a8232"/><stop offset="1.000" stop-color="#147a37"/></linearGradient></defs>
<rect x="470.6" y="486.6" width="17.2" height="209" fill="url(#cs)"/>
<text x="492.40" y="499.00" font-size="7.00" text-anchor="start" font-weight="normal" fill="#111" stroke="#111" stroke-width="0.2">5</text><text x="492.40" y="512.50" font-size="7.00" text-anchor="start" font-weight="normal" fill="#111" stroke="#111" stroke-width="0.2">4</text><text x="492.40" y="525.50" font-size="7.00" text-anchor="start" font-weight="normal" fill="#111" stroke="#111" stroke-width="0.2">3</text><text x="492.40" y="535.50" font-size="7.00" text-anchor="start" font-weight="normal" fill="#111" stroke="#111" stroke-width="0.2">2.5</text><text x="492.40" y="545.50" font-size="7.00" text-anchor="start" font-weight="normal" fill="#111" stroke="#111" stroke-width="0.2">2</text><text x="492.40" y="559.10" font-size="7.00" text-anchor="start" font-weight="normal" fill="#111" stroke="#111" stroke-width="0.2">1.5</text><text x="492.40" y="572.50" font-size="7.00" text-anchor="start" font-weight="normal" fill="#111" stroke="#111" stroke-width="0.2">1.2</text><text x="492.40" y="592.50" font-size="7.00" text-anchor="start" font-weight="normal" fill="#111" stroke="#111" stroke-width="0.2">1</text><text x="492.40" y="602.50" font-size="7.00" text-anchor="start" font-weight="normal" fill="#111" stroke="#111" stroke-width="0.2">0.9</text><text x="492.40" y="612.80" font-size="7.00" text-anchor="start" font-weight="normal" fill="#111" stroke="#111" stroke-width="0.2">0.8</text><text x="492.40" y="623.50" font-size="7.00" text-anchor="start" font-weight="normal" fill="#111" stroke="#111" stroke-width="0.2">0.7</text><text x="492.40" y="633.50" font-size="7.00" text-anchor="start" font-weight="normal" fill="#111" stroke="#111" stroke-width="0.2">0.6</text><text x="492.40" y="644.20" font-size="7.00" text-anchor="start" font-weight="normal" fill="#111" stroke="#111" stroke-width="0.2">0.5</text><text x="492.40" y="654.50" font-size="7.00" text-anchor="start" font-weight="normal" fill="#111" stroke="#111" stroke-width="0.2">0.4</text><text x="492.40" y="664.70" font-size="7.00" text-anchor="start" font-weight="normal" fill="#111" stroke="#111" stroke-width="0.2">0.3</text><text x="492.40" y="675.20" font-size="7.00" text-anchor="start" font-weight="normal" fill="#111" stroke="#111" stroke-width="0.2">0.2</text><text x="492.40" y="685.40" font-size="7.00" text-anchor="start" font-weight="normal" fill="#111" stroke="#111" stroke-width="0.2">0.1</text><text x="492.40" y="695.50" font-size="7.00" text-anchor="start" font-weight="normal" fill="#111" stroke="#111" stroke-width="0.2">0</text>
</svg>
</body></html>
